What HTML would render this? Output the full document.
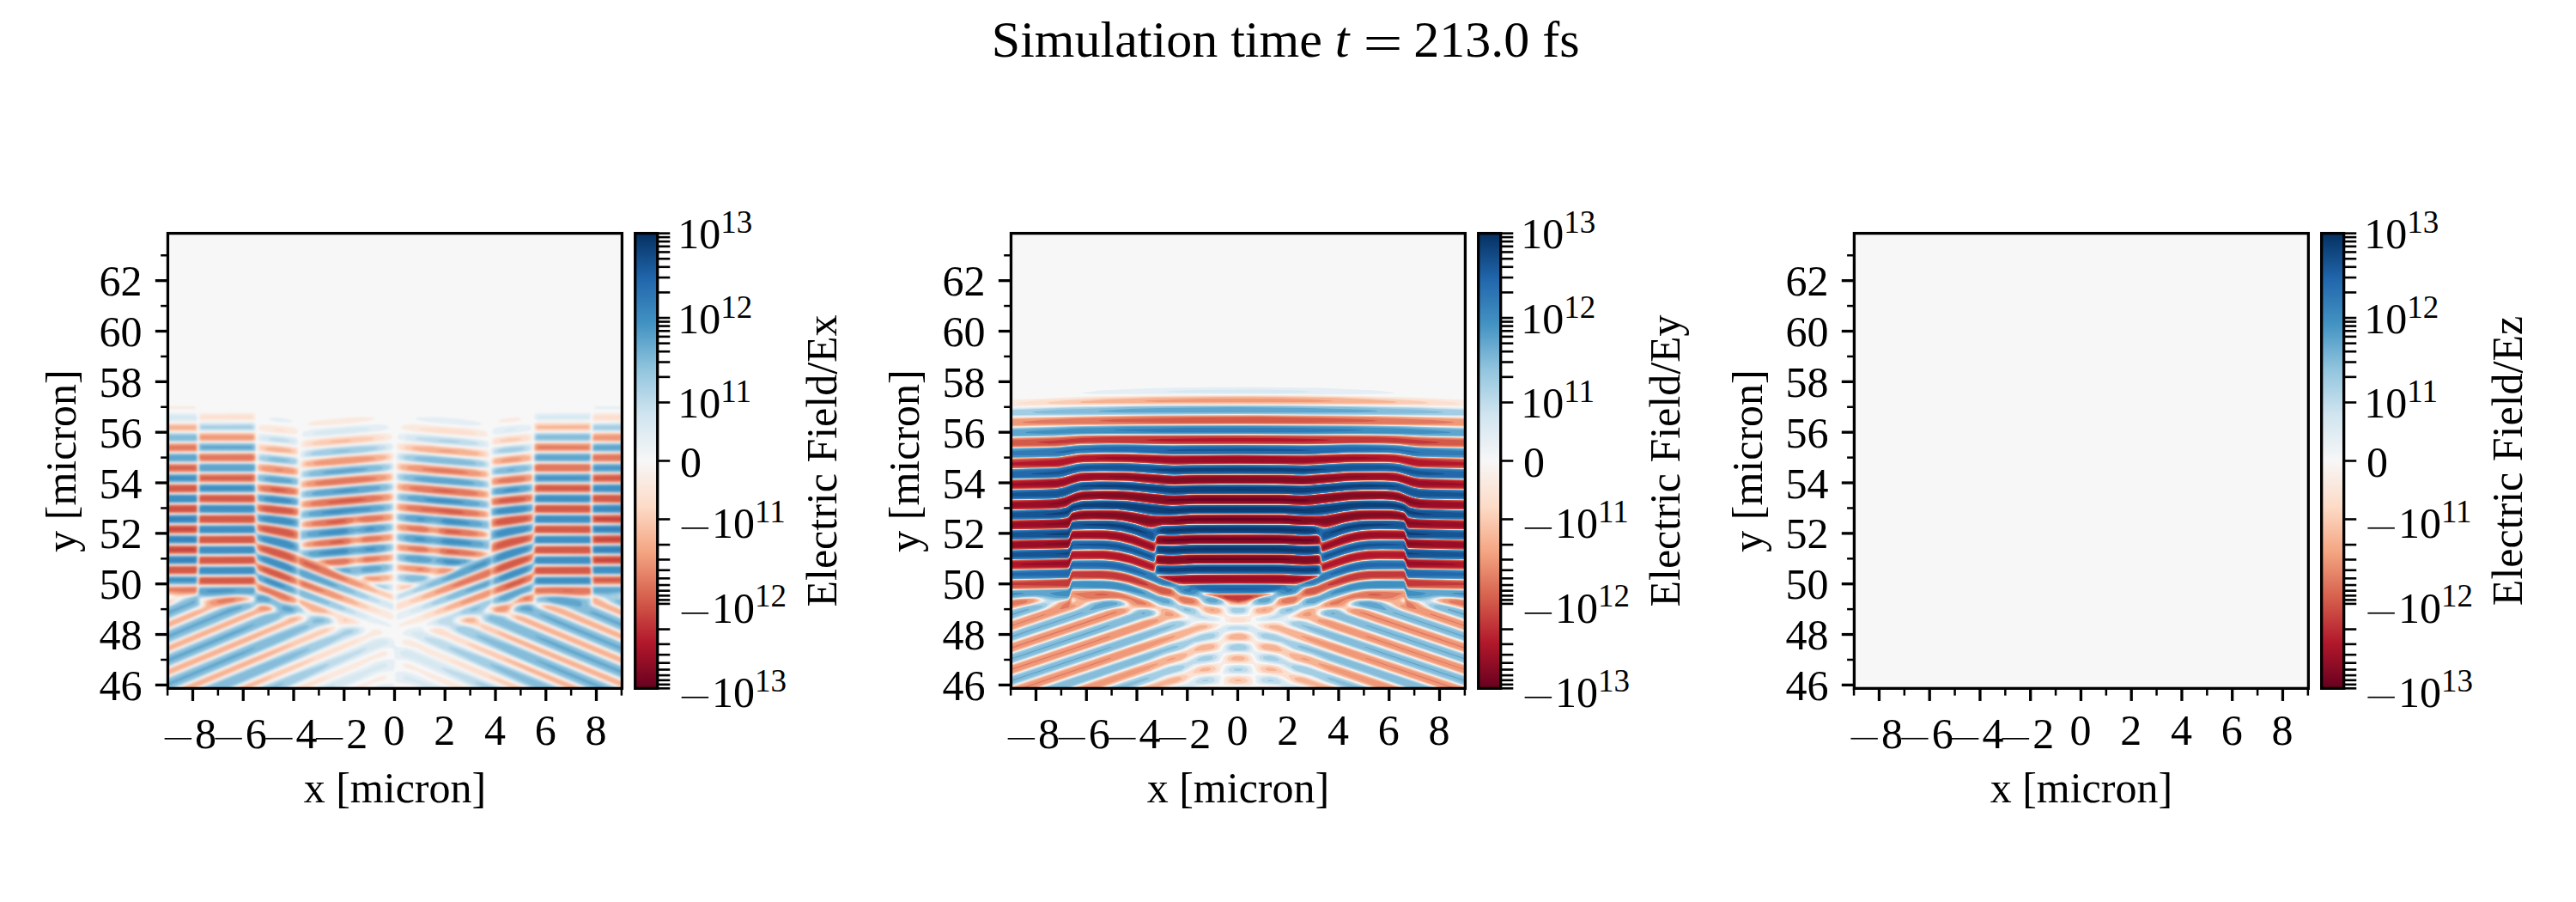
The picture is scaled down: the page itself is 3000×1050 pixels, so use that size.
<!DOCTYPE html>
<html><head><meta charset="utf-8"><title>Simulation time t = 213.0 fs</title>
<style>html,body{margin:0;padding:0;background:#fff}svg{display:block}</style></head><body>
<svg width="3000" height="1050" viewBox="0 0 3000 1050">
<defs><linearGradient id="cb" x1="0" y1="0" x2="0" y2="1"><stop offset="0.0" stop-color="#053061"/><stop offset="0.1" stop-color="#2166ac"/><stop offset="0.2" stop-color="#4393c3"/><stop offset="0.3" stop-color="#92c5de"/><stop offset="0.4" stop-color="#d1e5f0"/><stop offset="0.5" stop-color="#f7f7f7"/><stop offset="0.6" stop-color="#fddbc7"/><stop offset="0.7" stop-color="#f4a582"/><stop offset="0.8" stop-color="#d6604d"/><stop offset="0.9" stop-color="#b2182b"/><stop offset="1.0" stop-color="#67001f"/></linearGradient><filter id="bl0" x="-2%" y="-2%" width="104%" height="104%"><feGaussianBlur stdDeviation="2.6"/></filter><filter id="bl1" x="-2%" y="-2%" width="104%" height="104%"><feGaussianBlur stdDeviation="1.0"/></filter></defs>
<rect width="3000" height="1050" fill="#fff"/>
<g font-family="Liberation Serif, serif" font-size="60" fill="#000"><text x="1154.8" y="66">Simulation time <tspan font-style="italic">t</tspan></text><text transform="translate(1587.6 70.3) scale(1.36 1)">=</text><text x="1646.3" y="66">213.0 fs</text></g>
<g id="p0">
<rect x="195.45" y="271.6" width="528.95" height="529.75" fill="#f7f7f7"/>
<clipPath id="cl0"><rect x="195.45" y="271.60" width="528.95" height="529.75"/></clipPath><g clip-path="url(#cl0)"><g transform="translate(195.45 271.60) scale(0.5)" filter="url(#bl0)" fill-rule="evenodd"><path fill="#e4eef4" d="M994 405l5-2 58 0 0 4 0 2-62 0-2-2zM1 419l64 0 2 2 2 3 0 11-1 2-5 1-62 0-1-7zM858 419l121-1 4 1 2 2 0 10-1 4-5 1-118 0-5-1-2-4 0-8zM583 429l40-1 62 5 38 6 5 2 3 4-6 2-20 1-85-7-37-6-5-2-1-2zM236 431l13-2 20 2 17 4 3 2 0 2-10 1-23-1-19-4-3-2zM72 441l7-2 120 1 6 3 1 12-1 4-6 2-122 0-4-1-1-3zM992 441l65-1 2 5-1 16-1 1-68 0-2-3 1-12 1-4zM446 447l43-2 20 2 6 4-2 4-10 3-13 3-78 8-73 5-20 0-4-1-2-4 1-4 3-3 18-5 44-5zM810 447l21-1 12 1 2 2 2 4-1 4-3 2-19 4-45 5-18 0-5-3 1-8 6-4 18-3zM857 463l128 0 2 2-1 16-1 4-4 0-126 0-2-1-2-3 0-12 2-5zM0 465l1-2 66 1 3 3 1 18 2 1 130 1 2 0 2 4-1 16-1 2-6 0-124 0-3-2-2-20-69-1-2-1zM219 467l42 3 36 5 6 4 1 10-3 4-8 0-78-8-4-2-1-2-1-8 2-5zM541 467l16-1 34 1 130 12 22 4 5 4 1 6-2 4-2 2-16 0-169-14-15-3-8-3-2-4 1-4zM484 489l29-1 10 2 3 5-1 6-3 4-7 2-57 6-129 10-16 1-3-1-2-4 1-8 1-4 9-3 52-6zM988 489l7-2 62 0 2 2 0 20-2 1-68 0-2 3 0 16-2 4-132 0-2-2 0-16 2-4 2-1 130 0 2-2zM814 491l33-2 2 3 1 9-1 5-2 2-80 9-10 0-4-2-1-12 5-5zM1 511l66 0 3 2 1 20 2 1 130 0 2 1 1 4 0 18-133 0-2-2-1-20-69-1-2-3 0-18zM535 511l12-1 32 2 162 15 8 3 2 16 6-3 92-8 2 4 0 12-2 4-4 2-90 8-3-2-1-16-10 1-160-13-44-5-4-2-2-5 1-8zM209 513l4-2 88 9 5 5 0 14-3 2-8 0-84-9-3-3zM488 535l29-2 8 1 2 5 0 8-1 4-3 2-28 4-178 15-8-1-3 16-1 2-92-9-5-1-1-4 0-17 72 6 26 4 2-1 2-15 6-2zM990 535l68 0 1 22-2 1-68 0-2 1 0 20-1 2-3 0-128 0-3 2-1 17-2 3-90 9-6 0-1-1-3-16-28-1-175-15-12-2-3-2-1-4 1-12 2-2 6-1 176 14 33 5 3 14 2 2 96-10 2-2 1-18 3-3 132 0 1-19 1-4zM-1 559l70 0 1 4 1 18-4 1-66 0-2-1zM499 581l22-2 5 2 2 4 0 10-1 4-4 2-204 18-10-1-2 15-2 3-96-9-2-3-2-17-2-2-128 0-3 0-1-22 2-1 128 0 3 1 1 2 2 16 2 3 96 10 2-2 2-14 4-1zM988 583l69-1 2 1 0 22-70 0-2-2zM531 605l4-2 208 17 6 2 2 13 2 2 96-10 2-2 2-17 4-2 128 0 2 2 0 21-6 0-126 0-3 4-1 14-2 3-96 11-2-2-2-16-214-19-4-1-1-2 0-10zM-1 607l70-1 1 3 0 20-5 0-64 0-2 0zM511 627l12-1 4 2 1 15-2 4-3 1-214 21-1 16 1 2 18 1 196-15 4 2 1 4 0 12-3 3-32 5-171 16-12 4-1 13 4 2 14 1 74-6 38-4 84-5 4 3 1 14-2 4-5 2-82 9-42 2-56 6-14-3-23-10-33-11-60-16-4-5-3-12-3-2-128 0-2 2-2 21-68 1-2-2 0-20 2-2 68 0 2-2 1-20 3-1 128 0 2 5 2 11 2 3 48 9 44 11 4 0 2-4-1-22-2-2-37-7-56-8-4-4-2-13-2-4-132 0-1 22-1 1-69 1-1-22 2-1 68-1 2 0 0-20 2-3 130 0 2 5 2 14 2 2 96 11 2-3 2-14 2-2zM987 631l4-1 66 0 2 1 0 22-70 0-1-2zM531 651l6-1 212 16 2 19 2 3 96-14 2-3 2-12 2-5 130 0 2 3 1 20 69 0 2 2 0 20-2 2-68-1-1-1-1-20-2-2-130 0-2 4-2 12-3 4-57 11-36 10-3 3-2 18-5 1-44-6-137-11-31-5-3-3 0-12 1-5 4-1 84 5 56 5 60 4 10 0 4-2 1-8-1-7-13-3-201-19-4-3-1-2 0-12zM854 703l3-1 128 0 2 3 1 18 1 1 68 1 2 2 0 20-2 1-68 0-2-19-2-4-130 0-4 14-4 4-60 19-104 41-148 53-4-2-1-9 3-6 36-14 8-4 4-4-26-2-20-3-4-3-1-4 1-10 2-3 22-1 48 4 8 1 4 5 4 0 32-9 18-7 9-6-59-4-84-9-4-3-1-4 0-12 3-3 22 0 64 4 102 11 66-23 60-16 4-3zM72 727l5-1 126 0 4 13 4 4 70 23 88 35 154 59 4 3 0 12-2 3-2 0-8-2-94-33-208-76-5-4-5-14-128 0-3 2-2 18-1 2-2 1-66 0-2-1 0-20 1-2 69-1 1-1zM854 751l3-1 128 0 1 3 2 16 1 3 69 1 1 22-2 1-66 0-3-3-2-18-3-2-128 0-6 14-6 4-238 87-66 21-4 0-3-2 0-6 1-4 6-4 102-40 206-77 4-3zM486 769l39-1 2 3 0 14-2 3-20 4-49 5-6 2-5 3-36-9-20-8-9-6 3-2zM72 775l7-1 124 0 5 13 3 3 237 89 71 32 2 4-4 1-44-9-29-10-41-13-72-27-28-11-90-33-4-2-6-14-128 0-4 2-1 16-3 4-66 1-2-1 1-22 67-1 2-1 1-2zM854 799l3-2 126 1 3 1 1 2 1 16 3 3 67 1 1 48-2 4-27-12-19-12-20-5-2-3-2-16-2-3-128-1-3 2-3 10-3 4-25 7-30 16-28 5-10 0-10 8-3 6 3 3 10 0 8 4 24 3 19 12 251 104 2 4-1 28-1 1-297-123-22-8-6-4-5-8-4-3-16-2-22 2-10 5-3 4 1 4 8 4 32 7 340 143-8 1-70 0-306-128-21-13-13-3-32-3-1-2 2-4 19-10 32-11 37-15 155-58 3-2zM478 815l45 0 3 4 0 10-2 4-3 1-14-3-26-10-5-4zM72 823l7-2 122 0 2 2 4 10 4 3 24 7 32 16 26 5 10-1 15 12 9 10 36 4 14 4 10 6 3 4-1 4-6 4-32 8-24 11-310 130-16 0-2-1 0-24 2-2 286-120 28-10 4-2 2-4 1-4-3-3-14-3-26 5-20 11-258 108-2-2 0-28 2-4 214-89 29-7 5-4-3-6-7-5-14-2-14 1-14 10-40 16-156 65-2-3 0-28 2-3 116-49 32-9 46-8 4-3-1-4-4-2-29-4-34 2-52 7-2 3 2 10-4 5-74 30-2-1 0-30 2-2 13-6 19-12 34-7 3-5zM883 843l26 0 56 4 18 0 2 2 2 14 4 4 66 28 2 4-1 28-1 1-136-57-24-6-18-3-12 1-5 2 0 2 4 4 8 4 39 15 144 60 2 5-1 28-1 0-222-92-32-9-1-3 1-4 4-6 4-3 16-4 28-1 0-12 2-3zM0 845l1-2 4 2 1 2-5 3zM417 915l26-1 14 4 3 3 1 4-3 4-5 4-32 12-270 114-8 1-68 0-4-1 314-130 18-12zM573 919l12-2 6 1 9 9 10 6 31 10 279 116-9 1-68 0-242-103-28-14-24-8-2-2 0-2 4-4 8-5zM496 941l15-1 10 4 6 5 3 12 3 2 22 2 16 4 216 90-2 0-54 1-20-1-140-61-18-5-24-2-2-22-4-3-8-1-14 1-14 5-206 88-64 1-13-1 251-103 22-11zM509 993l18-1 2 1-1 20-3 5-24 3-14 4-78 34-44 1-26-1 118-48 28-13zM536 1021l17 0 16 4 80 34-22 1-38-1-26-9-30-5-3-4 0-14 1-4zM508 1049l17 0 3 4 0 6-27 1-26-1 16-7z"/><path fill="#d7e8f1" d="M1 425l0-1 60 0 4 1 2 6-2 3-4 1-60 0zM862 425l115-1 4 2 1 3-1 2-6 1-110 0-4-1-2-2zM75 443l6-1 118 0 3 3 2 8-1 4-6 3-118 0-4-1-2-3 0-9zM993 443l64-1 1 17-1 2-65 0-3-3 0-7 1-6zM425 453l28-1 16 1 4 2-2 2-17 4-81 8-26 0-9-2 1-2 4-2 18-4zM797 455l15 0 2 2-17 4-14 0-3-2zM1 465l66 0 2 4 1 14-1 2-4 1-64 0-1-5zM856 465l9-1 116 0 4 1 1 2 0 12-1 4-6 2-120 0-5-2-2-4 1-10zM561 471l46 0 88 7 34 6 8 3 3 4-1 3-4 1-18 1-57-3-63-6-29-4-14-4-3-4 2-2zM218 473l21-2 38 4 17 4 3 2 2 4-2 4-8 1-48-4-23-5-3-4zM72 489l1-2 126 0 4 1 2 3 1 12-1 4-6 2-122 0-4-1-1-3zM990 489l5-1 62 0 1 3 0 18-1 1-68-1-1-2 0-10zM484 491l23 0 8 2 3 2 1 4-4 4-15 4-52 6-105 8-24 0-4-1-3-3 0-4 3-4 8-3 12-3 70-7zM811 493l22-1 12 1 2 2 1 6-2 4-3 2-23 4-49 4-12 0-4-4 2-8 6-4zM858 511l126 0 2 2 0 16-1 3-4 1-124 0-4-2-1-12 1-6zM0 513l1-2 66 1 3 3 0 16 0 2-3 1-66 0-1-3zM543 513l18-1 36 3 130 11 18 5 3 4 0 6-1 2-4 3-20 0-90-7-78-8-12-2-7-4-1-4 0-4 4-3zM211 515l6-2 18 1 60 7 8 4 1 4 0 6-3 4-8 1-38-3-40-5-4-2-2-3 0-8zM73 535l130 0 3 4 0 14-1 2-6 2-126-1-1-3-1-14zM507 535l14 1 3 3 1 4 0 4-3 4-13 3-178 16-18-1-4-4 0-6 2-5 4-2 10-2 102-10zM827 537l18-1 4 2 1 11-1 4-2 2-26 4-56 5-8 0-4-3 0-12 6-5zM989 537l6-2 62 0 1 4 0 18-69 0-1-4zM0 559l67 0 2 1 1 3 0 16-1 2-68 0-1 0-1-4zM536 559l11-1 34 2 152 13 14 4 2 3 0 9-2 4-2 1-16 0-182-16-10-2-4-3-1-8 1-4zM855 559l130 0 2 4-1 16-2 2-5 0-124 0-3-2 0-12 1-6zM208 561l3-2 14 0 74 8 4 2 3 4-1 12-2 3-8 0-84-9-3-4zM72 583l129-1 2 1 2 4 1 18-131 0-3-2-1-14zM480 583l33-2 10 1 3 5 0 8-3 4-7 2-59 6-128 10-18 0-3-4 2-12 9-4zM832 583l15-1 3 1 1 14-1 4-3 2-84 9-8 0-3-3 0-14 5-4zM990 583l67-1 1 3 0 20-69 0-1-2 0-16zM535 605l12-1 34 2 159 15 7 2 2 2 2 15 14-4 84-8 2-1 2-18 4-3 129 1 0 2 1 14-2 6-130 0-3 2-1 16-4 3-94 10-2-3-1-16-1-1-6 2-20-1-180-16-8-2-3-4 0-10zM0 607l69 0 1 2 0 18-1 2-68 0-2-2zM206 607l1-2 18 1 76 8 5 3 1 2-1 14-3 2-91-8-3-1-2-4zM490 629l27-2 7 2 3 4 0 8-2 4-4 2-48 6-154 13-10 0-2 19-2 3-94-15-4-4-1-12-3-4-131 0-1-6 0-14 1-2 3-1 126 0 3 3 2 16 3 2 66 7 30 5 2-1 2-15 6-3zM988 631l69-1 1 3 0 20-68 0-2-2zM539 651l36 1 170 15 4 1 2 20 2 2 38-8 58-8 3-3 2-14 1-3 128 0 3 1 0 2 1 17-1 3-131 0-3 4-1 11-4 4-56 12-38 9-2 4-2 17-4 1-177-16-33-6-4-4 0-10 3-4 7-2 28 1 168 14 12 0 1-5 0-12-1-4-180-16-32-4-5-4-1-10 2-5zM0 655l69-1 1 3 0 18-1 1-6 1-63 0zM497 675l22-1 6 2 2 7-1 8-3 3-6 1-30 4-150 13-28 4-1-1 0-20 1-5zM73 679l130-1 4 17 2 2 48 9 48 12 2 3 2 14 2 0 42-2 86-7 74-5 8 0 4 2 2 4 0 8-2 4-2 2-22 4-162 14-21-6-13-7-46-14-48-13-3-2-3-12-2-4-132 0 0-13zM988 679l1-1 68 0 1 1 0 20-1 2-68-1zM0 703l1-2 68 0 2 2-1 20-7 1-62 0-1-1zM855 703l128-1 2 1 1 2 1 20 70 0 1 2 0 20-1 1-66 0-2-1-1-2-1-19-132-1-2 4-3 10-4 4-91 30-62 26-84 30-70 23-4 1-2-2-1-6 4-4 35-15 8-4 5-5-2-2-23 0-20-4-4-3-2-3 0-6 2-5 6-2 14 0 53 5 5 6 4 0 34-10 18-8 11-6-3-2-20 0-88-7-28-4-7-3-3-4 1-10 3-4 22 0 145 12 17 3 12-3 56-21 61-15 3-4zM73 727l130-1 4 14 4 4 64 20 185 73 61 26 3 4 0 4-2 2-4 0-77-24-227-82-6-4-5-14-130 0-2 2-1 18-3 3-66 0-1-1-1-20 2-2 68 0 2-2zM855 751l128-1 3 3 2 18 1 1 68 1 1 2 0 20-1 1-66-1-2-2-2-16-2-4-130 0-6 14-2 2-32 12-190 68-42 12-16 2-7 0 4-4 14-8 50-22 105-40 22-7 42-18 50-17 4-4zM493 769l20-1 10 1 3 4 0 6-1 5-2 3-22 5-48 4-10 5-34-8-19-8-8-6zM73 775l130-1 5 13 3 3 202 77 40 18 10 6 3 4-5 1-9-1-45-12-84-29-20-10-12-2-36-13-44-17-3-3-5-12-130 0-2 2-2 16-2 4-66 0-2-4 1-18 69-1zM855 799l128-1 3 3 2 18 3 1 66 1 1 4 0 38-1 9-25-11-19-12-22-6-2-4-2-16-2-2-128 0-3 2-5 12-26 9-26 14-12 3-20 3-6 0-4-1-14 12-2 4 1 4 5 1 10-1 8 4 22 3 19 11 253 105 1 3 0 26-1 3-318-133-4-2-6-10-4-3-20-1-24 3-10 5-3 4 1 4 8 5 33 7 341 142-16 1-58-1-306-128-20-14-30-6-4-2-1-2 3-4 11-6 31-11 33-15 61-22 14-6 78-29 3-3zM479 817l6-1 32 1 6 4 0 6-4 4-10-1-20-6zM73 823l128-1 3 3 3 9 3 3 25 6 30 16 28 6 10-1 15 13 2 4 0 4-5 1-12-1-6 3-20 4-20 11-256 107-1-3 0-26 1-3 215-89 30-8 4-4-2-6-9-5-14-3-14 1-16 11-194 80-1-2 0-26 1-4 120-51 38-9 36-6 4-2 1-6-3-2-26-4-30 1-64 6-2 5 2 10-4 4-72 30-1-2 0-26 1-3 16-7 18-11 32-8 3-3 1-13zM866 845l33-2 84 5 2 3 1 12 3 4 68 28 1 10-1 22-134-56-38-9-14-1-12 1-3-5 0-8 3-3zM1 847l0-2 1 2zM826 863l17-1 10 1 10 8 48 19 146 61 1 6 0 24-1 1-220-92-30-8-4-3 3-8 7-5zM338 889l23 1 17 5 6 4 2 4-1 4-4 2-30 8-88 39-246 103-16 1-1-1 0-22 1-4 264-109 50-19 6-4 6-11zM419 917l20 0 12 4 1 2 1 4-7 6-27 10-106 46-168 71-62 0-10-1 210-87 104-41 18-12zM575 927l12 0 20 8 30 9 281 115-7 1-60 0-7-1-244-106-31-18-1-4zM489 947l12-1 10 2 3 3 0 4-5 3-26 9-205 92-37 1-34-1 138-56zM544 973l11-2 14 3 26 12 187 73-29 1-35-1-137-64-34-10-6-6 1-4zM492 1003l9-2 8 1 3 3 0 2-3 4-34 11-20 11-56 26-28 0-24 0 118-44zM550 1031l9-1 8 2 22 11 45 16-32 0-21-12-30-8-4-4zM494 1059l9-2 5 2z"/><path fill="#c0dceb" d="M77 445l118-1 6 3 1 6-2 4-5 1-116 0-4-1-1-4 1-6zM994 445l63-1 0 15 0 1-64-1-3-2 0-6 1-4zM0 467l1-2 64 1 2 1 2 4 0 10-2 3-66 1zM856 467l9-2 114 0 4 1 2 2 0 11-1 4-5 1-120 0-4-2-1-3 0-8zM583 475l38 0 54 4 39 6 10 4 0 2-9 2-22 0-76-6-35-6-5-2-1-2zM236 477l11-1 16 1 12 2 10 4-1 2-7 1-21-1-19-4-3-2zM73 489l8-1 118 0 5 3 1 10-2 6-6 1-120 0-4-1-1-2 0-12zM992 489l65-1 1 7 0 14-67 0-3-2 1-16zM443 495l40-2 20 2 4 2 1 2-1 2-10 4-10 2-50 6-84 6-26 0-6-1-3-3 3-4 3-2 17-4 40-5zM810 495l21-1 11 3 1 2-1 4-9 4-25 4-33 2-12 0-4-2 0-2 2-5 6-3 18-4zM0 513l1-1 66 0 3 5 0 14-2 2-67 0-1-4zM855 513l10-2 120 1 1 3-1 16-6 2-120-1-5-1-1-4-1-8zM550 515l19-1 36 2 108 10 25 5 6 4 1 4-2 3-4 2-18 1-57-4-86-8-26-4-10-4-2-2 0-4 3-2zM213 517l8-2 16 1 48 5 14 4 3 4 0 4-3 5-8 1-28-2-40-5-8-2-4-3-1-6zM72 537l3-2 124 0 4 1 2 3 0 12-2 5-6 1-120 0-5-2zM485 537l28 0 6 1 2 3 1 4-3 4-9 4-12 2-82 8-80 6-19-1-4-2-2-3 1-4 3-4 16-5 56-6zM989 537l6-2 62 0 1 6 0 16-68 0-2-4zM813 539l24-2 10 1 2 4 0 7-2 4-2 1-30 5-46 4-11 0-4-4 1-9 6-5zM859 559l123 0 4 2 0 16-1 3-6 1-120 0-6-2-1-8 2-10zM0 561l1-2 66 1 3 3 0 16-2 2-67 0-1-4zM210 561l24 0 63 7 4 1 3 4 1 10-4 4-8 0-79-8-4-2-2-2 0-10zM537 561l12-2 32 1 140 12 22 5 4 4 1 6-2 4-3 1-17 1-165-14-18-3-6-3-3-6 1-4zM74 583l127 0 2 1 2 4 0 13-2 3-6 1-122 0-3-2 0-18zM488 583l27-1 8 3 2 6-2 5-4 3-9 2-78 8-103 8-14-1-3-1-2-4 0-6 3-4 16-4zM841 583l8 0 1 4 0 12-1 2-5 2-79 8-8 0-4-3 0-11 4-5 20-3zM992 583l65 0 1 6 0 16-67 0-3-2 0-16 1-3zM0 607l68 0 2 4 0 16-3 2-66 0-1-4zM208 607l21 0 70 7 4 2 2 3 1 12-3 3-6 1-82-8-6-2-2-10zM536 607l9-2 30 1 156 14 10 2 6 3 2 4 0 6-2 4-2 1-12 1-180-16-14-2-4-3-2-7zM856 607l127-1 3 3 0 16-1 3-4 1-124 0-5-2 1-15zM498 629l21 0 4 1 2 3 0 6-2 5-5 3-10 2-182 16-13 0-4-4 1-12 3-3 6-2 58-6zM74 631l127-1 2 1 2 5 2 16 68 6 28 5 2 2 2 4-1 16-3 1-14-1-78-12-4-6-1-12-3-3-129 1-2-2 0-16zM821 631l30-2 0 15-2 5-2 0-82 10-10 0-3-2 0-14 3-4 12-3zM989 631l68-1 1 3 0 18-1 2-66-1-2 0-1-3 0-14zM536 653l9-1 27 1 171 15 6 3 0 16-2 2-10 0-185-16-13-3-5-3-2-8 2-4zM0 655l69-1 0 21-6 1-62 0-1-3zM856 655l129 0 1 4 0 14-1 3-130 0-3 3-1 11-2 5-4 2-94 19-2 19-2 2-188-16-22-4-2-2-2-4-1-6 3-5 6-2 12 0 190 15 6 2 2-2 0-18 3-4 39-9 56-7 3-2 1-13zM476 677l35-2 12 2 2 4 0 8-4 4-8 2-28 4-170 15-6-1-1-18 1-2 5-2zM73 679l128-1 3 3 2 14 3 3 56 10 40 12 4 18 194-16 18 1 4 3 1 7-2 4-3 3-23 5-159 13-20-5-8-4-6-5-10-1-36-11-48-13-3-2-2-12-3-5-130 0-1-1 0-18zM988 679l69-1 1 3 0 18-1 1-66 0-2-1-1-2zM0 703l69-1 1 3-1 18-4 1-64 0-1-3zM856 703l127-1 3 3 1 16-2 3-130 0-3 5-3 11-4 3-84 28-6 1-13 7-45 18-78 28-78 23-4 0-1-1 3-5 47-21 3-6-28-1-18-4-6-3-2-4 0-4 4-4 20-2 42 3 7 3 2 6 5 0 46-16 16-8 6-4-20 0-94-8-24-4-9-2-3-4 0-8 3-4 13-2 28 1 120 11 22 4 36-12 9-4 23-8 62-16 3-4 1-9zM74 727l128 0 5 14 2 3 66 21 20 8 8 4 12 3 107 43 52 22 15 8 8 6-6 1-18-3-46-14-108-38-16-8-12-2-76-28-6-4-3-10-3-5-130 1-2-2 1-18zM988 727l3-1 66 0 1 3 0 18-1 1-66-1-3-2zM0 751l1-2 68 0 1 2-1 18-1 2-3 0-64 0-1-2zM855 751l128-1 3 3 1 19-2 1-130-1-7 15-17 8-60 22-16 3-17 9-87 30-41 12-11 2-9 0 0-2 12-8 39-18 99-38 15-4 11-6 37-15 44-14 4-5zM474 771l29-2 16 1 4 2 1 3 0 6-2 4-15 5-56 6-10 3-22-4-14-4-17-8-4-4zM74 775l127-1 2 1 5 14 3 2 76 28 12 5 4 3 6 1 81 31 36 16 10 6 4 4-3 1-10-1-26-6-82-28-10-4-6-5-4 1-8-2-46-16-34-14-8-15-132 0 0-13zM988 775l1-2 68 0 1 4 0 18-67 0-3-4zM0 799l1-2 68 0 1 2-1 15-2 4-4 1-62 0-1-4zM855 799l128-1 2 1 2 4 0 17-132 0-7 15-23 7-28 15-14 4-18 3-6-1-4-3-16 15-4 6 0 4 6 1 14-1 6 2 22 4 18 10 255 106 2 2-1 27-316-131-7-6-3-11-32 0-28 3-6 4-2 4 0 6 2 4 6 2 24 4 14 3 339 141-35 1-36-1-160-68-140-60-10-6-10-11-24-5-5-2-1-2 1-2 6-4 27-9 32-17 54-20 8-1 4-4 11-5 77-29 3-1zM485 817l27 2 5 2 2 4-4 4-8 0-22-8-2-2zM74 823l127-1 2 2 3 11 3 2 26 7 30 16 26 5 12 1 11 9 3 6-1 2-3 1-10 0-6 3-21 4-21 12-254 106-1-14 1-16 214-89 32-8 4-3 1-4-3-4-8-5-18-3-14 1-8 7-8 4-192 79-1-15 1-15 122-52 30-8 24-4 18-1 5-2 1-6-1-4-23-4-36 0-50 5-14 1-3 2 1 14-3 4-71 29-1-15 1-14 18-8 20-11 28-7 2-2 2-13zM988 823l3-2 66 0 1 8-1 42-22-10-18-12-26-7-2-5zM871 845l44-1 68 6 2 3 1 12 3 3 68 28 1 9-1 21-132-56-38-8-26-2-2-1-2-4 0-6 3-2zM831 863l12-1 8 2 10 7 10 4 38 15 148 62 1 9-1 20-218-91-32-9-2-5 5-7 10-4zM335 891l20 0 19 4 6 4 2 4-2 4-3 2-28 7-102 45-233 98-13 1-1-1 1-25 238-98 80-31 5-4 6-8zM411 921l16-2 14 2 4 3 0 3-7 6-21 7-111 51-160 68-35 1-35-1 199-83 116-44zM597 941l14 0 23 6 125 48 156 64-32 1-36-1-120-52-117-54-10-6-3-4zM454 967l9-2 1 2-15 10-87 42-89 40-32 1-30-1 136-54zM636 1011l12 2 32 10 97 36-51 0-70-34-17-10zM381 1053l8-1 2 1-8 6-23 0z"/><path fill="#a2cde3" d="M79 449l114-1 4 2 1 3-5 2-112 0-4-2zM993 449l6-1 58 0 0 9-62 0-3-2zM1 467l62 0 4 2 2 10-2 4-4 1-62 0zM860 467l119 0 4 1 2 7-2 6-4 2-117 0-5-2-2-4 1-6zM632 481l35 2 12 2 4 2-20 0-24-2-10-2zM77 489l121 0 5 3 1 9-1 4-2 2-124 0-4-2 0-14zM991 491l6-2 60 0 0 18 0 2-64-1-4-3 0-10zM445 497l32 0 13 2 0 2-3 2-30 6-88 8-32 0-6-2 0-2 7-4 19-4 33-4zM796 499l25-1 7 1 3 2-1 2-12 4-23 3-18 0-8-1-1-2 2-2 12-4zM1 513l65 0 3 4 0 13-6 3-62 0zM857 513l124-1 3 1 1 2 0 12-1 4-5 1-120-1-4-1-2-5 1-8zM561 517l31 0 33 2 83 8 26 6 3 2 1 4-2 2-7 1-20 1-120-10-26-4-12-4-2-4 2-2zM218 519l21-1 46 5 12 4 1 2 1 4-4 3-10 1-46-4-11-2-12-4-2-4zM73 537l8-1 118 0 3 1 2 2 1 10-2 6-6 1-120 0-4-1 0-2zM991 537l66-1 1 19-1 2-64 0-4-2 0-14zM469 539l34-1 12 3 2 4-3 4-13 4-13 2-133 12-32 0-6-2-2-2 1-4 5-4 17-4 53-6zM802 541l29-2 12 1 4 2 1 5-1 3-4 3-19 4-36 4-25 0-4 0-2-2 0-8 6-4zM0 561l1-1 66 0 2 3 0 16-5 2-63 0zM548 561l26 0 32 2 109 10 24 5 5 3 1 5-2 3-4 2-35 0-136-12-22-4-7-4-1-4 1-3zM855 561l10-2 116 1 4 1 0 18-6 1-120 0-4-1-2-4 0-8zM211 563l10-2 28 2 46 6 5 2 3 3 0 9-2 2-8 1-44-3-30-4-7-2-3-4 0-8zM73 585l8-2 116 0 6 2 2 6 0 8-2 4-8 1-118 0-4-1zM468 585l35-2 15 2 4 4-1 6-8 4-10 2-54 6-99 8-33 0-4-2-1-4 1-5 4-3 19-4zM820 585l28 0 1 2 0 12-2 2-21 4-63 5-8-1-2-4 1-8 4-4 22-4zM989 585l8-2 60 0 1 20-1 2-64 0-4-2zM1 607l66 0 2 1 0 19-6 1-62 1-1-10zM211 607l36 2 50 6 7 4 1 4 0 7-2 3-8 1-61-5-23-4-2-2-2-10 2-5zM543 607l26 0 30 2 129 12 15 4 3 4 1 4-2 4-4 2-31 0-155-14-10-2-8-4-2-4 1-4 1-2zM861 607l120 0 4 2 1 16-1 2-6 1-120 0-5-1-1-12 2-7zM76 631l123 0 4 2 2 6 0 11-2 1-8 2-118-1-4-1-1-4 1-14zM477 631l32-1 12 2 2 5-2 6-8 4-11 2-156 14-29 0-4-1-3-3 0-6 3-4 11-4 55-6zM826 631l24 0 1 2 0 8-2 6-2 2-25 4-59 6-6-1-4-3 0-12 5-4zM991 631l66-1 1 21-1 1-66 0-2-1 0-18zM545 653l46 2 136 12 18 4 3 4 1 6-3 6-11 1-71-5-107-10-17-4-5-4 0-8 2-2zM0 655l68 0 2 4-1 16-8 1-60 0-1-5zM207 655l6-2 25 2 61 8 6 4 0 16-4 2-10 0-78-12-4-2-2-6zM858 655l125 0 2 1 1 17-1 2-6 1-120 0-6-1 0-12 2-7zM482 677l31-1 9 3 2 6-3 6-11 4-11 2-157 14-27 1-4-1-2-3 0-10 2-3 2-2 10-2zM838 677l13 0 0 11-2 5-2 2-80 18-10 1-4-1-1-16 2-4 3-2 25-6zM75 679l126 0 2 2 4 18 57 10 30 8 9 4 2 4 1 16-3 2-6-1-85-23-3-2-3-14-3-4-128 1-3-1 0-6 1-12zM989 679l68-1 1 21-1 1-66-1-2-1-1-3zM538 701l15-2 32 2 156 14 6 2 1 2 1 13-2 2-4 1-21 0-161-14-19-4-5-3-2-2-1-5 2-4zM0 703l69 0 0 18-1 2-67 0-1-4zM857 703l126 0 2 2 1 14-1 4-130 0-3 4-3 12-5 4-85 28-4-1-14 9-84 32-49 16-32 8-7 0-1 0 2-2 33-20 54-21 29-15-1-2-22 1-92-7-30-6-4-3-2-3 0-6 6-4 30 0 135 12 5 4 4 0 31-10 9-2 10-6 30-10 38-10 16-3 3-3 3-14zM492 723l25 1 6 3 1 4-1 4-4 4-13 4-13 2-152 12-8 0-12-4-8-4-4-4 0-3 4-3 15-2zM75 727l126 0 2 2 3 12 3 4 30 8 45 16 14 6 5 4 4 0 12 4 110 44 30 14 11 8-3 1-14-1-42-12-101-36-7-6-10 0-72-26-12-6-4-12-2-4-130 1-1-3 1-16zM989 727l68-1 1 5 0 16-67 0-2-2zM0 751l69-1 0 19-4 2-64 0zM857 751l126 0 2 2 1 16-1 3-130-1-8 16-22 10-56 20-8 2-6-1-6 5-8 4-75 26-36 10-13 2-4-2 4-4 11-6 41-18 80-30 6 0 5-4 17-8 49-18 23-7 3-5 3-11zM482 771l23-1 12 2 4 2 1 3-1 4-4 4-23 6-47 4-8 2-26-4-16-6-10-6 2-2 46-3zM75 775l126 0 2 2 4 12 4 3 22 7 52 20 13 6 5 6 4-2 8 2 52 20 36 16 10 6 4 4-12 0-36-10-53-18-8-4-5-7-2 3-8 0-58-20-24-11-5-11-3-4-130 1-2-3 0-7 2-9zM988 775l5-1 64 0 1 7-1 14-65 0-3-4zM551 795l22 0 23 2 8 2 2 2-5 9-37 3-17-4-6-4-2-4 1-2 2-2zM0 799l1-1 66 0 2 1 0 13-2 5-6 1-60 0zM857 799l126 0 2 2 2 5 0 11-2 2-130 0-3 4-3 9-3 3-21 6-35 18-27 3-5-1-2-4 1-4 3-4 12-6 31-12 44-15 4-3 4-12zM489 819l17 2 5 4-4 2-9-2-9-4zM77 823l122 0 4 2 2 10 4 3 26 7 28 15 40 8 8 7 2 4-2 2-8 1-8 4-22 4-10 7-12 6-250 104 0-26 216-90 12-4 20-4 5-4 0-4-3-4-8-6-22-3-14 1-9 8-8 4-39 15-150 62-1-23 1-3 130-55 35-8 15-2 16 0 3-2 3-6-1-6-1-2-12-2-30-1-56 5-28 0-3 4 1 14-4 3-68 29 0-27 20-8 20-11 28-7 2-3 2-16zM990 823l67-1 0 19-6 4 0 2 6 2 0 20-19-8-17-13-30-7-2-7zM878 845l39 0 64 6 2 2 0 12 4 3 70 30 0 27-126-54-40-10-30-3-2-3 1-6zM746 855l5 0 1 2-1 4-24 22-14 2-22 1-9-1-1-2 2-2 10-6zM822 865l17-2 11 2 13 9 39 15 155 64 0 27-216-91-31-8-3-4 2-5 3-3zM754 887l29 6 16 9 258 106 0 27-315-132-4-4 0-6 5-4zM338 893l15-1 15 3 4 2 5 4 0 4-3 2-29 8-23 12-73 32-238 100-11 0 1-23 220-91 80-32 20-7 6-3 6-8zM674 917l15-1 14 3 140 56 202 84-64 0-162-68-139-62-8-6-1-4zM414 925l9-2 8 1 2 3-4 4-20 6-31 18-77 36-159 68-63 0 210-86 75-28 35-11zM652 963l5 0 16 4 58 20 180 72-60 0-142-64-43-22-10-6zM368 1003l9 0-14 10-39 20-57 26-51 0 97-38zM713 1043l19 4 35 12-30 0-18-10-5-4z"/><path fill="#84bcd9" d="M1 471l60-1 4 1 2 6-2 4-4 1-60 0zM861 471l116-1 4 1 1 4-1 4-4 1-116-1-2-2 0-4zM78 491l117 0 6 2 2 6-2 5-6 2-116 0-4-2-2-5 2-6zM997 491l60 0 0 16-64 0-3-4 0-8 3-3zM405 505l27 0-19 4-26 1-8-1zM1 515l0-1 62 0 3 1 2 2 1 10-2 3-4 1-62 0zM857 515l8-2 114 0 4 1 2 3 0 9-2 3-5 2-115 0-6-2-2-2 0-8zM582 521l33 0 70 6 24 4 10 4 1 2-9 2-24 0-76-6-33-6-5-2 0-2zM235 523l18-1 20 3 11 4 0 2-11 2-24-2-15-4-2-2zM78 537l119 0 4 1 2 2 1 9-2 4-5 2-120 0-4-4 0-8 1-4zM991 539l6-2 60 0 0 18-64 0-2 0-2-4 0-8zM437 543l40-2 20 1 5 3 0 2-9 4-9 2-47 6-78 6-22 0-9-2-2-2 4-4 5-2 20-4zM805 543l20-1 12 1 3 2 1 2-1 2-8 4-22 4-31 2-12 0-5-2-1-2 3-4 7-3zM1 561l65 0 3 4 0 11-2 3-4 1-62 0zM858 561l123-1 4 3 0 12-2 4-124 0-4-2-1-6 1-8zM215 565l22-1 48 5 13 4 3 6-2 3-2 1-10 1-27-1-31-4-9-2-7-4-2-4zM551 565l14-2 20 0 98 8 41 6 11 4 2 4-2 2-6 2-22 0-108-8-30-4-16-4-5-4 0-2zM75 585l122-1 4 1 2 2 1 10-1 4-6 2-120 0-4-2 0-12zM991 585l66-1 0 19 0 1-66-1-2-2 0-6 0-7zM458 587l37-2 16 2 4 4-3 4-10 4-11 2-53 6-76 6-33 0-8-2-3-2 2-4 3-3 26-5zM810 587l25-2 11 2 2 4 0 4-2 4-4 2-24 4-42 4-15 0-4-2-1-2 1-8 6-4zM1 609l0-1 64 0 4 3 0 14-2 2-66 1zM212 609l25 0 54 6 10 4 2 4 0 6-5 4-15 0-43-4-25-4-4-2-2-3 0-9zM551 609l30 0 120 10 34 6 6 4 1 4-2 2-5 2-24 0-66-4-63-6-26-4-12-4-2-2-1-4 2-2zM856 609l9-1 116 0 4 2 0 15-1 2-5 1-120-1-4-1-1-3 0-8zM74 633l7-2 116 1 6 2 1 13-2 4-7 1-118-1-3 0-1-2zM463 633l36-2 16 2 3 4-1 4-2 2-12 4-12 2-132 12-34 0-6-1-5-3 1-4 4-4 16-4 54-6zM811 633l26-2 10 1 3 3-1 10-4 3-14 3-53 6-19 0-4-2-1-2 1-10 6-4zM990 633l7-2 60 0 0 20-66 0-2-4zM1 655l64 0 4 2 0 16-2 2-66 0zM210 655l20 0 21 2 43 6 6 2 3 3 1 11-3 4-8 1-76-11-6-2-2-2-1-10zM549 655l27 0 139 12 13 2 13 3 4 5 0 3-2 3-4 2-22 0-66-4-32-5-22-1-29-2-20-4-8-4-1-3 0-3 3-2zM856 657l9-2 116 0 4 2 0 16-1 2-5 1-120-1-4-1-2-3zM470 679l33-1 10 1 4 2 2 2 0 4-5 4-25 6-18 2-32 1-35 5-69 4-19 0-3-2-1-4 1-5 4-3 19-4 59-6 44-2zM826 679l17-1 6 0 1 5-1 8-4 4-74 16-12 1-4-1-2-8 1-6 3-4 4-2 25-6zM992 679l65 0 0 20-66 0-2-3 0-15zM73 681l8-2 116 0 6 2 2 14-3 4-7 0-118 0-4 0 0-2zM211 701l20 2 47 10 18 6 7 6 2 8-2 6-2 2-6 0-80-22-6-4-1-4 0-8zM557 701l39 2 23 3 52 3 56 6 16 4 3 4 0 4-1 4-4 2-18 0-65-4-39-6-48-2-21-4-6-2-5-4 0-5 4-3zM1 703l66 0 2 2 0 15-4 3-64 0zM855 705l10-2 116 0 4 2 0 16-1 2-5 0-120 0-6-2 0-8zM479 725l30 0 7 2 3 4-1 4-6 4-30 6-45 2-45 6-49 3-18-3-8-4-2-4 4-4 23-4 62-6 35-1zM837 725l12-1 2 2-2 11-8 6-72 24-10 2-4-3-6 7-7 4-55 22-55 18-15 4-15 2-1-2 12-8 60-27 30-16 41-15 7-1 4 2 3-5 6-4 20-8zM991 727l66-1 0 21-65 0-3-4 0-14zM73 729l8-2 118 0 4 2 3 16-1 1-10 1-120 0-2-1-1-3zM207 747l23 4 47 16 18 8 5 4 3 5 6-3 12 4 88 36 21 10 8 6-1 2-6-1-38-9-75-26-11-6-4-6-4 3-9-1-76-28-5-4-2-8zM548 749l36 0 37 5 37 1 40 4 7 2 1 2-3 3-6 3-26 6-18 0-34-6-34 0-29-4-12-4-4-4 0-4zM1 751l67 0 1 4 0 12-4 4-64 0zM855 753l10-2 116 0 4 2 1 16-1 2-120 0-10-1-3 3-3 10-7 6-58 22-19 5-6 1-3-2 0-6 2-4 4-4 48-20 24-8 17-4zM474 773l31-1 8 3 2 2-1 4-6 4-15 4-34 3-18-1-10 2-6 0-20-4-12-6 0-2 22-3 24 0 17-3zM990 775l67-1 0 19 0 1-64 0-2-1-2-4 0-12zM73 777l8-2 120 1 2 1 5 16 28 8 51 20 10 6 3 4 0 4-1 2-3 2-12-2-61-22-12-7-4-11-4-3-10 1-120 0-1-6zM1 799l66 0 2 4 0 6-2 6-4 2-62 0zM554 799l13-2 20 1 10 1 3 2 0 2-4 4-6 2-19 2-10-2-9-4-1-4zM856 801l9-2 114 0 6 2 1 12-1 5-4 1-122 0-6-2-1-2zM748 807l5 2 0 6-4 6-7 4-74 24-19 3-3-1 8-6 25-12 56-22zM841 819l8-1 1 3-2 10-7 4-18 6-33 16-21 3-6-1-3-2 2-6 10-6 45-18zM995 823l62 0 0 15-28 5-34-3-4-3-1-8 1-5zM75 825l54-2 68 1 4 1 2 2 1 10-2 4-5 1-38-1-56 4-22 0-6-1-3-3 0-10zM308 833l7 0 35 14 22 10 6 4 0 2-6 0-18-4-37-12-9-6-1-4zM205 843l8-2 12 2 10 3 24 15 38 9 5 5-3 6-9 4-25 2-7 8-11 6-246 104 0-21 224-93 34-7 1-3-2-6-5-8-4-2-14-4-26-1-4-1zM876 847l23-2 29 2 31 4 16 4 2 2 2 10 4 3 74 31 0 21-118-51-73-16-2-2 0-2zM57 849l8-2 4 2 1 12-3 5-66 28 0-21zM1042 853l15 0 0 13-14-7-2-4zM164 865l17-2 10 1 3 3-1 2-6 4-186 76 0-21 126-53 18-6zM833 865l8 0 8 2 6 6 6 3 39 15 157 65 0 21-212-89-32-9-2-4 3-4 9-5zM723 869l5 0 0 2-9 7-10 2-7-1 3-4zM748 893l7-2 22 4 16 8 90 36 174 72 0 4 0 17-186-77-122-54-4-4zM344 897l14 0 6 2 2 2 0 2-8 4-19 1-2-1 0-4 3-4zM319 913l9 0 1 2-4 4-57 28-115 50-149 62-3 0 0-20 218-90 73-28zM716 935l7 0 14 4 62 22 85 34 154 64-50 0-115-48-82-36-54-26-14-8zM324 967l7 0-4 4-38 20-70 32-84 36-48 0 156-64 49-18zM750 1005l1-2 9 2 25 8 118 46-42 0-75-34-23-12zM266 1047l5-1-2 3-17 10-23 0z"/><path fill="#5fa5cd" d="M995 495l62-1 0 10-60 0-4-1-1-2 1-4zM77 497l6-2 108 0 6 1 1 3-1 2-6 1-108 0-5-1zM1 517l62-1 3 3 1 6-2 3-4 1-60 0zM861 517l120 0 2 2 0 4-1 4-5 1-112 0-6-1-1-2-1-4zM75 541l8-2 110 0 7 2 2 6-2 4-5 2-116 0-4-2-1-6zM992 541l5-2 60 0 0 15-62 0-4-3-1-6zM432 547l31 0 4 2-13 4-52 6-29 1-15-1 0-2 14-4zM800 549l9 0 1 2-10 2-11 0 1-2zM1 563l62-1 4 2 1 9-1 3-4 2-62 0zM859 563l120-1 4 2 1 7-1 5-4 1-116 1-4-1-3-4 0-6zM225 569l14-2 26 2 20 4 6 4 0 2-5 2-9 0-31-2-18-4-5-4zM572 569l25-2 61 4 45 6 12 4 1 2-5 2-20 1-69-5-41-6-10-4zM75 587l6-2 114 1 6 1 2 9-2 4-6 2-116 0-4-1-2-4 0-6zM991 587l6-2 60 0 0 18-64-1-2-1-2-4zM469 589l20 0 6 2 2 2-6 4-34 6-94 7-20 0-6-1-3-2 5-4 6-2 24-4 61-6zM810 589l23-1 9 3 1 2-2 4-11 4-27 4-26 2-12-1-5-3 1-4 7-4zM1 609l62 0 4 2 2 10-2 4-4 2-62 0zM218 611l25 0 47 6 8 4 2 6-1 2-4 2-12 0-31-2-28-4-7-2-5-4 0-4 1-2zM857 611l8-2 114 0 4 1 2 3 0 9-2 3-6 2-114-1-6-1-2-2 0-8zM559 613l16-2 24 1 83 7 37 6 6 2 3 4-2 2-5 1-18 1-84-6-35-4-20-4-8-4 0-2zM77 633l120 0 4 1 2 3 0 8-2 4-6 2-116 0-4-1-2-3 0-10zM992 633l65-1 0 19-64-1-3-1-1-4 0-8zM461 635l30-1 14 3 1 2-4 4-28 6-82 8-35 2-22-1-7-1-2-2 3-4 4-2 19-4 54-6zM803 635l30-2 12 1 2 3 1 4-2 4-4 2-20 4-45 4-16 0-4-4 1-6 5-4zM1 657l64-1 2 1 2 4 0 8-2 4-4 2-62 0zM213 657l26 0 46 6 14 5 2 3 0 6-3 4-9 0-64-8-8-2-6-4-1-6zM859 657l122 0 4 3 0 11-2 3-4 1-118 0-5-2-1-4 0-9zM554 659l11-2 16 0 20 2 18 3 26 0 36 3 41 6 10 4 2 4-2 2-7 1-22 1-55-4-29-8-16 2-18 0-14-2-16-4-5-4 1-2zM76 681l121-1 4 2 2 2 0 9-1 4-7 2-116 0-4-1-2-3 0-11zM470 681l25-1 12 3 2 2-3 4-19 6-28 2-20-3-19 7-12 2-57 4-22-1-6-3-1-2 4-4 6-2 22-4 59-6 10 1 16 3 17-6zM820 681l19-2 7 2 2 6-1 3-3 3-21 6-50 10-12 0-4-3-1-5 2-4 3-4 6-2 26-6zM991 681l66-1 0 18-64 0-2-1-2-5 0-7zM1 705l0-2 64 1 3 3 1 9-2 5-4 1-62 0zM210 705l7-2 18 2 30 6 20 6 14 7 2 5 0 6-4 3-12-1-64-18-10-6-2-4zM554 705l17-2 24 2 26 6 13-2 11-1 49 5 35 6 5 2 3 4-1 2-5 2-22 1-56-3-14-2-20-6-16 2-30-2-17-4-4-2-3-4 1-2zM859 705l122-1 4 4 0 11-2 3-6 1-116-1-5-1-2-4 1-9zM480 727l21 0 6 2 2 4-4 4-5 2-19 4-24 1-18-2-24 7-58 4-20-1-6-2-5-3 0-2 3-2 6-2 25-4 53-5 26 2 20-5zM835 727l10-1 3 3-1 7-6 5-71 24-9 1-3-3-1-4 2-5 9-7 33-12zM76 729l121-1 4 2 2 2 1 9-2 4-7 2-116 0-4-1-2-3 0-11zM990 729l7-2 60 0 0 19-64-1-2 0-2-5 0-8zM210 751l7-1 16 3 46 16 18 10 2 4 0 6-4 2-12-2-60-22-12-8-2-4zM563 751l19 0 18 2 12 4 5 4-5 4-9 2-31-2-15-4-6-4 0-2 2-2zM1 753l0-2 64 0 4 4 0 8-2 5-4 1-62 1zM859 753l122-1 4 4 0 11-2 3-6 1-116-1-5-1-2-4 1-9zM632 757l11-1 18 1 32 3 5 3 0 2-7 4-12 3-12 1-15 0-13-3-14-5-2-2-1-2zM739 759l8-2 4 2 1 2-2 8-8 6-69 26-20 6-15 2 0-2 18-10 49-24zM833 775l12-2 3 2-2 8-8 6-29 12-30 10-14 3-4-1-1-2 2-6 12-8 29-12zM76 777l121-1 4 1 2 3 1 9-2 4-7 1-118 0-3-1-1-4 0-9zM463 777l24-2 10 2 3 2-1 2-7 4-17 3-14 0-9-1-2-2 0-2 5-4zM990 777l7-2 60 0 0 18-64 0-2-2-1-4zM410 781l13 1 4 3 0 2-2 2-4 0-14-2-4-2-1-2zM309 785l11 2 48 20 22 10 9 6-6 0-13-2-61-20-8-4-3-4-1-5zM211 799l4-2 9 2 45 16 20 10 4 4 1 4-5 1-11-1-41-14-21-10-5-6zM1 801l0-1 62 0 4 2 1 7-1 4-4 2-62 0zM859 801l122-1 4 4 0 9-2 4-4 0-118 0-5-2-2-4 1-6zM745 811l2 0 1 4-5 6-37 12-15 2 5-4 12-6zM837 823l6 0 2 2 0 2-4 4-56 24-12 0-3 0-1-2 6-6 12-6 36-14zM76 827l51-2 66 1 6 1 2 2 0 4-1 4-3 2-30-1-74 4-14-1-4-2-2-6zM993 827l6-2 58 1 0 8-36 4-24-1-4-2-1-4zM212 845l9-1 9 3 9 6 1 4-11 1-18-2-2-2-1-3 1-4zM887 849l28-1 36 5 7 2 6 4 0 8-1 2-6 1-59-11-16-6 0-2zM62 855l2 2-2 4-61 26 0-7 42-16zM165 869l8 0 2 2-6 4-46 16-122 51 0-7 110-46 30-14zM267 869l10-1 9 3 5 2 2 4-1 2-5 2-14-1-7-5-1-4zM827 869l8-1 8 1 5 4 3 8-18-2-12-2-1-2 0-2zM980 881l12 0 65 27 0 7-67-28zM863 887l7 0 23 8 163 68 1 7-152-63zM197 911l6-1 0 1-32 16-170 71 0-8 158-65zM853 937l9 2 33 12 162 67 0 7-160-66-31-14zM201 965l4 0-6 4-30 14-168 70 0-7 156-65zM858 995l1-1 5 1 27 10 130 54-16 0-110-46z"/><path fill="#408fc1" d="M995 545l62-1 0 5-60 0-2-1zM1 567l0-2 60 1 4 1 1 4-1 2-4 2-60 0zM863 567l114 0 4 2 0 2-2 2-114 0-3 0-2-2 0-2zM81 589l112 0 6 2 1 4-3 3-116 1-4-1-2-3 2-5zM994 589l63-1 0 12-62 0-2-1-2-4zM793 595l18-2 10 2-1 2-5 2-26 3-9-1 0-2zM417 597l24-1 3 1-3 2-32 4-25 0 3-2zM1 613l0-2 60 0 5 2 1 6-2 5-4 1-60 0zM860 613l7-1 110 0 4 1 2 2 0 4-1 4-5 1-112 0-6-1-1-2-1-4zM227 615l18-1 27 3 14 4 3 2 1 2-3 2-12 1-33-3-15-4-3-2 0-2zM594 619l15-2 36 2 33 4 14 4-4 2-11 0-41-2-31-4zM994 635l63-1 0 15-62 0-3-2-2-4 1-6zM76 637l7-2 110 0 7 2 1 6-2 4-6 1-112 0-6-2-1-5zM806 637l21-1 10 2 3 3-2 2-9 4-25 4-23 1-12 0-5-3 2-4 5-3zM430 641l39-1 5 1-1 2-7 2-31 2-40 6-30 0-6 0-2-2 4-2 21-4zM1 659l0-1 62 0 4 2 1 7-2 4-5 2-60 0zM862 659l117 0 4 2 1 6-1 4-6 1-114 0-5-1-2-4 2-6zM218 661l17-2 36 4 21 6 3 4 0 2-6 2-10 1-41-5-19-6-3-4zM582 663l11 0 6 2 1 2-7 1-11-1-4-2zM638 667l11-2 19 2 26 4 11 4-2 2-10 1-34-1-19-4-4-4zM78 683l117 0 5 2 2 6-3 4-6 1-116 0-3-3 1-8zM825 683l12 0 4 2 1 2-4 4-9 4-49 10-11 0-5-2-1-2 2-4 13-6 16-4zM992 683l7-1 58 0 0 15-62-1-4-3-1-6zM463 687l10-2 10 2 0 2-6 2-10 1-8-1 0-2zM402 689l11 0 7 2 1 2-1 2-8 4-15 2-28 1-16-1-3-2 2-2 17-4zM1 707l0-2 62 1 4 2 1 7-2 4-5 1-60 0zM221 707l24 2 32 8 13 6 4 4 1 4-4 2-9 0-47-12-11-4-6-4-1-4zM861 707l118 0 4 2 1 6-1 4-6 1-114 0-5-1-2-4 1-5zM577 709l14 0 7 2 2 2 0 2-5 1-14-1-7-2-2-2zM640 713l15-1 26 3 22 4 7 4-4 2-15 0-42-2-12-4-1-2 1-2zM78 731l117-1 5 3 2 6-3 4-6 1-114 0-4-2-1-3 1-6zM828 731l11 0 2 2-2 4-10 6-48 16-12 2-5-2 2-6 13-8 23-8zM992 731l5-2 60 0 0 15-62 0-4-3-1-6zM464 733l15-1 5 1 2 2-11 4-12 0-6-2 2-2zM389 737l20-2 10 2 2 2 0 2-2 2-8 3-44 2-14-1-2-2 12-4zM1 755l0-2 62 0 4 2 0 8-2 4-4 1-60 0zM217 755l8-1 13 3 30 10 20 10 4 4 0 4-3 1-10-1-40-14-20-10-3-4zM861 755l118-1 4 3 1 6-1 4-6 1-114 0-5-1-2-4 1-5zM583 759l4-1 6 1-4 1zM644 761l19 0 20 4-1 2-6 2-22 0-13-4 0-2zM738 765l5 0 0 2-5 4-27 10-10 2 13-8zM78 779l117-1 5 3 2 6-3 4-6 1-114 0-4-2-1-3 1-6zM829 779l8-1 3 1 0 2-3 4-11 6-37 14-12 2-6 0 1-4 13-8 24-10zM992 779l7-2 58 0 0 14-62-1-4-4zM1 805l0-2 62 0 2 4-2 4-2 0-60 0zM224 805l8 0 19 6 17 8 8 6-10 0-20-6-17-8-5-4zM859 805l8-2 110 0 5 2 1 4 0 4-6 2-112 0-6-2-2-4zM98 831l45-1 15 1 0 2-47 3-18-1-5-2z"/><path fill="#307ab6" d="M997 641l60-1 0 3-58 0zM1 663l58 0 4 2 0 2-4 0-58 1zM997 687l60-1 0 5-58 0-4-1 0-2zM1 711l58-1 3 1 1 2-1 2-61 0zM996 735l61-1 0 5-58 0-4-1zM1 759l58-1 3 1 1 2-4 2-58 0z"/><path fill="#fae9df" d="M1 405l0-2 58 0 4 1 2 3-2 2-62 0zM75 419l122-1 4 1 2 3 1 9-2 4-7 1-118 0-3-1-1-4 0-8zM994 419l63 0 1 8 0 10-67 0-2-2 0-10 2-5zM423 429l32-1 20 1 6 2-1 2-14 4-47 6-50 4-32 1-7-1-4-2 1-2 4-3 18-4zM789 431l24-2 9 2 2 2-10 4-12 2-25 1-8-1 0-2 9-4zM0 441l66 0 4 4 0 16-5 1-64 0-2-3zM855 441l10-2 118 1 2 0 1 3 0 12-1 5-4 1-124 0-4-2-1-4 0-10zM217 447l28 0 42 4 12 4 3 4 0 4-3 4-10 1-39-3-27-4-8-2-4-4 2-6zM549 447l16-2 30 1 108 8 34 6 6 3 2 6 0 2-4 2-18 1-139-11-35-6-4-2-2-4zM72 463l129 0 4 1 1 3 1 14-3 4-129 0-2 0-2-4 0-16zM989 465l6-2 62 0 2 4 0 18-2 1-69 1-1 18-2 4-124 1-8-1-2-2 0-16 2-4 2 0 130-1 2-1 1-16zM475 467l30-1 14 2 4 5-2 6-12 4-50 6-122 10-22 0-4-2-1-2 0-6 2-4 5-3 8-2 56-6zM837 467l8 0 3 4 0 10-1 2-4 2-78 8-8 0-4-4 2-10 6-4 34-5zM-1 489l2-2 66 0 2 1 1 3 1 17 2 2 130 0 2 1 2 4 0 16-2 2-130 0-2 0-2-2 0-18-2-3-68 0-2-1zM536 489l13-1 34 1 151 14 9 1 5 3 1 4 1 8-3 4-2 1-14-1-184-16-10-2-3-2-2-8 2-4zM209 491l4-2 16 1 70 7 4 2 2 4 0 12-4 2-8 0-80-8-4-2 0-2zM499 511l20-1 6 2 2 5-1 8-1 3-4 2-44 5-160 13-10-1-1 16-3 2-89-8-5-2-1-2-1-14 2-4 92 8 6 3 2-16 7-3zM993 511l64 0 2 2 0 18-2 3-68 0-2 3 0 18-1 2-3 0-132 0 1-18 1-4 2-1 130 0 2-1 1-20zM826 513l19-2 4 1 1 15-1 4-2 1-84 9-8 0-3-2 0-14 4-4zM0 535l69 0 1 4 1 19 132 0 3 3 1 18 2 2 96 10 2-2 2-14 18-3 192-16 6 1 2 2 1 10-1 5-2 2-10 2-176 16-30 1-3 16-1 1-6 0-90-9-2-3-1-17-3-2-130 0-2-2 0-20-2-1-68 0-2-1zM532 535l7-2 22 1 180 16 8 2 2 15 2 1 26-4 72-6 0 17-1 4-5 1-92 9-4-18-8 1-204-18-4-2-2-3-1-8zM989 559l68-1 1 1 1 22-2 1-68 0-2-1 1-20zM532 581l5-2 206 18 6 1 2 14 2 2 96-10 2-3 2-16 1-2 3-1 128 0 2 1-1 22-3 0-128 0-2 2-2 17-3 3-95 9-2-3-2-15-10 1-204-18-4-2-1-4 0-10zM-1 583l70-1 1 3 0 20-69 1-2-1zM492 605l33-2 3 4 0 12-2 4-3 1-206 18-8-1-3 16-1 3-2 0-94-10-2-3-2-14-2-4-126 0-6 0 0-21 2-2 128 0 4 2 2 17 2 2 96 11 2-1 2-15 4-1zM988 607l69-1 2 1 0 22-70 0-2-2zM533 627l58 3 150 14 8 3 1 14-1 2-4 1-18 0-190-16-5-1-2-4 0-12zM-1 631l2-1 68 0 1 1 0 20-1 2-68 0-2 0 0-2zM854 631l3-1 128 0 2 3 0 20 2 0 68 1 2 1-1 22-69-1-1-1-1-22-130 0-4 2-2 15-4 4-92 13-3-2-1-18 2-4 28-5 68-7 2-2zM508 651l15-1 4 1 1 8-1 10-2 2-190 16-20 0-4-1-2-3 0-10 2-2 10-3zM72 655l3-1 128 0 2 5 2 12 2 3 58 8 36 7 3 6 0 18-3 3-4 0-42-10-46-9-4-4-3-14-3-2-128 0-2 2-1 20-1 1-69 1-1-22 2-2 69 0zM531 675l10-1 188 16 17 5 3 4 0 4-1 4-3 2-18 1-194-16-3-3 0-10zM854 679l3-1 128 0 2 3 0 18 2 2 68 0 2 2 0 20-2 2-68-1-2-21-2-2-128 0-3 2-3 12-4 5-40 10-54 16-13 7-17 5-78-7-26-3-82-6-5-1-2-4 0-14 5-3 84 9 32 1 78 8 20 4 2-3 1-16 3-4 28-9 66-13 2-4zM503 699l20-2 4 1 1 7 0 10-3 3-86 6-40 5-66 5-18-1-4-2-2-4 1-4 3-4 16-5zM72 703l5-1 126 0 4 15 4 3 60 16 26 9 30 12 16 4 11-2 23-3 62-4 86-8 3 3 0 12-1 4-4 2-84 6-38 5-24 1 8 6 18 8 42 13 4 0 4-5 8-2 64-5 2 3 0 10-1 4-3 2-51 4 3 4 12 6 38 14 3 6-1 8-2 3-8-2-142-51-104-41-60-19-4-4-4-14-130 0-2 4-2 19-68 0-2-1 0-20 2-2 68-1 1-1zM854 727l3-1 128 0 1 3 2 18 1 1 69 1 1 2 0 20-2 1-66 0-2-1-1-2-2-18-3-2-128 0-5 14-5 4-208 76-94 33-8 2-2 0-2-3 0-12 4-3 154-59 88-35 70-23 4-4zM72 751l7-1 124 0 4 13 4 3 206 77 101 40 7 4 1 4 0 6-3 2-4 0-66-21-238-87-6-4-6-14-128 0-3 2-2 18-3 3-66 0-2-1 1-22 69-1zM532 769l7-1 80 8 56 3-1 2-6 4-19 8-14 4-16 2-9-4-75-7-3-1-2-4 0-10zM854 775l3-2 128 1 2 5 1 14 1 2 2 1 67 1 1 22-2 1-66-1-3-4-1-16-4-2-128 0-5 12-3 3-50 19-42 14-24 11-76 27-66 22-44 10-8 0 2-4 71-32 237-89 3-3zM72 799l7-2 124 1 5 13 3 2 154 58 36 15 32 11 12 6 4 4-2 2-9 2-33 1-8 0-4-11-8-8-14-4-40-5-28-23-4 2-6 0-24-4-10-4-24-12-24-8-3-2-4-10-3-2-128 0-2 2-2 14-2 4-41 8-11 10-14 7-2-3 1-10 11-4 2-2-13-6 0-20 67-1 3-3zM533 817l6-1 36 1 2 2-16 8-22 6-5 0-3-4 0-8zM855 823l4-1 126 0 2 5 2 17 20 6 20 12 29 13 1 16-2 2-66-28-3-4-1-12-2-3-22 1-76-5-30 3-2 2-2 13-30 2-12 3-7 6-4 10 3 3 22 4 12 4 220 93 2 4-1 14-1 1-247-103-12-6-7-7-28-3-8-4-6-1-4-1 3-6 7-6 8-1 32-6 28-15 26-8 2-2zM143 845l26-1 18 2 9 3 1 4-2 2-50 9-30 8-115 49-1-16 2-4 76-30 4-6-1-8 1-3 26-5zM216 865l15 0 11 4 5 6-2 4-32 8-212 89-1-1-1-14 2-4 159-66 37-15 6-3 6-6zM866 865l9-2 17 2 19 4 18 6 128 54 2 4-1 14-1 2-142-60-39-14-10-6-1-2zM302 889l7 0 8 4 1 2-1 4-5 4-25 9-284 119-3 0-1-16 2-3 260-108 20-11zM691 893l16-2 13 2 5 3 6 9 4 2 26 10 296 123 2 3-1 16-1 0-322-134-20-10-34-8-4-4 1-4 5-4zM382 915l7 0 3 2-3 6-9 6-313 131-36 0-9-1 334-140zM616 919l15-1 14 3 20 12 305 126-9 1-36 0-282-120-26-9-5-2-4-4 2-4zM478 923l9-1 10 3 4 4-4 4-26 8-25 14-247 104-34 1-11-1 271-112 34-11zM549 947l10-1 12 3 22 10 244 100-14 1-30-1-184-78-32-16-27-8-3-2-2-4zM495 975l8-2 7 2 3 4-6 5-30 9-26 14-121 52-21 1-20-1 178-72zM551 1003l8-1 9 3 21 10 112 44-18 1-18-1-59-26-25-14-30-8-3-4 0-2zM498 1031l7-1 4 3 0 4-4 2-30 8-20 12-27 0 43-16 15-8z"/><path fill="#fcdfcf" d="M79 425l114-1 4 1 2 4-2 2-4 1-112 0-4-1 0-4zM994 425l5-1 58 0 0 9 0 2-62-1-4-3zM1 443l64 0 3 2 1 3 0 10-2 3-66 0-1-6zM858 443l7-1 114 0 4 1 2 2 0 8-2 6-4 1-118 0-4-1-3-4 0-8zM590 453l39 0 52 4 27 4 11 4 1 2-5 2-18 0-61-4-43-6-6-2-2-2zM246 455l15 0 17 4-3 2-14 0-17-4zM73 465l8-1 120 0 3 3 2 10-2 6-7 2-120 0-4-2-1-2 0-12zM992 465l65-1 1 5 0 16-1 1-66-1-3-2 1-15zM455 471l34-1 16 3 2 2-3 4-27 6-56 6-76 5-22-1-4-1-1-3 3-4 4-2 20-4 50-6zM796 473l35-2 8 2 4 4-4 4-14 4-31 4-27 1-6-1-2-2 0-4 4-4 12-3zM0 489l1-1 66 0 3 5 0 14-1 2-68 1-1-3zM854 489l9-2 122 0 1 4 0 14-1 3-6 1-122 0-4-2-1-4 0-10zM554 491l61 2 104 10 22 5 4 3 1 6-3 3-4 1-20 0-147-12-24-4-8-4-1-4 2-3zM213 493l10-1 18 0 50 6 10 4 2 5 0 4-3 4-9 0-68-6-8-2-4-3-1-7zM74 511l129 0 3 4 0 12-1 4-6 2-124 0-3-2-1-18zM489 513l22-1 10 3 2 6-2 5-6 3-10 2-80 8-90 7-20 0-4-3-1-2 0-6 3-4 15-4 65-7zM989 513l6-2 62 0 1 4 0 18-69 0-1-4zM816 515l23-2 8 1 2 4 0 7-1 4-2 2-25 4-50 5-12 0-5-3 0-10 5-5 18-3zM546 535l79 5 108 10 10 2 4 2 2 5 0 6-4 4-18 1-176-15-14-4-4-4 0-6 2-4 4-2zM856 535l129 0 2 4-1 16-2 2-5 0-124 0-3-2 0-12 1-6zM0 537l1-2 66 0 2 1 1 3 0 16 0 2-3 0-66 1-1-3zM210 537l7-1 22 1 60 7 6 5 0 12-4 3-8 0-80-9-4-2-1-12zM73 559l130 0 2 4 1 16-3 2-128 0-2 0-2-4 0-14zM489 559l24-1 10 1 3 6-1 7-2 3-8 2-52 6-132 11-18 0-2-1-2-4 0-9 2-3 10-3zM992 559l65-1 1 3 0 20-69 0-1-2 0-16 1-3zM817 561l32-2 1 4 0 14-3 2-80 9-10 0-4-2-1-13 5-5zM0 583l68 0 2 2 0 18-1 2-68 0-2-2zM208 583l17 0 75 8 6 4 0 14-3 3-8 0-84-9-3-2-1-4zM534 583l7-2 26 1 168 15 10 2 3 2 2 12-1 2-4 2-16 0-184-16-8-1-4-3-2-8zM855 583l130-1 2 5-1 16-1 2-6 0-127 0 0-16zM499 605l20-1 6 2 2 7-2 8-2 2-8 2-186 16-16-1-4-3 0-12 4-3 6-1zM72 607l131 0 2 4 2 16 94 10 5 4 0 14-1 4-6 1-88-10-4-3-1-16-3-2-130 0-2-2 0-6zM824 607l27-2 0 17-1 3-3 2-86 8-6 0-3-2-1-14 4-4zM989 607l68-1 1 3 0 20-69 0-1-4 0-16zM534 629l7-2 24 2 168 15 14 3 2 4 0 8-2 3-4 1-20 0-180-15-8-2-3-3-1-8zM0 631l69-1 1 3 0 18-1 1-4 1-64 0-2-2zM855 631l128-1 3 1 0 2 1 18-1 2-131 0-3 4-1 12-4 4-91 14-3-2-1-8 0-10 3-4 28-5 66-7 3-2 1-14zM489 653l28-2 8 2 2 6-1 8-3 3-6 1-184 16-18-1-4-3-1-2 0-6 3-4 12-3zM72 655l131-1 2 5 1 12 3 3 58 8 34 7 2 2 3 4 0 16-2 4-5 0-87-18-3-2-2-2-1-12-3-4-130 0-2-4zM988 655l69-1 1 3 0 18-1 2-66-1-3-1zM536 675l53 3 32 4 44 2 60 6 18 5 4 4 0 4-1 4-4 2-21 1-66-5-36-5-26-1-51-4-8-2-3-4 0-10 2-3zM0 679l1-1 68 0 1 1 0 20-7 1-62 1-2-2zM855 679l128-1 2 1 1 2 1 19-6 1-126 0-2 4-3 12-3 2-92 26-3-2 1-20 3-4 37-11 56-11 2-2zM509 699l12-1 5 3 1 8-2 6-2 2-6 1-52 5-26 0-40 6-60 4-22-1-4-2-2-3 0-4 4-4 18-5 77-7 29-1 24-4zM73 703l130-1 4 15 2 3 62 16 56 22 16 4 15-3 51-5 28-1 37-4 49-3 3 3 0 10-2 4-5 1-52 5-28 1-30 5-34 2 10 6 18 9 42 13 6 0 2-4 2-2 6-2 52-4 10 1 2 5 0 6-2 3-4 2-24 3-24 0-2 2 8 7 8 4 37 15 3 4 0 6-2 2-4-1-70-23-84-30-62-26-92-30-3-4-3-10-2-4-132 1-1 19-1 2-2 1-66 0-1-1 0-20 1-2 69 0zM987 703l2-2 68 0 1 2 0 20-1 1-68-1-1-2zM534 723l11-1 50 4 24 4 30 0 81 9 20 6-3 4-9 4-17 4-74-6-28-4-20 0-63-6-3-2-2-4 0-6zM855 727l128-1 2 1 1 2 1 18 2 2 68 0 1 2 0 20-1 1-66 0-3-3-1-18-2-2-130 0-5 14-6 4-227 82-77 24-4 0-2-2 0-4 3-4 61-26 185-73 64-20 4-4zM73 751l130-1 4 13 4 4 50 17 42 18 21 7 105 40 51 22 14 8 4 4-7 0-16-2-42-12-190-68-32-12-2-2-6-14-130 0-2 4-2 16-2 2-66 1-1-1-1-20 2-2 68-1 1-1zM533 771l4-2 52 4 32 4 48 2 4 2-10 6-16 6-10 2-16 2-8-3-24-1-52-6-4-2-1-4 0-6zM855 775l128-1 3 3 3 19 69 1 0 18-1 4-66 0-2-4-2-16-2-2-130 0-5 12-3 3-44 17-36 12-12 3-20 9-84 30-42 11-10 1-6 0 2-4 10-6 40-18 202-77 3-3zM73 799l130-1 5 13 3 3 87 33 5 3 10 2 55 21 31 15 30 11 6 4 1 2-2 2-7 2-20 0-5-2-9-12-6-4-54-8-30-24-4 3-4 1-24-4-10-3-26-14-24-7-3-2-5-12-130 0-3 2-1 13-2 4-2 1-40 5-24-5-2-10 1-8 1-2 68-1 2-17zM538 819l29-1 7 1-11 6-20 6-4-1-4-3 0-5zM855 823l60-1 70 1 2 4 0 10 0 6-2 2-24 1-66-4-40 2-3 15-29 2-14 4-8 8-4 8 0 4 20 3 12 3 228 94 1 8-1 10-249-104-9-6-3-6-31-2-6-2-4-4-6-2 0-2 6-6 42-8 27-16 25-7 2-1zM150 845l21 0 15 2 9 4-2 2-80 19-112 48-1-1 0-12 1-5 76-30 6-5 0-10 2-3 25-5zM989 847l6-1 10 3 23 14 29 12 1 8-1 9-65-27-4-6zM4 853l9-1 2 3-4 4-10 5-1-9 1-2zM871 865l22 0 29 8 135 57 1 5 0 12-3 0-136-57-40-15-10-6-1-2zM211 867l10-2 14 2 6 2 4 4 1 4-3 2-32 8-211 88 0-12 1-5 161-67 35-14 6-3zM299 891l6-1 9 3 2 4-5 4-310 129-1-1 0-12 1-4 264-110 16-9zM699 893l12-1 8 2 4 3 4 8 6 3 19 7 305 126 1 4 0 12-1 1-318-133-22-12-31-6-5-4 1-4 7-4zM363 919l12-2 8 1 2 3-1 2-5 4-313 132-21 1-21-1zM619 923l10-2 12 2 18 11 24 9 66 26 218 90-20 1-21-1-189-80-67-30-21-11-26-7-5-4-1-2zM434 949l9-2 1 2-59 28-188 82-20 1-20-1 162-66zM652 991l16 4 39 14 126 50-18 1-18-1-104-46-32-16zM367 1033l6 0-6 4-45 22-26 0z"/><path fill="#fbccb4" d="M1 445l62 0 4 2 1 8-1 3-4 2-62 0zM860 445l119-1 4 2 1 7-1 4-6 1-114 0-5-1-2-4 1-6zM74 467l7-2 116 0 6 3 1 9-1 5-6 2-120 0-3-1-2-4zM991 467l6-2 60 0 1 18-1 2-65 0-3-2-1-4 1-8zM435 475l32-1 15 3-1 2-5 2-20 4-85 8-26 0-11-2 0-2 4-2 17-5 30-3zM795 477l20-1 6 1 3 2-3 2-12 3-28 2-7-1-1-2 3-2zM0 489l65-1 2 1 2 4 0 14-4 2-64 0-1-6zM856 489l9-1 118 0 3 3 0 12-1 4-6 1-120 0-4-1-2-4 0-9zM222 495l25 0 35 4 14 4 2 2 1 4-1 2-3 2-8 0-51-4-13-3-7-3-2-2 1-3zM555 495l16-2 26 1 90 7 41 6 9 4 3 4-1 2-6 2-20 1-111-9-31-4-17-4-4-4 1-2zM72 513l7-2 120 0 4 1 2 3 1 10-2 6-7 2-120-1-4-1-1-2zM990 513l67-1 1 5 0 16-67 0-2-1-1-3 0-12zM475 515l30-1 8 2 4 2 1 5-3 2-20 6-77 8-79 5-20 0-4-2-2-3 1-4 5-4 19-4 61-7zM806 517l27-2 12 2 2 2 0 8-4 3-29 5-41 3-12 0-5-3 1-8 6-4zM0 537l1-2 66 1 2 3 1 16-2 2-67 0-1-4zM545 537l18-1 34 2 118 11 26 5 4 3 2 6-2 3-4 2-19 1-81-6-81-8-15-3-7-3-2-4 1-4 2-3zM854 537l11-2 120 1 1 3 0 14-1 2-6 2-120 0-4-1-2-3-1-10zM211 539l6-2 20 1 57 7 8 4 2 4 0 6-4 4-11 0-46-4-28-4-4-2-2-3 0-7zM76 559l123 0 4 1 2 3 0 14-2 3-6 1-121 0-4-2 0-18zM470 561l35-2 14 1 4 3 0 8-5 4-9 2-73 8-104 8-17-1-3-1-2-4 1-6 2-3 14-4zM824 561l19-1 6 2 0 13-1 2-4 2-79 8-9 0-3-4 1-10 5-5zM989 561l6-2 62 0 1 6 0 16-68 0-2-4zM1 583l66 0 2 1 1 3 0 16-5 2-64 0-1-6zM212 583l31 2 54 6 4 1 3 3 2 6-1 7-4 3-8 0-80-8-4-2-2-8 1-8zM538 583l17-1 38 2 134 12 18 5 3 4 0 6-2 4-3 1-14 1-103-8-75-8-12-2-4-3-1-3 0-6zM857 583l126 0 3 2 0 16-1 3-4 1-123 0-5-2-1-2 1-13 2-4zM74 607l127 0 2 0 2 5 1 15-1 1-8 1-122 0-3-2 0-18zM478 607l33-2 11 2 3 6-2 7-4 3-11 2-83 8-92 7-18-1-4-2-2-4 1-4 2-4 12-4zM828 607l19-1 3 1 1 12-2 6-2 1-81 9-9 0-4-2-1-12 2-4 3-2zM990 607l67-1 1 7-1 16-66 0-3-2 0-18zM539 629l47 2 135 12 22 4 4 4 1 6-2 4-3 1-20 1-169-14-13-2-7-4-2-4 1-6 2-3zM0 631l69 0 1 4 0 16-7 2-62 0-1-4zM206 631l1-2 4 0 24 2 66 7 5 5 0 12-3 4-8 0-84-10-2 0-2-5zM856 631l127-1 3 3 0 18-2 2-129-1-3 3-1 12-4 6-90 13-4-3-1-10 1-6 4-4 42-6 52-5 2-16zM496 653l21-1 4 1 3 2 2 6-2 6-5 3-46 5-34 1-53 7-47 3-22-1-4-2-2-4 1-4 5-4 19-4zM73 655l128-1 3 3 2 16 3 2 56 7 36 8 3 3 1 4 0 14-2 3-4 1-86-18-4-2-2-5-1-11-3-3-129 1-2-2 0-16zM989 655l68-1 1 3 0 18-1 1-68-1-1-2zM535 677l12-1 40 2 34 5 42 2 56 5 21 5 5 4 1 4-3 4-6 2-22 0-59-4-35-6-28 0-54-6-5-2-2-8zM0 679l69-1 1 5-1 16-6 1-62 0-1-3zM856 679l127-1 3 3 0 18-1 1-130 0-3 5-3 12-2 2-48 13-36 11-8 1-2-3-1-12 2-6 3-4 36-11 56-10 3-3 1-10zM491 701l24-2 8 2 2 4-1 8-3 3-6 1-56 6-20 0-26 4-74 5-20 0-4-2-2-3 0-4 5-4 17-4 82-8 20 0 27-4zM74 703l127-1 3 3 2 12 3 4 62 16 23 8 11 5 40 13 16-4 50-5 26 0 24-4 48-3 12 0 4 4 0 6-2 4-6 3-50 5-30 0-36 6-29 0 5 5 20 10 50 18 8 0 1-1-1-6 6-3 46-3 12 1 3 3 0 4-3 4-4 2-20 3-30-1-2 2 4 6 22 11 30 12 3 5-1 1-4 0-78-23-78-28-45-18-13-7-6-1-84-28-4-3-3-11-3-5-130 0-2-1 1-18zM988 703l69-1 1 3 0 18-1 1-66 0-2-1-1-2zM534 725l5-2 56 3 24 4 28 1 46 4 40 5 12 5 1 2-9 6-16 3-72-5-30-5-34-1-38-4-10-2-3-2-2-6zM0 727l1-1 68 0 1 3 0 16-1 2-4 1-64 0-1-3zM855 727l128-1 2 1 1 6 1 14-2 2-130-1-3 5-3 10-6 4-77 28-11 2-16 8-108 38-46 14-18 3-6-1 8-6 15-8 52-22 107-43 12-3 8-4 20-8 66-21 2-3zM74 751l127-1 3 3 3 12 4 3 44 14 37 15 11 6 15 4 99 38 39 18 12 8 0 2-9 0-11-2-41-12-87-30-17-9-16-3-60-22-17-8-7-15-130 1-2-1 1-19zM988 751l3-2 66 0 1 4 0 18-67 0-3-2zM539 771l44 2 19 2 17 3 30 0 22 3-9 6-16 6-21 3-10-4-34-1-40-5-6-3-1-4 1-6zM0 775l1-2 68 0 1 2-1 18-2 2-66 0-1-2zM855 775l128-1 3 3 1 5 0 14-132 0-8 15-34 14-46 16-8 2-4-1-6 5-10 4-82 28-26 6-8 1-5-1 4-4 10-6 36-16 81-31 6-1 4-3 12-5 76-28 3-2zM73 799l128-1 2 1 6 14 83 32 9 6 1 6-3 4-6 1-11-1-17-4-30-15-24-8-2-2-6-12-132 0 0-15zM988 799l1-2 68 0 1 4 0 16-1 2-64 0-4-5zM545 821l20-2 4 2-8 4-14 4-4-1-2-3 0-2zM0 823l1-2 66 0 2 2 0 11-2 5-4 2-28 3-14 0-20-4zM857 823l124-1 5 3 1 14-2 5-14 1-68-4-42 2-6-1-2 13-2 3-42 5-6 5-10 15-8 2-14-1-8-1-5-2-4-6 2-4 13-4 30-6 26-16 26-6 3-14zM130 847l29-2 18 1 11 3 3 2-1 2-13 4-68 15-108 47 0-15 60-25 18-6 7-6 0-8 3-4 13-4zM990 849l5-1 9 3 23 12 30 13 0 15-64-27-4-5zM307 853l8 1 49 19 12 6 7 6-2 1-36-2-10-3-27-18-4-6 0-2zM1 857l0-2 7 2-7 6zM213 867l14-1 12 3 3 2 2 4-3 4-30 7-210 88 0-15 164-68 34-13zM872 867l7-2 12 1 28 7 136 58 2 2 0 13-130-54-45-17-8-4-2-2zM804 889l12 0 15 4 226 94 0 14-2 0-244-102-9-6 0-2zM294 893l9-2 6 2 3 4-4 4-307 128 0-15 264-109 19-10zM696 895l13-1 8 2 4 4 5 11-27-3-12-3-2-2 1-4zM407 899l2-1 6 0 5 3 1 2-4 1-8-1zM726 913l1-2 11 2 24 8 295 121 0 15-262-110-59-26zM367 921l6 0 3 2-5 4-132 58-176 74-36 0 198-82zM696 955l5-1 62 23 201 82-35 0-163-70-48-22zM336 991l5-1-3 3-27 14-118 52-32 0 114-46zM747 1031l4 0 18 6 58 22-23 0-39-18z"/><path fill="#f6b394" d="M1 449l0-1 60 0 4 1 1 4-1 3-4 1-60 0zM862 449l115-1 4 2 0 3-2 2-114 0-5-2 0-2zM77 467l120 0 4 2 2 8-2 4-5 2-117 0-4-2-2-4 1-6zM997 467l60 0 0 16 0 1-64-1-3-2 0-8 1-4zM417 481l9 0 3 2-10 2-24 2-20 0 4-2 12-2zM860 489l121 0 4 2 0 12-2 4-124 0-4-2-1-8 2-6zM1 491l0-2 62 0 4 1 2 4 0 11-2 3-4 1-62 0zM577 497l36 0 73 6 34 6 7 4 0 2-7 2-17 0-86-6-30-4-16-4-3-2 0-2zM230 499l13-1 19 1 21 4 7 4-1 2-8 1-29-1-20-4-4-2-1-2zM74 513l125-1 4 3 2 10-2 5-6 2-120 0-4-3-1-12zM992 513l65-1 1 19-1 2-64 0-4-2 0-15zM466 517l31 0 10 2 2 2-2 4-23 6-54 6-81 6-20-1-7-1-2-2 1-4 3-2 26-6 58-6zM801 519l26-2 13 2 3 2 1 4-6 4-19 4-42 4-12-1-5-1-1-2 1-4 5-4zM1 537l66 0 2 4 0 14-6 2-62 0zM856 537l9-1 116 0 4 1 0 2 0 14-1 2-5 1-120 0-4-1-2-4 0-8zM550 539l39 0 117 10 31 6 4 2 2 4-2 4-5 2-27 0-123-10-29-4-13-4-2-2-1-4 2-2zM212 541l7-2 14 0 54 6 12 4 2 2 1 6-3 4-10 1-39-3-28-4-7-2-4-3-1-5zM73 561l8-2 116 0 6 2 2 6 0 6-2 6-6 1-120 0-4-1-1-2zM484 561l27 0 6 2 3 4-1 4-7 4-22 4-136 12-35 0-5-2-1-3 1-5 5-3 24-5 60-6zM990 561l7-1 60 0 1 19-1 2-64 0-4-2 0-14zM809 563l28-2 10 1 2 3 0 6-3 6-20 4-37 4-26 1-6-1-2-2 0-9 2-3 4-2zM0 585l1-2 66 1 2 3 0 16-6 2-62 0zM210 585l27 0 55 6 11 4 1 4 0 6-1 4-8 1-77-7-7-2-2-2-1-10zM540 585l15-2 34 2 116 10 35 6 5 3 1 5-2 4-4 2-31 0-140-12-14-2-15-4-3-3-1-3 1-4zM855 585l10-2 116 0 4 2 0 18-6 1-120 0-4-1-2-2 0-9zM77 607l122 0 4 2 2 6 0 10-2 2-8 1-118 0-4-1-1-10 1-8zM488 607l25 0 8 2 2 6-2 4-8 4-11 2-80 8-81 6-22-1-5-1-2-4 1-6 2-2 16-4 56-6zM836 607l11 0 3 2 0 8-1 6-2 2-23 4-61 5-8-1-2-4 1-10 7-4zM993 607l64 0 1 20-1 2-66-1-2-1-1-16 1-3zM1 631l66 0 2 1 0 19-8 1-60 0-1-7zM208 631l24 0 68 8 3 2 2 3 0 10-4 4-6 1-59-6-25-4-2-2-2-6 0-8zM539 631l12-1 28 1 136 12 23 4 7 4 1 4-2 4-3 2-18 1-55-3-108-10-13-2-10-4-2-3 0-5zM858 631l124 0 3 2 1 16-1 2-6 2-120-1-6-1 0-4 2-14zM75 655l125 0 3 1 2 7 0 12-12 1-118 0-3-1 0-8 1-10zM475 655l34-2 12 2 2 2 0 4-2 6-14 4-35 4-35 0-32 6-55 4-27 0-7-2-3-4 2-5 6-3 21-4zM820 655l25-2 6 2 0 10-2 6-4 2-78 12-10 0-4-4 0-12 3-4 3-2zM990 655l67-1 1 21-1 1-66-1-2 0-1-18zM207 677l30 2 58 10 8 4 2 7-1 9-1 3-2 1-10 0-75-16-7-4-2-5zM0 679l68 0 2 4-1 15-6 2-62 0-1-5zM537 679l12-2 36 2 34 5 41 1 41 4 35 6 6 4 1 4-4 4-22 1-56-3-19-2-23-5-22 1-54-6-6-3-3-5 1-4zM857 679l126 0 2 2 1 16-1 2-6 1-124-1-3 4-3 14-3 2-89 24-2-1-2-3 0-9 2-7 4-4 18-6 26-6 48-8 4-18zM503 701l14 0 6 3 0 5-1 4-11 4-33 4-41 0-25 6-50 4-37 0-6-1-3-3 0-4 6-4 18-4 55-6 24-2 20 1 31-5zM75 703l126 0 2 2 3 14 3 3 16 3 38 10 30 10 10 6 8 2 40 13 4-5 11-2 44-4 29 1 24-5 27-2 29 0 3 2 1 5-4 5-5 2-53 6-22-2-22 6-19 2-14 0-18-2 9 7 16 8 65 27 32 18 2 2-7 0-33-8-49-16-84-32-14-9-4 1-85-28-5-4-3-12-3-4-130 0-1-4 1-14zM989 703l68-1 1 21-67 0-2-2zM539 725l53 2 27 5 22-1 47 4 43 6 5 2 6 4-1 2-8 4-14 2-68-4-30-6-35 0-46-6-3-2-2-4 0-5zM0 727l69-1 0 19-1 2-67 0zM857 727l126 0 2 2 1 16-1 3-130-1-3 4-3 12-13 6-71 26-10 0-7 6-101 36-42 12-14 1-3-1 11-8 30-14 110-44 12-4 4 0 5-4 13-6 46-16 30-8 3-4 3-12zM75 751l126 0 2 1 3 11 3 5 23 7 49 18 17 8 5 4 6 0 80 30 41 18 15 10-2 2-8-1-36-9-82-28-8-4-6-5-6 1-48-16-38-16-8-16-130 1-1-3 1-16zM988 751l69-1 1 5-1 16-66 0-2-4zM541 773l29 0 26 2 23 5 22-2 26 3 0 2-17 8-7 2-14 1-10-4-18 1-18 0-40-6-4-2-2-4 0-4zM0 775l1-1 68 0 0 17-4 4-64 0zM857 775l126 0 2 2 2 9 0 7-2 3-130-1-3 4-3 9-3 3-29 12-52 17-8 1-2-3-6 7-7 4-53 18-36 9-11 1 3-4 6-4 40-18 51-20 9-2 4 2 5-6 13-6 52-20 22-7 4-3 4-12zM75 799l126 0 2 2 3 10 3 4 24 8 57 22 9 6 1 6-3 3-9 1-13-2-12-4-28-14-24-8-2-2-3-8-3-4-130 0-2-2 0-11 2-5zM465 799l40-2 8 1 4 3-2 4-10 3-13 3-13 0-14-2-6-4-2-2 1-2zM989 799l6-1 62 0 1 19-1 1-64 0-2-1-2-5zM1 823l64-1 3 1 1 2 0 6-2 7-4 2-26 2-14 0-22-3zM861 823l120 0 4 2 1 12-2 6-15 2-64-4-46 1-5-3-1-4 2-10zM844 841l5 0 3 2 0 8-2 6-9 2-33 2 0-2 3-4 8-6 8-4zM136 847l40 0 7 2 3 2-1 2-12 4-74 16-31 16-67 28 0-11 60-25 18-5 7-3 4-4 0-10 4-4 13-4zM991 851l2-2 6 2 24 13 34 14 0 11-63-26-3-4zM308 857l3-2 5 2 38 14 13 6 4 4-1 2-9 0-22-3-28-17zM787 865l13 0-5 12-6 5-10 1-13 0-5-2-3-4 0-4 3-2 13-4zM218 867l11 0 10 4 3 4-1 2-4 2-30 6-206 87 0-9 1-2 163-68 38-15 9-9zM877 869l8-2 15 2 20 6 33 15 104 44 0 10-132-55-39-14-8-4zM809 893l6-2 15 4 227 94 0 10-198-82-46-20zM287 897l10-2 6 2-3 4-21 7-90 41-188 78 0-11 182-75 90-35zM698 897l13 0 4 2 1 4-1 2-6 1-14-1-3-2-1-2zM766 929l5-1 60 23 226 93 0 11-210-88-58-26zM286 957l5 0-54 26-179 76-26 0 169-70zM782 991l6 0 38 14 133 54-24 0-94-40zM236 1033l5-1 0 1-56 26-17 0z"/><path fill="#ef9979" d="M78 471l119 0 3 4-2 4-5 1-112 0-4-1-1-2 0-4zM994 471l63-1 0 12-64-1-2-4zM1 491l62 0 4 2 1 10-1 2-4 2-62 0zM861 491l118 0 4 1 1 7-1 5-4 2-116 0-6-2-2-5 2-6zM626 505l27 0 26 4-8 1-26-1-14-2zM75 515l6-2 114 0 6 2 2 3 0 5-2 6-6 2-116 0-4-2-2-3 0-8zM991 515l6-1 60 0 0 17-64 0-3-2-1-4 0-6zM445 521l28 0 11 2 0 2-4 2-19 4-82 8-30 0-11-2 1-2 3-2 17-4 32-4zM799 523l20-1 7 3-8 4-10 2-27 2-7-2 0-2 11-4zM861 537l119 0 3 1 2 2 0 11-2 3-4 1-120 0-4-3-1-9 2-4zM1 539l0-2 62 0 4 1 1 3 1 10-2 4-4 1-62 0zM223 543l18-1 30 3 19 4 4 2 3 4-4 3-10 1-48-4-9-2-8-4-1-2 1-2zM559 543l12-2 20 0 78 6 46 6 13 4 4 4-2 2-7 1-18 1-84-6-35-4-21-4-9-4 0-2zM75 561l122-1 4 1 2 2 1 10-1 4-6 2-122 0-2-4 0-12zM992 561l65-1 0 19 0 1-66-1-2-3 0-11zM444 565l43-2 20 2 3 2 0 2-1 2-10 4-10 2-50 6-76 6-32 0-8-2-2-2 2-4 4-2 16-4zM804 565l25-2 14 2 3 2 0 4-3 4-5 2-22 4-41 3-12 0-4-1-1-2 0-6 6-4zM1 585l66 0 2 3 0 13-2 2-66 1zM857 585l124-1 4 2 0 15-2 2-124 0-4-2-1-4 1-10zM212 587l21-1 50 5 16 4 3 4 0 4-1 4-2 1-8 1-33-2-32-4-10-2-5-3-1-7zM549 587l16-2 35 2 93 8 37 6 8 4 2 4-3 2-8 2-33 0-115-10-31-6-4-2-3-4zM74 609l7-1 118 0 4 2 1 13-2 4-7 1-118-1-3 0-1-2 0-12zM477 609l30 0 8 2 2 2-1 4-5 3-21 5-55 6-80 6-28 0-8-2-2-4 3-4 4-2 18-4 55-6zM821 609l26 0 2 4 0 7-2 3-4 2-26 4-42 4-15 0-5-4 0-8 5-4 21-4zM990 609l7-1 60 0 0 19 0 1-66-1-2-2 0-14zM0 633l1-2 64 0 4 3 0 15-2 2-66 0zM209 633l10-2 28 2 48 6 7 4 2 4-1 6-3 4-7 0-33-2-45-6-6-4-1-6zM545 633l16-2 31 2 95 8 42 6 9 4 2 4-1 2-4 2-22 1-59-3-65-6-31-4-14-4-3-2-1-4zM856 633l9-2 116 1 4 1 0 16-1 2-5 1-120-1-4-1-1-3 0-8zM828 655l17-1 4 2 1 9-1 4-2 2-17 4-55 8-16 0-4-3 0-11 2-3 4-2 29-5zM995 655l62 0 0 20-66 0-2-2 0-16zM73 657l8-2 116 0 6 2 1 14-2 4-7 1-118-1-3 0-1-2zM463 657l36-2 16 2 4 4-2 4-11 4-45 5-24-1-23 6-48 4-35 0-8-2-3-2 1-4 3-2 15-4 49-6 51-3zM1 679l64 0 4 2 0 15-2 3-66 0zM209 679l6-1 17 1 59 10 6 2 5 4 2 6-1 7-4 4-13-1-73-16-4-4-1-8zM542 681l15-2 37 2 27 6 18-2 33 2 47 6 14 4 4 4-1 2-5 2-22 2-60-4-12-2-18-6-16 2-18 0-38-6-7-4 0-4zM855 681l10-2 116 0 4 2 0 16-1 2-5 0-120 0-5-2-1-8zM843 701l6 0 2 4-2 9-6 5-80 22-5 0-3-4 0-10 2-5 5-3 34-10zM496 703l19 1 3 3-1 4-8 4-25 4-27 2-18-3-21 7-65 5-24-1-6-2-1-2 3-4 5-2 35-6 48-5 10 1 16 3 13-5 10-2zM991 703l66-1 0 21-66 0-2-3 0-9 0-7zM73 705l8-2 118 0 4 2 2 15-3 3-7 0-120 0-2-1-1-3zM208 725l5-1 17 3 31 8 24 8 13 6 5 7 4-2 6 1 32 12 44 21 43 19 19 10 5 4 0 2-15-2-15-4-55-18-55-22-8-4-5-7-4 3-10-2-72-24-8-6-2-8zM1 727l66 0 2 2 0 15-4 3-64 0zM548 727l24 0 26 2 21 6 22-3 38 3 43 6 6 2 5 4-2 3-6 2-22 1-60-4-24-8-18 3-23-1-33-6-4-2-1-4 1-2zM855 729l10-2 116 0 4 2 0 16 0 2-6 0-120 0-6-1-1-1zM846 747l5 0 0 2-2 11-2 3-8 4-71 26-9 1-4-3-4 6-6 4-74 26-35 10-15 2-1-2 8-6 21-10 88-36 12-4 6 3 3-5 5-4 17-8 41-14zM478 751l25-1 10 1 3 2 0 4-7 4-22 4-26 2-16-2-5-2-1-2 12-6 7-2zM990 751l67-1 0 21-64 0-4-4 0-12zM74 753l7-2 120 1 2 1 4 16 29 8 52 20 12 8 2 8-3 4-13-2-65-24-11-6-4-12-3-3-10 1-120 0-1-6zM397 757l29 0 11 4 0 2-11 6-15 3-20 2-14-1-13-4-6-4 0-2 4-2zM1 775l66-1 2 3 0 12-2 4-4 1-62 0zM558 775l40 2 11 4 3 4-5 3-8 1-30-2-11-2-11-4-1-2 1-2zM855 777l10-2 116 0 4 2 1 14-1 4-120 0-10-1-4 3-4 11-8 5-46 18-30 8-5-2 0-4 1-4 4-4 17-8 54-20 16-4zM635 781l21 0 6 2-11 6-7 2-11 0-5-2 0-4zM991 799l66-1 0 19-64 0-2-2-2-8 0-6zM73 801l8-2 116 0 6 2 3 14-1 2-8 2-122 0-3-2-1-4zM470 801l21 0 6 2-1 2-5 2-14 1-12-3-1-2zM308 807l15 4 55 22 26 12 8 6-3 1-20-3-73-24-7-4-4-6 0-6zM209 819l6-1 9 3 53 20 16 8 3 6-3 3-6 0-13-1-12-4-27-13-22-8-4-5zM1 825l0-2 62 0 4 1 1 7-1 4-4 4-36 0-26-3zM858 825l41-2 84 2 2 2 0 11-2 3-14 2-25 0-51-4-32 1-4-1-2-4 0-6zM743 833l6-1 2 2 0 3-3 6-7 3-38 13-17 4-6 0 3-4 11-6zM832 845l9-2 6 0 2 2 1 4-2 6-6 2-21 1-5-1 0-2 4-4zM129 849l30-2 14 2 3 2-1 2-4 2-14 4-31 6-19 2-8-3-2-3 2-4 9-4zM222 869l12 2 2 2 0 2-3 2-6 1-12 0-3-1 1-4 2-2zM775 869l14-1 3 1 1 2-1 4-5 4-6 2-10 0-6-2-2-4 5-4z"/><path fill="#e17860" d="M1 495l60-1 4 2 1 5-1 2-4 1-60 0zM861 497l6-2 112 1 2 3-2 3-112 0-6-1zM77 517l116-1 6 2 2 5-2 4-6 1-112 0-4-1-2-2 0-6zM993 517l64-1 0 13-64-1-2-3 0-5zM1 541l0-2 62 0 4 3 1 7-2 4-3 1-62 0zM858 541l7-2 112 0 6 2 1 6-1 4-4 2-116 0-4-1-2-2-1-5zM596 547l25 0 32 2 33 4 14 4 0 2-15 1-52-3-38-6-4-2zM249 549l18 1 2 3-11 0-10-2zM76 563l119-1 6 2 1 7-1 4-6 3-116-1-4-1-1-3 0-6zM993 563l64-1 0 16-64 0-2-2-1-5 1-6zM424 569l39-2 23 2 1 2-3 2-17 4-79 8-33 1-10-1-4-2 2-2 4-2 19-4zM793 569l30-2 10 2 2 2-5 4-7 2-30 4-16 0-10-2 0-2 2-2 11-4zM1 587l0-2 62 0 4 2 1 10-1 4-4 2-62 0zM858 587l7-2 114 1 4 1 2 9-2 5-4 1-116 0-6-1-2-4 0-6zM221 589l27 0 33 4 13 4 3 2 1 4-5 3-12 1-27-2-26-4-7-2-6-4 1-4zM578 589l49 2 62 6 24 4 6 2 5 4-3 2-6 1-20 0-94-7-26-4-12-4-2-2 2-2zM994 609l63 0 0 18-64-1-3-3-1-6 1-6zM74 611l7-2 114 0 6 2 2 3 0 7-2 4-6 1-116 0-4-1-2-3 0-8zM815 611l22-1 8 3 2 4-2 3-12 5-27 4-31 2-12 0-4-2-1-2 1-6 9-4zM443 613l36-2 20 2 3 2 0 2-3 2-26 6-57 6-51 3-24 0-7-1-3-2 0-2 8-4 21-4zM1 633l64 0 4 4 0 8-2 4-4 2-62 0zM861 633l120 0 4 4 0 10-2 3-5 1-117 0-5-2-1-6 0-6 2-3zM212 635l7-2 12 0 55 6 12 4 3 4 0 4-4 4-10 0-35-2-28-4-8-2-5-4-1-4zM563 635l30 0 77 6 43 6 8 2 6 4 0 2-5 2-25 1-47-3-27-4-34-2-24-4-11-4-1-2 2-2zM76 657l121-1 4 2 2 2 0 9-1 4-7 2-116 0-4-1-2-3 0-11zM819 657l20-1 8 2 1 5-1 4-6 4-32 6-36 4-12 0-4-4 1-8 7-4 19-4zM991 657l66-1 0 19-64-1-3-1-1-4 0-8zM464 659l29-1 11 3 1 2-7 4-20 4-21 1-20-5-10 6-12 4-49 4-23-1-8-1-2-2 5-4 7-2 23-4 47-5 10 1 12 3 15-5zM1 681l0-1 64 0 2 1 2 4 0 8-2 4-4 1-62 0zM211 681l8-2 19 2 46 8 14 6 3 4 0 6-4 4-12 0-59-12-15-6-2-6zM859 681l122 0 4 3 0 11-2 3-5 1-117-1-5-1-2-4 1-9zM561 683l32 0 13 4 3 4-2 2-8 2-26-2-9-2-9-4 0-2zM641 687l34 2 29 4 15 4 3 2 1 2-6 2-16 1-54-3-13-4-4-4 3-4zM76 705l121-1 4 2 2 2 1 9-2 4-7 2-116 0-4-1-2-3 0-11zM822 705l17-2 8 1 1 3-1 6-5 4-69 20-12 1-4-3 0-6 2-4 8-6 26-8zM991 705l6-2 60 0 0 19-64 0-2-1-2-5 0-8zM465 707l26-1 11 3-1 2-11 4-29 3-8-1-3-2 1-2 5-4zM401 711l17 0 7 2 2 2-2 4-3 2-11 3-31 3-25 0-14-1-4-1 0-2 8-4 8-2zM212 727l9-1 13 3 47 14 16 8 3 6 0 6-3 3-9-1-66-22-11-7-2-5zM1 729l0-2 64 1 4 3 0 9-2 5-4 1-62 0zM859 729l122-1 4 4 0 11-2 3-6 1-116-1-5-1-2-4 1-9zM560 731l19-1 16 1 7 2 5 4 0 2-6 2-19 0-24-6-1-2zM638 735l24 0 33 4 19 4 4 2 2 2-5 2-16 1-50-3-12-2-5-4 1-4zM834 751l11-2 3 2 1 2-2 6-8 6-64 24-12 2-5-2 0-4 2-4 10-8 30-12zM76 753l121-1 4 1 2 3 1 9-2 4-7 1-116 0-4 0-2-3 0-11zM990 753l7-2 60 0 0 19-64-1-2-1-2-5 0-7zM463 755l22-1 9 1 3 2-3 2-14 4-17 1-8-1-2-2 4-4zM307 759l4-2 4 1 33 13 62 30 10 6 0 2-15-2-21-6-63-24-8-4-5-4-2-6zM396 759l19-1 8 3 1 2-3 4-10 3-16 1-14 0-10-2-6-4 4-3zM210 775l3-2 12 2 40 14 26 12 6 5 1 5-3 2-9 0-52-18-20-10-4-4zM1 777l0-2 62 0 5 2 1 8-2 6-4 2-62 0zM858 777l123-1 4 4 0 9-1 4-5 1-118 0-5-1-2-4 1-9zM576 781l13-1 5 1 3 2-3 2-8 0-8-2zM744 785l5 0 2 2 0 4-4 6-8 4-61 20-13 2-6 0 5-4 16-8zM834 799l11-2 2 1 0 3-3 6-9 6-48 18-16 3-7-1 0-2 2-4 10-6 23-10zM76 801l121-1 5 3 1 8-2 5-6 1-116 0-4 0-2-4 0-9zM992 801l5-1 60 0 0 15-62 0-4-3-1-7zM313 811l8 2 41 18 5 4-15-2-37-12-6-6 0-2zM217 823l17 4 36 14 14 8 2 4-5 1-10-2-49-19-8-6 0-2zM14 827l47-1 4 1 1 4-1 2-4 2-26 0-34-3 0-5zM859 827l48-2 70 1 6 2 1 5-1 4-3 2-19 1-70-3-28 0-4-1-2-3 1-4zM831 849l8-2 4 2 0 2-4 2-8 1-3-1 0-2zM138 851l13-1 8 3-3 2-6 2-25 4-7 0-5-2 1-2 3-2z"/><path fill="#d35a4a" d="M1 545l0-1 58 0 4 1 1 2-2 2-61 0zM80 567l113 0 4 1 1 3-2 2-5 0-113 0-1-2 0-2zM994 567l5-1 58-1 0 10-60 0-4-2zM1 589l60-1 4 1 2 6-2 4-4 1-60 0zM865 589l112 0 4 1 2 5-2 3-4 1-116-1-3-3 1-4zM237 595l8-2 14 1 15 3 4 2-1 2-4 0-19 0-11-2-5-2zM614 597l27 0 30 4 3 2-25 0-32-4zM77 613l6-1 110 0 6 1 2 6-2 4-6 1-116-1-2-2 0-6zM992 613l7-2 58 0 0 14-62-1-4-3 0-6zM802 615l28 0 4 2 0 2-9 4-38 4-14 0-5-2 1-2 8-4zM414 619l35-2 15 2-3 2-22 4-58 4-14-2 5-2zM1 635l62-1 4 3 0 8-2 3-4 1-60 0zM223 637l18-1 29 3 18 4 4 2 2 4-5 3-10 0-40-3-10-2-9-4-2-2 1-2zM858 637l7-2 112 0 5 2 2 6-2 4-5 1-112 0-6-1-2-2 0-6zM590 641l64 2 29 4 11 4-13 2-30-2-30-5-22-1-9-2zM79 659l116 0 5 2 2 6-3 4-6 1-116 0-3-3 1-8zM993 659l64-1 0 15-62-1-4-3-1-6zM800 661l29-2 10 1 2 3-2 4-10 4-35 6-21 1-7-1-3-2 1-4 2-2 11-4zM403 667l8 0 5 2 0 2-7 2-20 3-21-1 0-2 6-2zM1 683l0-1 62 0 4 2 1 7-2 4-5 1-60 1zM224 683l28 2 21 4 17 6 5 6-1 2-3 2-10 0-44-8-13-4-7-4 0-4zM862 683l117 0 4 2 1 6-1 4-6 1-114 0-5-1-2-4 1-5zM645 693l6-2 21 2 14 4-8 2-17-1-11-1-5-2zM78 707l117-1 5 3 2 6-3 4-6 1-116 0-3-3 1-8zM827 707l10 0 4 2-1 4-11 6-52 13-10 1-4-2 1-4 4-4 13-6 22-6zM992 707l7-2 58 0 0 15-62 0-4-3-1-6zM402 715l10 2-1 2-6 2-18 1-13-1 3-2 8-2zM1 731l0-2 62 0 4 3 1 7-2 4-5 1-60 0zM219 731l10 0 12 2 27 8 21 10 4 4 1 4-3 2-8-1-43-13-22-10-2-4zM861 731l118-1 4 3 1 6-1 4-6 1-114 0-5-1-2-4 1-5zM650 739l11 0 19 4-5 2-18-1-8-1-2-2zM78 755l117-1 5 3 2 6-3 4-6 1-114 0-4-2-1-3 1-6zM828 755l11-1 3 3-3 4-11 6-42 16-15 3-5-1-1-2 3-4 13-8 25-10zM992 755l5-2 60 0 0 15-62 0-4-3-1-6zM315 765l5 0 27 12 10 6-11-2-21-8-8-4zM1 779l0-2 60 0 5 2 1 6-2 4-4 2-60 0zM218 779l11 0 30 10 21 10 6 4 1 4-6 0-12-2-28-10-20-10-3-4zM861 779l118-1 4 2 1 7-1 4-6 1-114 0-4-1-3-4 1-5zM76 805l7-2 110 0 6 1 2 5-2 4-6 2-112 0-6-3zM826 805l7-1 1 1 0 2-13 8-29 10-10 0 4-4 12-6zM993 805l6-2 58 0 0 8-60 0-4-2zM923 831l14 0 15 2-23 0-11 0z"/><path fill="#c2383a" d="M1 641l60 0-1 2-59 0zM1000 663l57 0 0 5-58-1-4 0 0-2zM1 687l58 0 4 2-1 2-61 0zM996 711l61-1 0 5-58 0-4-1zM1 735l58-1 3 1 1 2-1 2-61 0zM996 759l61-1 0 5-60 0-2-2z"/></g></g>
<g stroke="#000" fill="none"><path d="M195.12 801.35v8.3" stroke-width="2.5"/><path d="M224.5 801.35v14.6" stroke-width="3.3"/><path d="M253.88 801.35v8.3" stroke-width="2.5"/><path d="M283.25 801.35v14.6" stroke-width="3.3"/><path d="M312.62 801.35v8.3" stroke-width="2.5"/><path d="M342 801.35v14.6" stroke-width="3.3"/><path d="M371.38 801.35v8.3" stroke-width="2.5"/><path d="M400.75 801.35v14.6" stroke-width="3.3"/><path d="M430.12 801.35v8.3" stroke-width="2.5"/><path d="M459.5 801.35v14.6" stroke-width="3.3"/><path d="M488.88 801.35v8.3" stroke-width="2.5"/><path d="M518.25 801.35v14.6" stroke-width="3.3"/><path d="M547.62 801.35v8.3" stroke-width="2.5"/><path d="M577 801.35v14.6" stroke-width="3.3"/><path d="M606.38 801.35v8.3" stroke-width="2.5"/><path d="M635.75 801.35v14.6" stroke-width="3.3"/><path d="M665.12 801.35v8.3" stroke-width="2.5"/><path d="M694.5 801.35v14.6" stroke-width="3.3"/><path d="M723.88 801.35v8.3" stroke-width="2.5"/><path d="M195.45 797.4h-14.6" stroke-width="3.3"/><path d="M195.45 767.98h-8.3" stroke-width="2.5"/><path d="M195.45 738.56h-14.6" stroke-width="3.3"/><path d="M195.45 709.14h-8.3" stroke-width="2.5"/><path d="M195.45 679.72h-14.6" stroke-width="3.3"/><path d="M195.45 650.3h-8.3" stroke-width="2.5"/><path d="M195.45 620.88h-14.6" stroke-width="3.3"/><path d="M195.45 591.46h-8.3" stroke-width="2.5"/><path d="M195.45 562.04h-14.6" stroke-width="3.3"/><path d="M195.45 532.62h-8.3" stroke-width="2.5"/><path d="M195.45 503.2h-14.6" stroke-width="3.3"/><path d="M195.45 473.78h-8.3" stroke-width="2.5"/><path d="M195.45 444.36h-14.6" stroke-width="3.3"/><path d="M195.45 414.94h-8.3" stroke-width="2.5"/><path d="M195.45 385.52h-14.6" stroke-width="3.3"/><path d="M195.45 356.1h-8.3" stroke-width="2.5"/><path d="M195.45 326.68h-14.6" stroke-width="3.3"/><path d="M195.45 297.26h-8.3" stroke-width="2.5"/></g>
<rect x="195.45" y="271.6" width="528.95" height="529.75" fill="none" stroke="#000" stroke-width="3.3"/>
<g font-family="Liberation Serif, serif" font-size="50" fill="#000"><text transform="translate(187.9 871) scale(1.354 0.69)">−</text><text x="227.1" y="871">8</text><text transform="translate(246.65 871) scale(1.354 0.69)">−</text><text x="285.85" y="871">6</text><text transform="translate(305.4 871) scale(1.354 0.69)">−</text><text x="344.6" y="871">4</text><text transform="translate(364.15 871) scale(1.354 0.69)">−</text><text x="403.35" y="871">2</text><text x="459" y="867" text-anchor="middle">0</text><text x="517.75" y="867" text-anchor="middle">2</text><text x="576.5" y="867" text-anchor="middle">4</text><text x="635.25" y="867" text-anchor="middle">6</text><text x="694" y="867" text-anchor="middle">8</text><text x="165.45" y="815" text-anchor="end">46</text><text x="165.45" y="756.16" text-anchor="end">48</text><text x="165.45" y="697.32" text-anchor="end">50</text><text x="165.45" y="638.48" text-anchor="end">52</text><text x="165.45" y="579.64" text-anchor="end">54</text><text x="165.45" y="520.8" text-anchor="end">56</text><text x="165.45" y="461.96" text-anchor="end">58</text><text x="165.45" y="403.12" text-anchor="end">60</text><text x="165.45" y="344.28" text-anchor="end">62</text></g>
<text font-family="Liberation Serif, serif" font-size="50" x="459.93" y="934" text-anchor="middle">x [micron]</text>
<text font-family="Liberation Serif, serif" font-size="50" transform="translate(87.95 536.48) rotate(-90)" text-anchor="middle">y [micron]</text>
<rect x="739.7" y="271.6" width="26" height="529.75" fill="url(#cb)"/>
<g stroke="#000" stroke-width="2.6" fill="none"><path d="M765.7 536.48h14.6"/><path d="M765.7 468.48h14.6"/><path d="M765.7 438.84h14.6"/><path d="M765.7 421.51h14.6"/><path d="M765.7 409.21h14.6"/><path d="M765.7 399.67h14.6"/><path d="M765.7 391.88h14.6"/><path d="M765.7 385.29h14.6"/><path d="M765.7 379.58h14.6"/><path d="M765.7 374.54h14.6"/><path d="M765.7 370.04h14.6"/><path d="M765.7 340.4h14.6"/><path d="M765.7 323.07h14.6"/><path d="M765.7 310.77h14.6"/><path d="M765.7 301.23h14.6"/><path d="M765.7 293.44h14.6"/><path d="M765.7 286.85h14.6"/><path d="M765.7 281.14h14.6"/><path d="M765.7 276.1h14.6"/><path d="M765.7 271.6h14.6"/><path d="M765.7 604.48h14.6"/><path d="M765.7 634.11h14.6"/><path d="M765.7 651.44h14.6"/><path d="M765.7 663.74h14.6"/><path d="M765.7 673.28h14.6"/><path d="M765.7 681.07h14.6"/><path d="M765.7 687.66h14.6"/><path d="M765.7 693.37h14.6"/><path d="M765.7 698.41h14.6"/><path d="M765.7 702.91h14.6"/><path d="M765.7 732.55h14.6"/><path d="M765.7 749.88h14.6"/><path d="M765.7 762.18h14.6"/><path d="M765.7 771.72h14.6"/><path d="M765.7 779.51h14.6"/><path d="M765.7 786.1h14.6"/><path d="M765.7 791.81h14.6"/><path d="M765.7 796.85h14.6"/><path d="M765.7 801.35h14.6"/></g>
<rect x="739.7" y="271.6" width="26" height="529.75" fill="none" stroke="#000" stroke-width="3.3"/>
<g font-family="Liberation Serif, serif" font-size="50" fill="#000"><text x="792" y="554.68">0</text><text x="789.3" y="486.28">10<tspan font-size="37" dy="-18.2">11</tspan></text><text transform="translate(789.9 626.18) scale(1.354 0.69)">−</text><text x="829" y="626.18">10<tspan font-size="37" dy="-18.2">11</tspan></text><text x="789.3" y="387.84">10<tspan font-size="37" dy="-18.2">12</tspan></text><text transform="translate(789.9 724.61) scale(1.354 0.69)">−</text><text x="829" y="724.61">10<tspan font-size="37" dy="-18.2">12</tspan></text><text x="789.3" y="289.4">10<tspan font-size="37" dy="-18.2">13</tspan></text><text transform="translate(789.9 823.05) scale(1.354 0.69)">−</text><text x="829" y="823.05">10<tspan font-size="37" dy="-18.2">13</tspan></text></g>
<text font-family="Liberation Serif, serif" font-size="50" transform="translate(973.5 536.48) rotate(-90)" text-anchor="middle">Electric Field/Ex</text>
</g>
<g id="p1">
<rect x="1177.45" y="271.6" width="528.95" height="529.75" fill="#f7f7f7"/>
<clipPath id="cl1"><rect x="1177.45" y="271.60" width="528.95" height="529.75"/></clipPath><g clip-path="url(#cl1)"><g transform="translate(1177.45 271.60) scale(0.5)" filter="url(#bl1)" fill-rule="evenodd"><path fill="#e4eef4" d="M407 359l158-1 154 2 132 6 40 5 1 2-85 2-612-1-29-1 0-2 41-5 88-4zM244 401l195-2 222 0 210 3 186 4 1 3 1 14-2 4-254-4-274-1-274 1-254 4-2-2 1-16 1-3zM214 447l283-2 280 1 280 5 2 2 0 20-2 2-102-2-52-3-96-2-124 1-202-1-106 1-114-1-106 2-52 3-102 2-2-2 0-20 2-2zM199 491l62-1 116 2 304 0 136-2 84 2 52 5 104 3 2 1 0 22-26 0-84-2-44-7-34-2-88 0-94 4-160-1-150 1-104-4-92 0-30 2-44 7-108 3-2-1 0-22 2-1 104-3 48-5zM166 535l111-1 94 6 52-2 214 0 42 2 102-6 106 0 18 2 42 10 110 2 2 1 0 22-2 1-82-1-30-2-40-11-20-2-106 0-98 7-32-1-124 0-116 0-28 1-100-7-60-1-56 1-12 2-30 9-12 3-28 1-82 1-2-1 0-22 2-1 110-2 42-10zM189 577l44-1 46 2 74 7 24 1 70-2 86 0 78 0 66 2 28-1 74-7 44-2 40 0 32 2 10 2 40 14 22 1 90 2 2 2 0 20-2 2-86-2-24-2-16-4-28-11-8-2-26-2-48 0-40 2-90 10-34-1-22-1-218 0-36 2-20-1-84-9-68-2-46 2-20 6-16 7-16 4-24 2-86 2-2-2 0-20 2-2 90-2 22-1 40-14 10-2zM198 621l71 1 72 9 36 3 34-2 234 0 18 2 30 0 96-12 56-2 46 2 24 6 14 9 18 5 110 2 2 1 0 22-18 0-88-2-22-2-6-1-7-11-5-3-28-4-72 0-38 4-34 7-20 2-46 0-42-3-210 0-38 3-52 0-66-11-24-2-74 0-24 4-5 3-7 11-8 1-18 2-106 3-2-1 0-22 2-1 110-2 18-5 14-9 12-4 10-2zM153 669l34-1 56 0 38 6 36 11 10 2 26-7 44 0 18-2 112 0 116 0 18 2 44 0 26 7 10-2 36-11 38-6 86 0 14 2 3 3 4 12 3 3 132 3 2 2 0 20-2 1-132-3-3-2-4-14-3-3-22-2-38 0-38 2-24 4-28 8-38 15-2 0-3-2-2-10-7-5-36 1-16-1-132-2-132 2-16 1-36-1-7 5-3 10-2 2-2 0-38-15-28-8-24-4-54-2-44 2-3 3-4 14-3 2-132 3-2-1 0-20 2-2 132-3 3-3 5-13 2-2zM142 715l71-1 30 2 20 4 22 6 46 17 4-2 3-14 3-1 34 0 44-2 110 0 110 0 44 2 34 0 3 1 3 14 4 2 46-17 22-6 20-4 24-2 74 0 4 3 6 15 6 3 128 3 2 1 0 20-2 1-132-3-3-2-4-14-3-3-46-1-42 1-26 4-30 8-44 16-2 0-3-3 0-8-2-4-3-3-36 2-32-2-120-1-120 1-32 2-36-2-3 3-2 4-1 8-2 3-2 0-44-16-30-8-26-4-48-1-40 1-3 3-4 14-3 2-132 3-2-1 0-20 2-1 128-3 4-1 3-3 5-14zM144 761l63-1 32 2 22 4 22 6 48 17 2 0 3-4 0-8 2-4 3-1 38 1 50-3 100 0 100 0 50 3 38-1 3 1 2 4 0 8 3 4 2 0 48-17 32-8 40-4 66 0 5 5 4 14 5 2 130 3 2 1 0 20-2 2-132-3-5-7-2-10-3-3-78 0-24 2-34 8-40 14-26 11-28 7-22 15-30 5-10 3-12 12-6 3-42 6-4 3-6 12-4 3-10 1-16 1-16-3-4-4-4-10-4-3-42-6-6-3-12-12-10-3-30-5-22-15-28-7-26-11-40-14-34-8-24-2-78 0-3 3-2 10-5 7-132 3-2-2 0-20 2-1 130-3 5-2 4-14zM405 794l-24 2-38-1-3 2 5 4 26 9 18 7 12 2 26-2 102 0 102 0 26 2 12-2 18-7 26-9 5-4-3-2-48 1-32-2zM449 838l-2 1 6 3 26 6 12 5 6 4 8 9 16 2 31-1 3-2 5-8 7-4 12-5 24-5 8-4-6-2-26 2-92 1zM162 807l71 1 26 4 16 4 42 14 28 13 28 6 6 4 14 11 38 8 5 3 13 11 36 9 4 4-4 4-6 1-40-1-12 1-13 9-9 4-404 137-2-1 0-22 2-2 330-112 38-14 44-6 1-2-4-4-31-16-32-8-26-13-58-18-20-4-22-2-78 1-2 2-3 12-5 7-30 7-14 10-12 6-76 26-2-2 1-22 67-18 7-2 1-2-6-4-18-3-20 0-30 4-2-1 0-20 134-4 3-2 4-14 3-3zM855 807l60 1 3 3 4 14 5 3 130 2 2 1 0 20-2 1-30-4-20 0-18 3-6 4 1 2 7 2 67 18 1 22-2 2-77-26-12-6-13-10-30-7-5-7-3-12-2-2-78-1-22 2-20 4-58 18-26 13-32 8-32 16-3 4 1 2 44 6 38 14 330 112 1 2 1 22-2 1-404-137-9-4-13-9-12-1-38 1-8-1-3-2 0-4 3-2 36-9 17-13 37-8 6-3 14-12 30-7 24-11 34-12 38-10 16-2zM208 855l25-2 21 2 7 2 7 4 1 4-2 2-50 11-216 74-2-1 0-22 2-2 148-50 15-6 19-11zM804 855l15-2 14 0 17 2 20 4 39 18 148 50 2 2-1 22-1 1-216-74-48-10-4-3 1-4 7-4zM293 875l22-1 19 3 4 2 3 4-1 4-5 4-30 8-305 104 0-24 267-91 10-4 10-7zM734 875l21-1 14 2 14 9 274 93 2 3-1 22-305-104-30-8-5-4 0-6 6-4zM502 911l39-1 18 1 20 11 42 10 36 13 40 13 296 101-8 1-64-1-190-64-34-13-40-12-32-15-48-8-6-4-8-10-6-4-12-2-16-1-16 1-12 2-6 4-8 10-6 4-48 8-32 15-40 12-34 13-190 64-70 1-2-1 296-101 40-13 36-13 42-10 16-9zM517 953l24 0 14 2 6 4 6 12 4 3 38 5 14 3 30 15 42 11 36 13 111 38-9 1-60 0-44-15-32-13-42-11-28-15-50-8-6-5-6-12-4-3-34-2-30 2-4 3-6 12-6 5-50 8-28 15-42 11-32 13-44 15-68-1-1 0 111-38 34-13 44-11 30-15 14-3 38-5 4-3 4-10 4-4 6-3zM510 1005l27-1 18 2 4 3 3 4 2 10-1 2-8 2-58-1-3-1-1-4 4-10 5-4zM470 1029l15 0 4 4-2 12-3 4-5 1-42 4-20 6-42 0-11-1 43-11 18-11 10-5 14-2zM581 1029l24 0 18 3 10 5 18 11 43 11-11 1-42 0-20-6-42-4-7-3-2-4-1-8 2-5zM504 1057l35-2 14 1 6 3-14 1-36 0-10-1z"/><path fill="#d7e8f1" d="M423 365l168-1 82 2 28 3-24 2-58 1-226-1-36-2 17-2zM300 401l341-1 316 4 100 4 1 13-1 5-308-4-220-1-220 1-308 4-1-7 1-11 128-4zM233 447l544-1 280 6 1 3 0 16-1 4-96-2-56-3-86-2-136 1-204-1-104 1-120-1-100 2-54 3-100 2-1-2 0-18 1-3zM208 491l53-1 116 3 304 0 136-3 84 2 50 6 106 2 1 3 0 18-1 2-106-2-18-2-28-5-34-2-88 0-94 4-160-1-150 1-104-4-94 0-28 2-44 7-108 2-1 0 0-22 1-1 104-2 50-6zM166 535l109-1 96 6 52-2 116 0 96 0 44 2 102-6 106 0 18 2 42 10 110 2 2 3 0 20-2 1-76-1-36-2-40-11-20-2-108 0-96 7-32-1-124-1-116 1-28 1-100-7-60-1-56 1-12 2-30 9-12 2-28 2-82 1-2-1 0-20 2-3 110-2 42-10zM192 577l41-1 46 2 74 8 24 0 70-2 88 0 76 0 66 2 28 0 74-8 46-2 38 1 32 1 10 2 40 14 22 2 90 1 2 2 0 20-2 1-86-1-24-2-16-4-28-11-8-2-26-2-48 0-40 2-90 9-34 0-20-1-222 0-34 2-20-1-84-9-68-2-46 2-20 6-16 7-16 4-24 2-86 1-2-1 0-20 2-2 90-1 22-2 40-14 10-2zM202 621l67 1 72 10 36 2 34-2 232 0 20 2 30 0 96-12 56-1 46 1 24 6 14 10 18 4 44 2 67 1 1 20-1 2-1 0-106-2-18-2-8-2-7-10-5-3-28-4-72 0-38 4-34 7-20 2-46 0-42-3-210 0-38 3-52 0-50-9-38-4-76 0-24 4-5 3-7 10-8 2-18 2-106 2-2 0 1-22 67-1 44-2 18-4 14-10 22-6zM153 669l90-1 38 6 36 12 10 1 26-7 44 0 18-2 112 0 116 0 18 2 44 0 26 7 10-1 36-12 38-6 86 0 14 2 5 7 2 8 3 3 132 3 2 2 0 20-38 0-96-2-3-2-4-14-3-4-22-1-38 0-38 2-24 4-28 8-38 15-2 0-2-2-3-10-7-5-36 1-16-1-52-2-80 0-80 0-52 2-16 1-36-1-7 5-3 10-2 2-2 0-38-15-28-8-24-4-54-2-44 1-3 4-4 14-3 2-132 3-2-1 0-20 2-2 132-3 3-3 5-13 2-2zM143 715l72-1 28 2 20 4 22 6 46 17 5-2 2-14 3-1 34 0 44-2 108 0 112 0 44 2 34 0 2 1 3 14 5 2 46-17 22-6 20-4 26-2 72 0 4 3 3 10 3 5 6 3 128 3 2 1 0 20-2 1-132-3-5-6-2-10-3-4-44 0-44 1-26 4-30 8-44 15-2 0-2-2-1-8-2-4-3-3-36 2-32-2-120-1-120 1-32 2-36-2-3 3-2 4-1 8-2 2-2 0-44-15-30-8-26-4-46-1-42 0-3 4-3 10-4 6-132 3-2-1 0-20 2-1 128-3 4-1 3-3 5-14zM144 761l67-1 40 4 32 8 48 18 3-1 2-4 0-8 2-4 3-1 38 2 50-4 100 0 100 0 50 4 38-2 2 1 2 4 1 8 2 4 3 1 48-18 32-8 40-4 66 0 5 5 4 14 5 3 130 2 1 1 0 20-1 1-132-3-3-2-4-14-3-3-84 0-28 4-24 6-46 16-20 9-28 6-6 3-10 9-6 4-38 7-6 3-10 11-14 4-34 2-2-1-1-2 2-6 4-4 9-5 34-8 4-3-2-2-26 2-104 0-30-2-2 2 4 3 28 6 11 5 7 4 2 4 0 6-18 0-18-1-10-2-6-4-12-11-40-8-20-15-30-7-20-9-46-16-36-8-22-2-78 0-3 3-2 10-5 6-132 3-2-1 0-20 2-1 130-2 5-3 4-14zM405 794l-24 2-38-1-3 2 5 5 26 8 18 7 12 2 24-1 100-1 106 1 28 1 10-2 18-7 26-8 5-5-3-2-48 0-30-1zM142 809l5-2 34 0 48 1 38 6 50 17 28 12 28 7 5 3 13 11 10 3 28 6 7 4 6 8 5 3 27 7 4 2 1 2-4 2-10 1-36-3-14-8-36-18-30-6-28-13-50-16-30-6-44-3-54 1-3 5-4 14-3 3-33 7-13 10-11 6-75 25-1-7 1-16 70-18 6-2 1-2-7-5-18-2-22 0-30 3-1-2 0-18 133-3 3-3 4-14zM823 809l42-2 48 0 4 4 5 14 3 3 132 2 1 3 0 16-1 2-30-3-22 0-18 2-7 5 1 2 6 2 70 18 1 16-1 7-75-25-12-6-12-10-33-7-3-3-4-14-3-5-54-1-44 3-30 6-50 16-28 13-30 6-37 18-13 8-36 3-10-1-4-2 1-2 4-2 27-7 5-3 6-8 6-4 29-6 10-3 13-11 5-3 28-7 28-12 36-13 22-6zM211 855l22-2 19 2 7 2 7 4 1 4-2 2-50 11-215 73 0-18 1-5 150-51 14-6 20-11zM806 855l15-2 16 1 31 5 39 18 150 51 1 5 0 18-215-73-48-10-5-3 2-4 7-4zM503 871l6-2 40 0 6 1 0 3-2 8-6 5-10 2-12 0-10-1-6-3-5-5zM299 875l24 0 12 3 3 3 1 4-2 3-4 3-28 8-304 103-1-1 0-18 1-4 276-94 12-8zM741 875l16-1 10 2 22 12 268 91 1 4 0 18-1 1-304-103-28-8-6-4 0-2 1-4 7-4zM388 901l21 0 9 2 0 2-2 4-11 6-401 138-4 0 0-18 1-5 338-115 30-11zM649 901l24 0 16 3 30 11 338 115 1 5 0 18-3 0-398-136-10-4-6-6-1-4zM510 913l23-1 18 1 8 2 16 8 42 9 36 13 43 14 295 100-18 1-50-1-189-64-37-14-38-11-32-15-46-10-6-3-8-10-6-4-12-2-20-1-20 1-12 2-6 4-8 10-6 3-46 10-32 15-38 11-37 14-189 64-66 0-2 0 295-100 43-14 32-12 18-4 28-6 18-8zM512 955l21-2 18 3 8 5 2 6 0 4-4 3-8 1-34 0-14-1-4-3 1-8 5-6zM462 979l17 0 6 2 1 4-2 6-9 6-46 7-30 17-40 11-32 13-44 14-46 1-19-1 113-38 33-12 43-11 31-15zM579 979l22 0 19 4 31 15 43 11 33 12 113 38-19 1-46-1-44-14-32-13-40-11-30-17-48-8-6-4-3-7 1-4zM513 1007l18-2 16 2 8 4 3 4 0 4-3 4-8 2-22 0-18-1-7-3 0-6 5-6zM443 1033l22-2 14 2 3 4 1 4-2 4-6 3-48 5-14 6-26 1-18-1 44-9 18-13zM580 1033l17-2 20 2 12 5 16 12 43 9-17 1-26-1-14-6-46-4-6-3-4-5 1-4zM509 1059l20-2 20 2z"/><path fill="#c0dceb" d="M365 401l294 0 269 4 129 5 1 11-1 4-296-3-232-1-232 1-296 3 0-15 156-6zM257 447l520 0 280 6 1 16-1 5-88-1-62-4-68-1-156 1-154-1-154 1-156-1-68 1-62 4-88 1-1-9 1-12zM220 491l157 2 304 0 128-2 90 1 52 6 106 2 1 3 0 16-1 4-106-2-18-2-28-5-36-2-88 0-92 3-160-1-150 1-102-3-76-1-48 3-44 7-108 2-1-2 0-18 1-3 106-2 48-6zM167 535l108-1 96 6 54-2 210 0 44 2 102-6 106 0 18 2 42 10 110 2 1 3 0 18-1 3-80-1-30-2-12-2-30-9-22-3-106 1-96 7-32-1-242 0-26 1-100-7-62-1-56 1-52 13-30 2-80 1-1-1 0-20 1-3 110-2 42-10zM195 577l38 0 46 1 74 8 28 0 66-1 162 0 72 1 24 0 74-8 46-1 38 0 32 1 10 2 40 14 22 2 90 2 1 1 0 20-1 1-80-1-30-2-16-4-28-11-8-2-26-2-50 0-40 2-88 9-34 0-20-1-222 0-34 1-20 0-82-9-70-2-46 2-20 6-16 7-16 4-24 2-86 1-1-1 0-20 1-1 90-2 22-2 40-14 10-2zM164 623l49-2 56 1 96 12 30 0 20-2 232 0 34 2 36-2 72-10 56-1 46 1 24 6 14 10 18 4 44 2 66 0 1 3 0 18-1 2-106-2-18-2-8-2-7-10-5-3-28-4-72 0-38 4-34 7-20 2-46 0-42-3-212 0-36 3-52 0-50-9-38-4-76 0-24 4-5 3-7 10-8 2-20 2-105 2 0-20 1-3 66 0 44-2 18-4 14-10zM153 669l90-1 38 6 36 12 10 1 26-7 46 0 16-2 112 0 116 0 16 2 46 0 26 7 10-1 36-12 38-6 86 0 14 2 4 7 3 8 3 3 132 3 1 2 0 18-1 2-130-2-5-2-2-10-5-8-20-1-44 0-34 2-24 4-28 8-38 15-2 0-2-2-3-10-7-5-36 1-14-1-52-2-82 0-82 0-52 2-14 1-36-1-7 5-3 10-2 2-2 0-44-17-32-8-42-4-32 0-38 1-3 4-5 14-2 2-132 2-1 0 0-20 1-2 132-3 3-3 2-8 5-7zM143 715l72-1 28 2 28 6 62 21 3-2 3-14 2-1 34 1 44-3 114 0 106 0 44 3 34-1 2 1 3 14 3 2 8-1 12-6 42-14 28-6 26-2 72 0 4 3 3 10 3 5 6 3 128 3 1 1 0 18-1 3-132-3-4-6-3-10-3-4-46-1-42 2-28 4-28 8-44 15-2 0-2-2-1-8-2-4-3-3-36 1-32-2-120 0-120 0-32 2-36-1-3 3-2 4-1 8-2 2-2 0-44-15-28-8-28-4-48-2-40 1-3 4-3 10-4 6-132 3-1-1 0-20 1-1 128-3 4-1 3-3 2-8zM145 761l66-1 40 4 32 8 48 18 3-1 2-4 1-8 2-4 2-1 38 2 50-4 98 0 102 0 50 4 38-2 2 1 2 4 1 8 2 4 3 1 48-18 32-8 40-4 64 0 6 4 5 15 5 3 130 2 1 3 0 16-1 3-132-3-3-2-4-14-3-4-86 1-26 3-18 5-52 18-20 9-30 7-14 11-7 4-39 7-4 3-10 10-14 4-18 2-12-1-4-3 0-4 4-4 8-4 36-9 3-3-3-3-24 3-106 0-31-2-2 2 3 3 29 7 11 4 6 4 2 4-2 4-16 2-24-4-6-2-10-10-4-3-39-7-7-4-14-11-30-7-20-9-46-17-34-7-24-3-78 0-3 4-3 10-4 6-132 3-1-1 0-20 131-3 5-3 4-14zM403 795l-60 0-3 2 5 5 26 8 18 8 12 2 22-2 102-1 108 1 26 1 10-1 18-8 26-8 5-5-3-2-46 0-34-2-210 0zM142 809l41-2 46 1 38 7 49 16 27 12 30 7 6 5 8 7 6 4 33 7 7 4 10 13 19 7-7 1-13-1-37-12-26-13-29-5-27-13-66-20-34-5-80 1-2 3-4 12-4 6-39 8-7 8-9 6-77 26-1-10 1-12 31-8 45-10 5-2 0-2-7-4-16-4-30 1-28 3-1-6 0-14 133-3 3-3 5-14zM824 809l45-2 46 1 2 3 5 14 3 3 132 2 1 11-1 10-28-3-30-1-16 4-7 4 0 2 5 2 45 10 31 8 1 6-1 16-73-24-11-6-9-10-39-8-4-6-3-10-3-5-52-1-34 1-36 6-58 18-27 13-29 5-26 13-37 12-11 1-9-1 19-7 4-3 4-8 4-4 8-3 32-7 18-15 30-7 22-10 40-14 22-6zM214 855l25-1 16 2 10 5 0 4-2 2-50 11-212 72-1-1 1-21 150-51 16-6 19-10zM809 855l32-1 24 5 42 18 150 51 1 21-1 1-212-72-48-11-5-2 1-4 7-4zM513 871l32 0 5 2 1 4-2 4-7 4-9 1-12 0-8-2-5-5 0-6zM293 877l18-2 20 3 5 3 1 4-2 3-5 3-25 7-304 103-1-16 1-6 276-93zM731 877l20-2 14 2 16 9 273 93 4 2-1 20-304-103-25-7-7-4 0-4 4-4zM380 903l19-1 11 3 1 4-9 6-148 52-253 86-1-12 1-11 370-125zM653 903l18-1 16 3 370 125 1 11-1 12-253-86-152-54-5-4 0-4zM523 915l22 1 9 3 1 2-8 2-40-1-4-1 1-2 7-3zM465 929l16-1 4 3-3 8-9 5-44 9-31 16-39 11-38 15-187 64-33 1-32-1 296-100 44-13 36-13zM575 929l18 0 26 5 30 12 44 13 296 100-24 1-40-1-189-64-37-15-39-11-31-16-44-9-6-3-4-4-2-6zM512 957l17-2 16 1 9 5 2 6-3 4-8 2-20 0-16-1-6-3-1-4 3-5zM459 981l14 0 6 3 1 3-1 2-7 6-49 8-26 16-38 11-36 15-42 14-32 1-28-1 114-38 34-12 42-9 27-15zM588 981l17 0 14 3 28 16 42 9 34 12 114 38-28 1-32-1-42-14-36-15-38-11-26-16-49-8-6-4-2-4 2-4zM517 1009l12-1 12 1 8 3 3 5-4 4-7 1-26 0-8-3-1-4 5-4zM446 1035l13-2 10 1 5 3 1 4-3 4-9 2-16 2-14-1-4-3 3-4 7-4zM588 1035l15-2 14 3 9 5 3 4 0 2-6 2-8 0-24-3-5-1-4-4 2-4zM391 1057l12 0 3 2-28 0zM655 1057l12-1 13 3-28 0z"/><path fill="#a2cde3" d="M276 403l253-2 253 2 162 4 113 5 0 7 0 4-528-2-528 2 0-11 113-5zM302 447l453 0 148 2 154 5 1 15-1 4-65 0-159-6-592 0-58 1-117 5-65 0-1-8 1-11 154-5zM154 493l93-2 130 2 152-1 152 1 128-2 88 1 52 6 108 2 1 19-1 4-106-2-18-2-28-6-34-2-90 0-92 4-160-1-150 1-102-4-80 0-44 2-44 8-108 2-1-10 1-13 108-2zM169 535l106-1 94 6 56-2 210 1 44 1 104-6 104 1 18 2 40 9 112 3 1 4 0 16-1 3-80-1-30-2-12-2-30-10-22-2-106 0-96 8-30-2-126 0-118 0-26 2-98-7-62-1-58 1-52 13-30 2-80 1-1-1 0-10 1-12 112-3 40-9zM201 577l78 1 74 8 28 1 69-2 79-1 150 3 26-1 76-8 58-1 54 1 12 3 24 9 16 4 22 2 90 2 1 3 0 16-1 3-84-1-26-2-16-4-28-12-8-2-26-1-50 0-40 2-88 9-34 0-20-2-222 0-34 2-18 0-84-9-76-3-40 2-20 6-16 8-16 4-26 2-84 1-1-1 0-20 1-1 90-2 22-2 16-4 18-8 16-3zM164 623l49-2 54 1 96 12 32 0 20-2 232 0 34 2 36-2 74-10 54-1 46 1 24 6 14 10 18 4 44 2 66 0 1 3 0 18-1 2-104-2-20-2-8-2-7-10-5-3-28-5-72 1-38 4-36 7-18 2-46 0-42-4-212 1-36 3-52 0-50-9-38-4-76 0-24 4-5 3-7 10-8 2-20 2-104 2-1-10 0-10 1-3 66 0 44-2 18-4 14-10zM154 669l89 0 38 6 36 11 10 2 8-2 8-4 12-2 44 0 16-2 114 0 114 0 16 2 44 0 12 2 8 4 8 2 10-2 36-11 38-6 86-1 14 2 4 7 3 8 3 3 132 3 1 2 0 18-1 2-130-2-4-2-3-10-5-8-20-1-44-1-34 2-24 4-28 9-38 15-4-2-3-10-3-4-4-2-36 2-14-2-50-1-84 0-84 0-50 1-14 2-36-2-4 2-4 4-2 10-4 2-44-18-32-8-42-3-32-1-38 2-3 4-5 14-2 2-133 2 0-20 1-2 132-3 3-3 3-8 4-7zM143 715l72-1 28 3 28 5 62 22 3-3 3-14 36 0 46-3 218 0 44 3 36 0 3 14 3 3 8-2 12-5 42-15 28-5 26-3 72 0 4 3 5 14 5 4 130 3 1 3 0 16-1 2-132-2-4-6-3-10-3-4-46-1-44 1-26 5-28 7-44 16-2 0-2-3-1-7-1-4-4-4-36 2-30-2-122 0-122 0-30 2-36-2-4 4-1 4-1 7-2 3-2 0-44-16-28-7-26-5-50-1-40 1-3 4-3 10-4 6-132 2-1 0 0-20 131-4 5-4 3-8zM146 761l65 0 40 3 32 9 48 17 3-1 2-4 1-8 2-4 40 1 50-3 100-1 100 1 50 3 40-1 2 4 1 8 2 4 3 1 48-17 32-9 40-3 64 0 6 3 5 15 5 3 130 2 1 3 0 16-1 3-132-3-4-6-3-10-3-4-86 0-16 2-28 6-52 18-20 10-30 6-15 12-7 4-38 6-4 2-12 12-13 4-26 0-5-4 1-4 6-4 11-4 26-5 7-5-3-3-28 3-104 0-32-3-3 3 7 5 26 5 11 4 6 4 1 4-4 3-18 1-10-1-12-3-12-12-4-2-38-6-7-4-15-12-30-6-20-10-46-16-34-8-22-2-80 0-3 4-3 10-4 6-132 3-1-11 1-11 130-2 5-3 5-15zM343 794l-4 3 6 5 26 9 18 7 12 2 22-2 104-1 108 1 24 2 10-2 18-7 26-9 6-5-4-3-44 1-38-2-214 0-42 2zM143 809l42-1 44 0 37 7 49 16 28 13 29 7 6 4 11 11 32 7 8 4 3 6-1 2-4 2-16-2-12-4-16-10-36-6-22-11-44-14-24-7-28-4-86 0-3 4-3 12-4 6-27 4-15 0-16-6-16-2-32 0-26 3-1-9 1-10 132-3 3-3 5-14zM827 809l88-1 2 3 5 14 3 3 132 3 1 18-1 1-26-3-34 0-14 2-16 6-15 0-27-4-4-6-3-12-3-4-88 0-16 2-26 6-52 17-22 11-36 6-21 12-13 3-10 1-4-2-1-2 1-4 4-4 38-9 11-11 6-4 29-7 28-13 42-14 26-6zM219 855l24-1 12 3 8 5 0 3-3 2-49 11-210 71 0-20 152-51 16-7 20-10zM813 855l26 0 23 4 11 4 16 8 16 7 152 51 0 20-210-71-49-11-3-2 1-4 7-4zM67 863l12-2 5 2 0 4-5 4-19 8-59 19 0-20 26-7zM974 863l7-1 22 3 28 6 26 7 0 20-70-23-11-6-3-4zM517 873l24 0 4 2 1 2-3 4-4 2-14 1-6-1-6-4 0-4zM298 877l21-1 11 3 3 2 2 4-4 4-30 9-300 103 0-21 278-94 12-7zM736 877l21-1 10 3 16 9 274 92 0 21-300-103-26-7-7-4-1-4 5-4zM378 905l15-1 10 2 2 3-2 2-7 4-139 50-256 86 0-18 3-2zM658 905l15-1 14 3 367 124 3 2 0 18-4 0-176-60-166-58-54-20-4-4 1-2zM456 933l13-1 6 2 1 3-1 2-7 4-43 8-24 14-9 4-35 10-40 16-186 64-59 0 298-100 43-11 28-11zM584 933l11-1 16 3 34 13 43 11 298 100-59 0-187-64-39-16-35-10-9-4-24-14-43-8-4-2-4-4 0-2zM516 959l11-2 12 1 8 3 3 4-3 4-6 1-22 1-8-2-2-2 0-4zM449 985l16-1 4 1 2 4-5 4-7 2-22 1-5-1 3-4zM590 985l11-1 12 2 10 5 2 4-8 1-20-2-6-2-4-3 0-2zM387 1007l12-1 5 1 0 4-8 6-41 12-32 14-47 16-51 0 72-24 42-13 30-11zM654 1007l5-1 12 1 18 4 30 11 42 13 72 24-51 0-47-16-32-14-36-10-11-6-3-4zM522 1013l14 0 3 2 0 2-5 2-10 0-5-2-1-2zM452 1039l5 0 4 2-4 2-11 0 0-2zM601 1039l11 2 0 2-12 0-3-2z"/><path fill="#84bcd9" d="M413 403l212 0 158 2 170 6 48 4 8 2-20 2-82 1-820 0-27-1-11-2 8-2 48-4 170-6zM410 447l238 0 239 2 170 6 0 12 0 6-120-2-60-3-670-1-40 1-46 3-120 2 0-18 190-6zM158 493l89-2 130 3 152-2 152 2 126-3 90 2 50 5 110 3 1 16-1 6-104-2-19-2-27-6-30-2-96 0-92 4-162-1-148 1-102-4-88 0-38 2-27 6-20 2-103 2-1-10 1-12 110-3zM171 535l104 0 92 5 60-1 208 0 42 1 106-5 102 0 20 2 40 9 112 3 1 18-1 4-73 0-37-2-52-14-50-1-70 1-94 8-30-2-246 0-24 2-98-8-64-1-56 1-52 14-37 2-73 0-1-10 1-12 112-3 40-9zM163 579l56-2 58 2 76 7 28 1 148-2 148 2 28-1 76-7 58-2 52 1 14 3 24 9 16 4 20 2 92 2 1 19-1 3-83-1-27-2-16-4-28-12-8-2-24-2-52 0-40 2-88 10-34 0-18-2-226 0-10 2-40 0-84-10-38-2-40 0-38 2-16 5-21 9-15 4-27 2-83 1-1-11 1-11 92-2 20-2 16-4 18-7zM165 623l48-2 54 2 96 11 32 0 20-2 232 0 34 2 36-2 74-9 54-2 46 1 24 7 14 9 16 4 44 2 68 1 1 18-1 4-104-2-20-2-8-2-7-10-5-4-26-4-74 0-38 4-36 8-20 2-44 0-40-4-214 0-36 4-51 0-51-10-38-4-76 0-24 4-5 4-7 10-8 2-20 2-104 2-1-10 1-12 68-1 44-2 16-4 14-9zM155 669l78-1 26 3 29 6 29 9 10 2 8-2 8-3 12-3 44 0 16-2 112 0 116 0 16 2 44 0 12 3 8 3 8 2 10-2 29-9 29-6 24-3 78 1 14 1 4 7 3 8 3 3 132 4 1 17-1 4-130-2-4-2-3-10-5-8-20-2-46 0-34 2-22 4-28 8-38 15-4-2-2-9-4-4-4-2-36 2-14-2-48-1-86-1-86 1-48 1-14 2-36-2-4 2-4 4-2 9-4 2-44-17-32-8-40-4-40 0-32 2-3 4-5 14-2 2-132 2-1-10 1-11 132-4 3-3 3-8 4-7zM144 715l71 0 27 2 29 6 62 21 3-3 1-8 2-6 36 0 46-3 218 0 44 3 36 0 2 6 1 8 3 3 62-21 29-6 25-2 72-1 4 3 4 14 6 4 130 3 1 19-1 2-132-2-4-6-3-10-3-4-48-1-42 1-26 4-28 8-44 16-2 0-2-3-1-9-5-6-36 2-30-2-122 0-122 0-30 2-36-2-5 6-1 9-2 3-2 0-44-16-28-8-26-4-50-1-40 1-3 4-3 10-4 6-132 2-1-10 1-11 130-3 5-4 5-14zM165 761l38 0 47 4 32 8 49 17 4-1 2-12 2-4 2-1 38 2 54-3 94-1 98 1 54 3 38-2 2 1 2 4 2 12 4 1 49-17 31-8 49-4 55 0 4 1 2 2 5 15 3 3 132 2 1 17-1 4-132-2-4-6-3-10-3-4-88 0-26 4-16 4-48 16-26 12-30 6-14 12-9 4-39 5-4 2-9 11-11 4-12 1-10-1-4-2-2-4 5-4 12-4 27-5 5-5 0-2-11-1-23 3-103 0-34-3-3 1 0 2 5 5 27 5 15 6 2 4-2 2-6 2-10 1-10-1-8-3-5-3-7-9-4-2-39-5-9-4-14-12-30-6-16-8-50-17-36-9-22-2-80 0-3 4-3 10-4 6-132 2-1-10 1-11 130-2 5-3 3-10 4-7zM341 794l-2 3 1 2 9 5 21 7 19 7 12 2 20-2 214 0 26 2 52-18 6-5-1-2-3-1-40 1-40-2-216 0-42 2zM143 809l82 0 30 4 23 6 35 12 28 13 27 7 7 4 5 8-1 2-6 1-19-1-31-13-54-17-32-6-24-1-70 0-3 5-5 15-6 3-30 1-26-5-20-2-52 4 0-17 130-3 6-4 4-14zM833 809l82 0 2 2 4 14 6 4 130 3 0 17-54-4-20 2-24 5-30-1-6-3-5-15-3-5-72 0-20 1-26 4-62 19-30 12-22 2-4-1 0-4 4-6 7-4 27-7 28-13 42-14 27-6zM213 857l20-2 15 2 9 4 1 2-1 2-4 2-48 11-204 69 0-15 158-54 16-7 20-10zM810 857l25-1 27 5 31 15 164 56 0 15-204-69-48-11-4-2-1-2 0-2zM56 867l17 0 1 2-6 4-67 23 0-16 25-7zM985 867l10-1 19 3 43 11 0 16-63-21-8-4-2-2zM400 875l5-2 10 2 4 2 1 2-3 1-11-1zM643 875l10-2 4 2-5 4-9 2-5-2 1-2zM300 879l15-1 12 3 2 4-4 4-26 7-75 27-223 75 0-15 276-93zM737 879l12-1 10 1 22 11 276 93 0 15-223-75-75-27-26-7-3-2-1-4zM380 911l2 0 0 2-21 10-60 24-300 102 0-15 269-91 71-22zM676 911l41 10 64 20 276 93 0 15-300-102-56-22-25-12zM380 961l11 0-4 4-34 11-33 15-196 68-45 0 214-72zM667 961l8-1 11 3 73 22 220 74-45 0-190-66-39-17-29-9-8-4zM313 1035l10-1-5 5-53 20-30 0zM735 1035l6-1 12 3 70 22-30 0-49-18z"/><path fill="#5fa5cd" d="M346 407l177-2 172 2 132 4 24 2 3 2-48 2-79 0-475 0-48-2 3-2 68-4zM270 449l307-1 210 1 105 2 165 7 0 9 0 4-98-1-64-3-660 0-72 0-62 3-100 1 0-13 164-7zM169 493l90-1 118 2 56-1 192 0 56 1 118-2 90 1 54 6 114 3 0 15 0 5-98-2-22-1-30-6-28-2-100 0-88 4-164-2-146 2-102-4-92 0-36 2-30 6-22 1-98 2 0-20 114-3zM177 535l94 0 88 5 22 1 56-2 80 0 103 0 71 1 96-5 94 0 22 2 42 9 112 4 1 17-1 4-109-2-53-14-46-1-74 1-96 7-28-1-246 0-24 1-98-7-64-1-56 1-53 14-109 2 0-21 112-4 42-9zM165 579l54-2 58 2 76 7 26 1 150-2 148 2 28-1 76-7 58-2 52 2 20 4 18 7 16 4 20 2 92 2 1 17-1 4-71 0-38-2-16-4-27-12-10-2-24-2-54 0-38 2-88 10-34 0-18-2-226 0-32 2-18 0-84-10-38-2-46 0-34 3-14 3-21 10-16 4-38 2-71 0 0-21 92-2 20-2 16-4 18-7zM166 623l47-1 54 1 94 11 34 0 22-2 230 0 34 2 38-2 72-9 98 0 13 2 13 4 14 9 16 4 40 2 72 1 1 18-1 4-102-2-22-2-8-2-7-10-5-4-26-4-76 0-36 4-36 8-20 2-44 0-40-4-214 0-38 4-20 0-27 0-17-2-36-8-36-4-78 0-24 4-6 4-6 10-8 2-22 2-102 2-1-10 1-12 72-1 40-2 16-4 14-9zM157 669l78 0 23 2 29 6 30 9 10 2 16-5 12-2 44-1 16-1 226-1 18 2 44 1 12 2 16 5 10-2 29-9 30-6 23-2 76 0 16 2 4 6 2 8 4 3 132 4 1 17-1 4-130-2-4-2-5-14-5-5-66-1-32 2-22 4-28 8-38 15-2 0-2-3 0-4-4-6-6-4-34 2-60-3-90-1-90 1-60 3-34-2-6 4-4 6 0 4-2 3-2 0-44-17-30-8-40-4-44 0-30 2-5 8-3 10-3 2-131 2-1-10 1-11 132-4 3-3 3-8 4-6zM146 715l68 0 39 4 30 8 50 17 3-3 1-7 2-7 2-1 34 2 44-3 218 0 46 3 34-2 2 1 2 7 0 7 4 3 50-17 30-8 39-4 68 0 5 3 4 13 6 5 130 2 1 17-1 4-132-2-4-7-3-9-5-5-48-1-40 2-26 4-28 8-44 16-2-1-2-3-1-8-2-4-3-2-36 2-28-2-124 0-124 0-28 2-36-2-3 2-2 4-1 8-2 3-2 1-50-18-32-8-16-2-54-2-36 2-4 4-2 9-4 7-132 2-1-10 1-11 130-2 6-5 4-13zM143 763l54-2 36 2 15 2 33 8 48 17 4 1 2-2 2-4 0-7 4-5 40 1 56-3 92 0 92 0 56 3 40-1 4 5 0 7 2 4 2 2 4-1 48-17 33-8 15-2 32-2 58 1 2 2 4 15 4 3 132 3 1 16-1 4-132-2-4-7-3-9-5-5-48 0-38 1-26 4-18 4-52 18-22 10-28 5-6 3-11 10-11 4-17 2-11-1-4-1-2-5-4-1-40 4-91 0-41-4-5 2-1 4-2 1-13 1-24-4-7-4-12-10-30-6-22-10-46-16-24-6-26-4-38-1-48 0-6 5-2 9-4 7-132 2 0-20 132-3 3-3 3-10zM339 794l1 5 9 5 26 9 16 7 10 1 20-3 214 0 28 2 46-16 8-4 3-5-5-1-46 1-18-2-236 0-36 2zM174 809l63 2 31 6 46 16 25 13 27 7 3 2 2 4-1 2-3 1-12-1-28-11-60-17-22-4-28-2-74 0-3 4-5 15-5 3-25 0-30-5-16-1-22 1-36 3 0-14 130-3 5-3 3-10 4-7zM856 809l59 1 4 7 3 10 5 3 130 3 0 14-36-3-22-1-16 1-30 5-25 0-5-3-5-15-3-4-78 0-24 2-22 4-60 17-24 11-16 1-4-1-1-2 3-4 3-2 27-7 25-13 33-12 31-8zM453 851l8-2 14 2 8 4 0 2-6 3-12 0-8-3-4-4zM583 851l16-2 6 2 0 2-4 4-4 2-14 1-6-1-2-2 0-2 3-2zM216 859l15-1 12 1 5 2 0 2-2 2-57 12-7 0 15-12zM815 859l18-1 18 3 10 4 15 12-7 0-51-10-9-4 1-2zM30 877l11-2 0 2-40 13 0-4zM1017 877l0-2 4 0 21 6 15 5 0 4zM165 883l6 0-170 58 0-3 3-1zM887 883l6 0 161 54 3 1 0 3zM304 885l5-2 5 2-7 2-3 0zM744 885l7-1 3 1 0 2-6 0zM226 913l7 0-22 8-210 71 1-3zM825 913l6 0 225 76 1 3zM231 963l4 0-26 10-208 70 0-3 4-1zM823 963l4 0 226 76 4 1 0 3-208-70z"/><path fill="#408fc1" d="M273 451l256-2 256 2 132 4 67 4 40 4-2 2-63 2-120-2-160 1-496-1-107 2-41-2-1-2 14-2 117-7zM216 493l161 2 152-2 156 2 114-2 76 1 28 1 46 5 108 4 0 13 0 4-112-2-48-8-50-1-76 1-87 4-157-2-146 2-94-4-66-1-60 1-49 8-111 2 0-17 106-4 48-5zM202 535l53 0 124 6 146-2 168 2 111-6 69 0 26 2 42 9 14 2 102 2 0 17 0 4-104-2-14-2-42-12-36-1-86 1-96 7-150-2-148 2-30-1-66-6-68-2-54 2-12 2-32 10-14 2-104 2 0-21 100-2 16-2 42-9zM168 579l104 0 81 7 28 2 148-2 150 2 107-9 104 0 19 4 26 9 22 4 100 3 0 16 0 4-107-2-17-4-28-12-10-2-22-2-56 0-38 2-90 10-28 0-18-2-230 0-32 2-14 0-88-10-36-2-50 0-32 2-14 4-22 10-18 4-106 2 0-20 100-3 22-4 26-9zM169 623l94 0 98 11 36 0 20-1 230 0 14 1 20 1 38-3 76-9 94 0 25 6 15 9 16 4 112 4 0 17 0 3-90-1-31-2-11-3-6-9-6-4-26-4-76 0-36 4-38 8-23 2-34 0-43-4-140 0-76 0-58 4-42-2-38-8-36-4-80 0-22 4-6 4-6 9-11 3-31 2-90 1 0-20 112-4 16-4 15-9zM162 669l72 0 21 2 31 6 41 11 6 0 12-5 14-2 42-1 16-1 112-1 112 1 16 1 42 1 14 2 12 5 6 0 41-11 31-6 21-2 72 0 19 2 4 6 2 8 4 4 132 3 0 17 0 4-130-3-4-2-4-13-6-5-66-1-32 2-24 4-26 8-38 14-2 0-5-12-7-4-34 2-58-4-92 0-92 0-58 4-34-2-7 4-5 12-2 0-44-16-30-8-38-4-48 0-28 1-6 9-2 9-4 2-130 3 0-21 132-3 4-4 2-8 4-6zM143 717l4-2 52 0 36 2 15 2 32 8 51 18 3-2 3-15 2-1 34 1 54-3 98 0 102 0 54 3 34-1 2 1 3 15 3 2 51-18 32-8 45-4 58 0 4 1 2 2 5 15 5 3 130 3 0 16 0 4-131-2-3-2-4-14-4-5-54-1-38 2-26 4-28 8-42 15-2-1-2-4-2-10-4-2-38 2-24-2-126-1-126 1-24 2-38-2-4 2-2 10-2 4-2 1-48-17-32-8-36-4-42 0-30 1-4 5-4 14-3 2-131 2 0-20 130-3 5-3 3-10zM143 763l81 0 19 2 21 4 27 8 43 16 9 9 30 11 14 9 18 0 17-3 213 0 18 3 18 0 14-9 30-11 9-9 32-12 38-12 20-4 20-2 81 0 2 2 4 14 4 3 132 4 0 13 0 5-130-2-4-2-4-13-4-6-78 1-22 2-28 5-38 12-45 18-29 3-13 13-15 4-16 0-6-4-6-2-29 4-33 1-74 0-44-5-6 2-4 4-12 1-11-1-9-4-14-13-29-3-45-18-38-12-20-4-26-3-82-1-4 6-4 13-4 2-130 2 0-18 132-4 4-3 4-14zM342 773l33 1 22-1 76-2 146 1 60 2 37-1 3 1 2 5 1 12-3 2-26 2-27 0-17-2-238 0-19 2-34 0-21-3 0-13 2-5zM172 811l43 0 35 4 35 10 19 8 10 6-1 2-4-1-46-10-28-4-90-3-4 4-6 16-2 2-16 0-14-2-12-4 2-2 40-5 3-3 5-15 2-2zM849 811l64 0 4 3 5 15 3 3 39 5 3 2-12 4-10 1-20 1-2-2-6-17-2-2-94 2-24 3-52 12-1-2 9-6 38-14 29-6zM5 837l20 0 7 2-31 4 0-6zM1033 837l24 0 0 6-31-4z"/><path fill="#307ab6" d="M409 453l240 0 113 2 47 2 12 2-31 2-105 2-338 0-110-4 12-2zM201 495l72-1 104 2 104-1 200 1 104-2 72 1 46 2 46 5 108 6 0 7 0 2-114 0-46-7-28-1-78 0-110 5-300 0-112-5-66 0-42 1-56 7-104 0 0-9 108-6 46-5zM168 537l87-1 122 5 152-1 150 1 120-5 80 0 27 3 43 9 108 4 0 13 0 5-98-2-25-3-33-10-30-2-74 1-116 7-156-2-144 2-118-7-58-1-46 2-35 10-21 3-102 2 0-18 108-4 43-9zM176 579l85 0 120 9 26-1 120-1 124 1 30 1 116-9 85 0 25 4 26 9 18 4 106 3 0 16 0 3-98-1-24-4-36-14-24-2-76 1-117 11-35-2-118-1-118 1-30 2-100-10-36-2-54 0-32 2-36 14-22 4-100 1 0-19 106-3 18-4 26-9zM175 623l78 0 27 2 77 9 20 1 39-2 107 0 119 0 41 2 18-1 77-9 27-2 78 0 15 2 14 4 15 9 16 4 22 2 92 2 0 15 0 4-115-2-17-4-6-8-6-4-22-4-20-1-62 1-36 4-41 8-47 1-48-3-220 0-52 3-39-1-41-8-36-4-50-1-32 1-22 4-6 4-6 8-17 4-115 2 0-19 92-2 22-2 16-4 14-9 15-4zM177 669l42 0 31 2 33 6 36 11 10 1 18-6 83-4 89 0 109 0 83 4 14 6 6 0 44-12 33-6 31-2 44 0 32 3 4 5 2 8 6 4 130 4 0 16 0 3-130-2-4-3-2-8-6-10-52-1-34 1-32 4-28 8-42 15-3-1-3-10-6-4-34 1-58-3-94 0-94 0-58 3-34-1-6 4-4 10-2 1-42-15-30-8-32-4-42-1-42 1-6 10-2 8-4 3-130 2 0-19 130-4 6-4 2-8 4-5zM144 717l80 0 31 4 30 8 50 18 0 9-2 6-4 1-50-18-32-7-26-3-52-1-26 1-6 10-2 9-4 2-130 2 0-19 130-3 5-3 5-14zM834 717l80 0 3 2 5 14 5 3 130 3 0 19-130-2-4-2-3-9-5-10-52-1-34 1-28 5-28 7-46 16-2-1-2-6 0-9 63-22 28-6zM343 727l32 1 56-3 98 0 98 0 56 3 32-1 4 2 2 16-4 2-32 2-58-3-94-1-102 1-60 3-32-3-2-1 2-16zM143 765l68-1 21 1 26 4 28 8 42 16 15 11 26 9 3 2 1 2-6 1-10-1-54-20-42-12-24-4-26-1-68 0-3 5-5 13-4 3-130 1 0-15 132-4 4-4 2-8zM826 765l35-2 52 1 4 2 4 13 4 4 132 4 0 15-130-1-4-3-6-16-4-3-68 1-28 2-28 5-40 12-48 18-14 0-2 0 1-2 3-2 26-9 11-9 29-12 37-12zM405 773l208-1 68 3 32-2 6 3 2 11-2 4-4 2-30 2-56-3-198 0-62 2-26-1-4-2-2-6 3-10 5-2 40 2zM419 821l34-2 172 0 14 2 3 2 3 4 10 1 1 3-3 2-8 2-4 0-4-4-6-1-54 6-86 1-20-1-46-6-4 1-4 4-4 0-9-2-2-2 0-2 11-2 3-4z"/><path fill="#2267ac" d="M458 497l373 1 63 3 64 10-21 0-34-5-22-1-96 2-104 5-302 0-106-5-98-2-18 1-33 5-17 0-8 0 8-2 40-6 49-4 69-2 110 1zM164 539l79-2 132 6 156-2 148 2 120-6 72 1 36 3 28 7 16 2 106 5 0 10 0 2-102-1-22-3-34-9-28-2-88 1-104 7-48-1-104 0-100 0-46 1-104-7-72-1-46 2-34 9-22 3-102 1 0-12 108-5zM167 581l44-2 44 1 118 9 68-2 180 0 56 2 104-8 44-2 50 1 27 3 33 11 18 4 104 3 0 14 0 2-106-2-18-4-30-12-12-2-20-1-82 1-108 11-56-2-194 0-50 2-21-1-89-10-66-1-44 2-14 4-22 9-18 4-106 2 0-16 104-3 18-4 26-9zM166 625l51-2 52 2 104 11 60-3 194 0 54 3 32-2 76-9 42-2 44 1 17 1 23 6 12 8 20 5 110 4 0 13 0 3-92-1-29-2-11-3-8-10-4-2-14-3-22-2-46 0-34 2-59 10-25 2-30 0-58-3-198 0-60 3-34-1-72-11-64-2-28 1-22 3-6 3-8 10-11 3-30 2-91 1 0-16 112-4 20-6 10-7zM160 671l57-1 40 3 29 6 43 13 6-2 10-5 8-2 76-3 100-1 100 1 76 3 8 2 10 5 6 2 43-13 29-6 38-3 52 0 24 3 4 5 3 9 3 3 132 4 0 13 0 3-130-1-4-3-5-13-3-5-56-1-42 2-26 4-28 9-34 12-4-1-4-11-6-2-34 1-46-2-106 0-106 0-46 2-34-1-6 2-4 11-4 1-40-14-32-9-34-3-44-1-36 1-3 5-5 13-4 3-130 1 0-16 130-3 4-3 6-13 2-2zM144 719l73-1 39 5 30 8 43 16 4 2 0 8-2 3-2 0-50-17-34-7-26-3-48-1-28 1-3 4-5 15-3 3-131 1 0-15 132-4 4-4 4-12zM831 719l83 0 3 2 6 14 4 2 130 4 0 15-130-1-4-3-5-15-3-4-46-1-38 1-28 4-24 6-44 16-8 1-2-2-1-7 5-4 56-20 28-6zM409 727l182-1 58 1 30 2 34-1 4 1 1 2 2 10-2 4-3 1-30 2-78-3-170 0-58 2-29 0-9-2-2-2 0-11 2-3 2-1 38 1zM167 767l52 0 34 4 40 12 18 8 6 4-6 0-52-13-24-4-34-2-58 0-2 2-6 18-4 2-130-1 0-6 130-5 4-2 6-15 2-1zM838 767l75 1 4 1 5 14 5 3 130 5 0 6-130 1-4-2-6-18-2-2-58 0-34 2-24 4-52 13-6 0 2-2 12-6 33-12 28-6zM429 773l200 0 54 2 30-1 5 3 2 8-1 4-4 2-28 2-52-2-206 0-64 2-24-3-2-2-1-5 1-5 3-3 37 0zM429 823l16-2 84 0 84 0 16 2 0 2-4 2-28 6-38 1-90-1-29-4-11-4z"/><path fill="#185493" d="M394 503l165-2 105 2 35 2-26 2-301 0-13-2zM180 541l81-1 114 5 154-2 150 2 112-5 66 0 42 3 46 10 63 6 3 2-38 2-22-1-20-3-26-7-26-3-80 1-120 9-50-2-202 0-44 2-122-9-72-1-34 2-40 10-32 1-36-1 3-2 61-5 47-11zM168 583l41-2 44 0 124 9 52-2 202 0 48 2 118-8 74 0 31 3 31 11 18 4 106 5 0 8-103 0-20-4-31-12-30-3-82 2-112 10-56-1-190 0-52 1-112-10-70-2-38 2-14 4-23 9-20 4-103 0 0-8 106-5 18-4 24-9zM196 625l43 0 35 2 59 7 44 3 46-2 104-1 108 1 50 2 112-11 28-1 48 0 30 4 13 4 11 8 18 5 112 5 0 10-88 0-33-2-11-3-10-11-16-4-22-1-76 1-74 11-26 2-70-3-210 0-52 3-36-1-74-12-62-2-28 1-22 4-6 2-8 10-12 3-30 2-90 0 0-10 112-5 18-5 11-8 13-4 16-3zM161 673l66-1 42 5 30 8 30 11 3 3 0 6-1 5-4 1-38-14-32-8-36-3-52-1-26 1-3 5-5 13-4 3-130 0 0-10 132-5 3-3 3-8 4-6zM819 673l54-1 40 2 4 3 5 12 3 3 132 5 0 10-130 0-4-3-5-13-3-5-54-1-32 1-30 4-24 5-46 16-3-4-1-8 7-4 48-16zM440 681l179 0 80 3 14 3 5 4 1 4-2 2-10 2-22 1-50-2-204-1-66 3-16-2-8-1-2-2 0-2 3-4 9-4zM163 723l52-1 33 3 26 6 29 10 25 10 2 4-6 0-45-15-34-8-26-3-72-3-4 1-8 23-4 3-130 0 0-9 130-5 5-2 5-12zM826 723l41-1 50 3 6 12 4 2 130 5 0 9-130 0-4-3-8-23-4-1-72 3-26 3-28 6-51 17-5 0 0-3 5-3 37-14 29-8zM399 729l36-2 196 0 50 3 30-1 6 2 1 8-1 4-4 2-28 1-54-2-202 0-58 2-28-2-2-1-2-6 2-6 2-2 34 1zM414 775l189-1 41 1 37 2 30-1 4 1 2 2 1 4-1 4-4 3-26 1-56-2-100 0-104 0-56 2-28-2-2-2-1-4 1-4 2-2 36 0zM462 827l134 0-21 1-46 1-46-1z"/><path fill="#0e4179" d="M419 547l170-1 148 3-29 4-29 2-52-1-186 0-58 1-33-2-29-4zM209 585l51 0 117 8 50-2 202 0 56 2 132-9 67 3 20 4-29-1-76 2-120 12-54-2-194 0-50 2-124-12-76-2-26 1 19-4zM172 629l49-2 38 1 112 12 56-3 206 0 50 3 48-4 60-7 36-2 59 2 21 4 10 4 8 8 10 3 50 7-28 1-20-1-12-3-10-10-18-4-16-1-50 0-34 2-66 10-34 3-66-3-212 0-48 3-40-2-68-11-74-2-24 0-20 4-4 2-8 9-12 3-30 1-18-1 50-7 10-3 8-8 4-2zM177 677l48-1 34 3 18 4 19 6 19 8 5 4-61-15-34-4-63-3zM816 677l43-1 37 3-85 5-30 5-43 12 9-6 26-10 16-4zM439 683l198 0 64 3 8 3 3 4-2 2-7 2-18 1-52-2-204-1-60 3-15-1-6-2-2-2 1-2 7-4zM137 693l-2 7-4 3-32 0-26-2 58-5zM921 693l0-2 2 3 4 2 58 5-26 2-32 0-4-3zM399 731l60-2 168 0 52 3 32-1 4 1 1 5-1 4-3 2-27 1-54-2-100 0-104 0-54 2-28-2-3-3 1-7 4-1 28 1zM134 743l1 0 0 2-4 3-31-1zM923 743l35 4-31 1-4-3zM439 777l186 0 54 3 32-1 3 2 1 2-1 2-3 2-26 1-80-2-172 0-60 2-26-1-4-4 1-2 3-2 32 1z"/><path fill="#073467" d="M442 597l87-2 87 2zM420 641l195-1 23 1 37 3 43 1-35 2-56-2-204 0-52 2-28-3 40 0zM427 687l200 0 68 4-1 2-13 0-60-1-194 0-50 1-13 0-1-2zM459 733l148 0 103 4-6 2-23 1-60-2-192 0-52 2-23-1-6-2 33-1z"/><path fill="#fae9df" d="M403 377l302 0 228 5 124 6 1 11-1 4-292-4-236-1-236 1-292 4-1-6 1-9 184-8zM347 423l342 0 368 5 2 3 0 18-2 2-240-5-332-1-256 1-228 5-2-2 0-18 2-3zM223 469l154 0 178-1 128 1 112-1 108 2 50 3 104 2 2 2 0 22-102-2-54-5-74-2-148 2-302 0-140-2-84 2-54 5-102 2 0-22 2-2 102-2 50-3zM174 513l97-1 102 4 306 0 106-4 92 0 28 2 44 8 108 2 2 1 0 22-2 1-52-1-58-2-42-9-22-2-104 0-92 6-52-2-214 0-40 2-102-6-110 0-16 2-42 9-110 3-2-1 0-22 2-1 108-2 44-8zM162 557l51-2 66 1 98 8 34-2 238 0 28 2 102-8 112 0 14 2 40 12 28 1 85 2 0 24-91-2-22-2-40-13-10-2-36-2-82 2-72 7-24 1-70-2-88 0-76 0-66 2-28-1-72-7-66-2-52 2-10 2-40 13-22 2-91 2 0-24 85-2 28-1 32-10zM183 599l52-1 42 2 90 10 36 0 20-2 218 0 36 2 20-1 84-9 40-2 50 0 24 2 8 2 28 11 16 5 22 1 88 2 2 2 0 20-2 1-56-1-54-2-18-4-14-9-12-4-10-2-38-2-66 2-94 11-30 0-22-1-234 0-32 2-36-3-72-9-56-2-48 2-10 2-12 4-14 9-18 4-110 3-2-1 0-20 2-2 88-2 22-1 16-5 28-11 8-2zM167 645l78-1 36 4 36 7 20 3 46 0 42-4 210 0 38 3 52 0 52-9 36-4 74 0 26 4 4 3 8 11 6 1 20 3 106 2 2 1 0 20-2 1-132-3-3-2-4-12-3-3-16-2-84 0-38 6-36 11-10 2-26-7-44-1-16-1-230 0-18 1-44 1-26 7-10-2-36-11-22-4-18-2-84 0-14 2-3 3-4 12-3 2-132 3-2-1 0-20 2-1 106-2 20-3 8-3 6-10 14-4zM157 691l54-1 44 4 32 8 44 17 2 0 3-2 2-10 7-5 36 2 20-2 128-2 128 2 20 2 36-2 7 5 2 10 3 2 2 0 44-17 32-8 44-4 48 0 20 2 5 7 2 10 3 2 132 3 2 1 0 22-130-3-4 0-3-3-5-14-2-3-64 0-36 2-20 4-28 8-40 14-4-1-3-14-3-2-34 1-44-2-110 0-110 0-44 2-34-1-3 2-3 14-4 1-46-16-30-8-32-4-80 0-3 3-4 14-3 3-132 3-2 0 0-22 2-1 132-3 3-2 2-10 5-7zM142 739l3-1 46-1 40 1 16 2 34 8 50 18 2 0 3-3 0-8 2-4 3-3 36 2 34-2 118-1 118 1 34 2 36-2 3 3 2 4 0 8 3 3 2 0 50-18 34-8 22-2 82 0 3 3 2 10 5 7 134 3 0 22-16 0-116-2-4-2-5-14-5-5-58 0-36 2-22 4-28 8-42 15-2 0-2-4-1-8-2-4-3-1-36 1-50-3-202 0-52 3-36-1-3 1-2 4-1 8-2 4-2 0-48-17-32-8-38-4-68 0-5 5-5 14-4 2-130 3-2-1 0-22 134-3 3-3 4-14zM142 785l5-1 78 0 30 4 24 6 40 14 26 12 28 6 5 3 11 9 6 3 37 8 5 3 8 9 6 4 40 6 6 5 4 13 10 3 28 0 16-1 2-2 5-14 5-4 38-6 6-2 9-10 5-4 38-8 6-3 11-9 5-3 28-6 26-12 40-14 36-8 24-2 76 0 2 3 3 10 5 7 132 3 2 2 0 20-2 0-130-2-5-2-5-16-2-2-4 0-56-1-46 4-18 4-50 16-28 13-28 6-6 3-10 9-6 3-40 8-12 11-8 4-42 6-1 2-2 8-3 2-14 2-24 0-16-2-2-2-1-8-1-2-42-6-8-4-12-11-40-8-6-3-10-9-6-3-28-6-28-13-50-16-18-4-46-4-58 1-5 4-4 14-3 2-132 2-2 0 0-20 2-2 132-3 3-3 4-14zM405 795l228-1 32 2 50-1 3 2-5 4-10 4-16 5-18 7-12 2-28-2-100-1-100 1-28 2-12-2-18-7-16-5-10-4-5-4 3-2 38 1zM144 831l75-1 22 2 22 4 57 19 27 13 30 7 29 16 1 3-5 3-35 5-49 19-317 107-2-1 0-20 2-3 304-104 28-8 6-2 3-3 1-4-2-4-8-4-24-2-20 1-14 10-8 3-266 90-1 0-1-22 2-2 217-74 17-5 30-5 5-2 1-4-4-4-8-4-10-2-24-1-32 5-14 4-17 10-15 6-146 49-2-1 0-22 2-2 79-26 8-4 18-12 27-6 4-6 4-14zM834 831l81 0 3 4 5 16 2 2 27 6 18 12 8 4 79 26 1 2 1 22-2 1-146-49-15-6-17-10-12-4-26-4-26 0-20 4-6 4-2 4 0 2 6 2 30 5 17 5 217 74 2 2-1 22-1 0-266-90-8-3-14-10-20-1-24 2-6 3-3 3-1 4 2 4 8 3 28 8 304 104 2 3 0 20-2 1-317-107-49-19-35-5-5-2 0-2 4-4 24-13 34-8 26-14 56-18 20-4zM448 839l5-1 20 2 108 0 24-2 4 1-6 4-24 5-12 4-8 5-6 7-4 2-14 1-26-1-4-2-7-7-7-5-12-4-24-5zM35 849l18 0 12 1 6 3 1 2-1 2-11 4-59 14-1 0-1-22zM1005 849l30 0 23 4 0 22-57-14-12-4-3-2 1-2 6-3zM431 907l20-2 31 4 3 2-2 4-9 6-39 10-36 14-338 115-60 0-2-1 2-4 408-138zM589 907l26-2 14 2 20 10 408 138 2 4-2 1-60 0-338-115-36-14-39-10-7-4-4-4 0-2 3-2zM514 929l21-1 18 3 8 4 8 11 4 3 34 4 16 3 32 15 40 11 34 13 189 64-9 1-62 0-118-41-32-12-40-11-32-16-48-8-6-4-6-12-4-3-10-2-24 0-30 2-4 3-6 12-6 4-48 8-32 16-40 11-32 12-118 41-68 0-3-1 189-64 33-12 43-12 30-15 16-3 34-4 4-3 6-9 4-4zM513 979l26-1 16 2 6 5 6 13 2 3 36 3 16 3 10 3 22 13 39 10 35 13 40 13-12 1-54-1-46-12-20-13-8-3-50-7-6-5-4-12-4-4-36-1-32 1-4 4-4 12-6 5-50 7-8 3-20 13-46 12-18 1-46 0-2-1 40-13 32-13 44-11 20-11 8-4 16-3 37-3 3-3 4-11 4-4 6-3zM506 1031l27-2 22 2 4 2 3 4 2 6-1 6-4 3-9 1-51-1-4-3 0-10 4-6zM462 1055l21 0 5 4-39 1-17-1 13-3zM582 1055l27 0 17 4-15 1-36-1-5 0 1-2z"/><path fill="#fcdfcf" d="M356 379l243-1 224 3 154 7 52 5 17 4-13 2-58 1-428-2-506 1-29-2 5-2 30-4 42-4 118-5zM393 423l202-1 206 2 256 5 1 4 0 14-1 3-256-4-518 0-282 4-1-1 0-18 1-2 200-4zM240 469l137 1 184-2 122 2 112-1 108 1 48 3 106 3 1 3 0 16-1 4-100-2-52-5-66-2-158 2-302 0-146-2-80 2-52 5-100 2-2-2 1-20 1-1 106-3 50-3zM176 513l95-1 100 4 308 0 108-4 88 0 30 2 44 8 108 2 2 3 0 18-2 3-110-3-42-9-24-2-102 0-92 5-50-1-218 0-38 1-102-5-110 0-16 2-42 9-110 3-2-1 1-22 1-1 108-2 44-8zM163 557l52-1 64 0 96 8 36-2 238 0 28 2 102-8 112 0 14 2 40 12 28 2 84 1 2 2 0 20-2 2-88-2-24-2-40-13-10-2-36-2-82 2-82 8-200-2-114 2-26-1-74-7-66-2-52 2-10 2-40 13-24 2-88 2-2-2 0-20 2-2 84-1 28-2 10-2 22-8zM184 599l51-1 42 2 90 10 36 0 20-2 218 0 36 2 20 0 84-10 42-2 48 0 24 2 8 2 28 12 16 4 22 2 88 1 2 2 0 20-2 1-56-1-54-2-18-4-14-9-12-4-10-2-36-2-68 2-96 11-28 0-20-1-236 0-32 2-36-3-72-9-56-2-48 2-10 2-12 4-14 9-18 4-110 3-2-1 0-20 2-2 88-1 22-2 16-4 28-12 8-2zM168 645l77-1 36 4 36 7 20 3 48 0 6-2 36-2 206 0 40 4 52 0 52-10 36-4 74 0 26 4 4 3 8 11 6 2 20 2 106 2 2 1 0 20-2 1-132-3-3-2-4-12-3-3-16-2-84 0-38 6-36 11-10 1-26-6-44-1-16-1-116-1-116 1-16 1-44 1-26 6-10-1-36-11-22-4-18-2-84 0-14 2-3 3-4 12-3 2-132 3-2-1 0-20 2-1 106-2 20-2 8-4 6-10 14-4zM159 691l52-1 44 4 32 8 44 18 2 0 3-3 2-10 7-5 36 2 20-2 128-2 128 2 20 2 36-2 7 5 2 10 3 3 8-2 38-16 32-8 44-4 48 0 20 2 4 7 3 10 3 3 132 2 1 1 1 20-2 2-132-3-3-3-4-14-3-3-68 0-32 2-20 4-28 8-40 14-4-1-3-14-3-2-34 1-44-2-108 0-112 0-44 2-34-1-3 2-3 14-4 1-46-16-30-8-32-4-80 0-3 3-4 14-5 3-131 3-1-22 2-1 132-2 3-3 2-10 5-7zM142 739l51-2 36 1 18 2 34 8 50 18 2 0 3-3 0-8 2-4 3-3 36 2 34-2 118 0 118 0 34 2 36-2 3 3 1 4 1 8 3 3 2 0 50-18 34-8 22-2 82 0 3 3 2 10 5 7 132 2 2 3-1 20-1 0-130-2-4-2-5-14-5-5-60 0-34 2-22 4-28 8-42 15-2-1-2-3-1-8-3-5-40 1-48-3-102 0-102 0-48 3-40-1-3 5-1 8-2 3-2 1-48-17-32-8-38-4-68 0-5 5-5 14-4 2-130 2-1 0 0-22 133-3 3-3 4-14zM142 785l83-1 30 4 24 6 40 14 26 12 28 6 5 3 15 12 37 8 7 3 8 10 6 4 38 6 6 5 0 8-4 3-8 1-14-1-12-2-8-4-12-10-40-8-6-3-10-8-8-5-27-5-29-13-42-14-40-8-38-2-52 0-5 5-5 14-4 2-130 2-2-2 0-18 2-2 132-3 3-3 5-14zM830 785l85-1 2 3 5 14 3 3 132 3 1 2 0 18-1 2-130-2-5-2-4-14-5-5-52 0-38 2-40 8-42 14-29 13-27 5-8 5-10 8-6 3-40 8-12 10-8 4-12 2-14 1-8-1-4-3 0-8 4-4 8-3 32-4 6-4 8-9 4-3 40-9 15-12 5-3 28-6 26-12 40-14 24-6zM406 795l227-1 32 2 48 0 4 1-4 4-44 16-12 1-128-2-128 2-12-1-44-16-4-4 4-1 36 0zM176 831l37-1 24 2 32 6 50 17 28 15 30 6 19 11 6 6-5 3-32 5-21 10-343 117-1-1 0-20 1-3 305-103 29-8 8-4 2-4-1-4-4-4-5-2-28-2-20 1-4 2-8 7-8 4-266 90-1-2 0-20 1-2 219-74 15-4 36-7 2-3-5-6-17-6-26-1-32 4-16 5-17 10-15 6-144 49-1-3 0-18 1-3 80-27 9-4 19-12 24-6 3-2 5-16 2-4zM143 853l0 3 2-1zM839 831l76 0 2 4 5 16 3 2 24 6 19 12 9 4 80 27 1 3 0 18-1 3-144-49-15-6-17-10-12-4-34-5-22 0-19 5-7 4-2 4 0 2 4 2 32 5 17 5 219 74 1 2 0 20-1 2-266-90-8-4-8-7-4-2-20-1-28 2-5 2-4 4-1 4 2 4 8 4 29 8 305 103 1 3 0 20-1 1-343-117-21-10-36-7-2-1 3-4 21-12 10-3 22-4 30-16 56-18 20-4zM913 853l0 2 2 1 0-3zM449 839l8-1 16 2 136-1-8 4-22 5-12 4-18 12-14 2-16 0-9-1-19-13-12-4-22-5zM14 851l39-2 10 2 5 2 1 2-1 2-11 4-56 14-1-4 0-18zM995 851l24-2 38 3 1 3 0 18-1 2-63-16-5-4 1-2zM520 895l21 0 6 1 2 3-2 3-6 2-22 0-7-1-2-2-1-2 2-3zM432 909l19-2 22 3 4 3 0 2-10 6-32 9-40 15-336 114-56 1-3-1 1-4 285-96 125-41zM590 909l23-2 14 2 20 9 125 41 285 96 1 4-3 1-56-1-336-114-40-15-32-9-8-4-2-4 2-2zM511 931l22-2 18 3 6 3 4 4 1 4 0 4-3 2-10 1-50-1-3-2-1-2 2-6 6-5zM464 953l17-1 6 3 0 4-2 6-3 4-5 2-48 9-30 15-38 11-36 14-116 39-52 1-15-1 223-76 42-12 30-14zM576 953l21 0 22 4 32 14 42 12 223 76-15 1-52-1-116-39-36-14-38-11-30-15-49-9-6-4-3-6 0-6zM512 981l19-2 18 2 9 6 2 8-5 3-8 2-28 0-16-1-5-4 1-6 4-5zM465 1005l12 0 6 4 1 4-1 4-4 3-5 3-47 6-6 3-20 13-48 14-36 1-23-1 37-12 36-14 42-9 28-15 12-3zM587 1005l18 0 16 3 9 5 19 11 42 9 36 14 37 12-13 1-42-1-46-12-11-4-19-13-44-6-10-3-5-6 0-6 5-3zM511 1033l20-2 18 2 7 4 2 4-1 4-4 4-10 1-22 1-14-2-5-2-2-6 3-5zM441 1059l20-2 17 2zM580 1059l17-2 20 2z"/><path fill="#fbccb4" d="M333 381l212-2 210 2 144 6 54 4 22 4-16 2-64 1-776 0-26-1-10-2 7-2 38-4 89-5zM465 423l338 1 254 6 1 15-1 5-212-4-316-1-316 1-212 4-1-9 1-11 230-5zM459 469l224 1 126-1 92 1 48 4 108 2 1 3 0 16-1 4-100-2-52-5-60-2-164 2-302 0-146-2-80 2-52 5-100 2-1-10 1-13 108-2 56-4zM179 513l92-1 100 4 308 0 108-4 88 1 30 2 44 7 108 2 1 3 0 18-1 2-110-2-42-9-22-3-104 1-92 5-50-1-218 0-38 1-102-5-112 0-14 2-42 9-110 2-1 0 0-20 1-3 108-2 44-7zM163 557l116-1 96 8 36-2 238 0 28 2 102-8 112 0 14 2 40 12 28 2 84 1 1 2 0 18-1 3-92-1-28-4-26-9-16-4-34-2-84 2-82 7-202-1-112 2-26-1-74-7-72-2-46 2-10 2-40 13-24 2-88 1-1-1 0-20 1-2 84-1 28-2 10-2 22-8zM186 599l49-1 42 2 88 10 38 0 22-2 216 0 36 2 20 0 84-10 42-2 48 1 24 1 8 2 28 12 16 4 22 2 88 1 1 2 0 18-1 3-110-3-18-4-14-9-12-4-10-2-36-2-70 2-94 11-28 0-20-2-236 0-32 2-36-2-70-9-60-2-46 2-10 2-12 4-14 9-18 4-110 3-1-1 0-20 1-2 88-1 22-2 16-4 28-12 8-2zM168 645l77-1 36 4 36 8 18 2 50 0 6-2 36-2 206 0 40 4 52 0 52-10 36-4 74 0 26 5 4 2 8 11 6 2 20 2 106 2 1 3 0 18-1 1-78-1-54-2-3-2-4-12-3-4-16-2-84 1-38 6-36 11-10 1-8-1-8-4-10-1-44-1-16-2-114 0-118 0-16 2-44 1-10 1-8 4-8 1-10-1-36-11-22-4-18-2-86 0-12 1-3 4-5 12-2 2-132 3-1-1 0-20 1-1 106-2 20-2 8-4 6-10 14-4zM162 691l49-1 44 4 32 9 44 17 2 0 3-3 2-10 7-5 36 2 20-2 128-2 128 2 20 2 36-2 7 5 2 10 3 3 8-2 38-15 32-9 44-4 48 1 20 1 4 7 3 10 3 3 132 2 1 3 0 18-1 2-132-4-3-2-4-14-3-3-68-1-32 3-20 3-28 9-40 14-4-2-3-13-3-2-34 1-42-2-110-1-114 1-42 2-34-1-3 2-3 13-4 2-46-16-30-8-32-4-80 0-3 3-4 14-5 3-130 3-1-2 0-20 133-3 3-3 3-10 4-7zM142 739l53-1 34 0 18 2 34 9 50 17 2 0 3-3 1-8 1-4 5-3 34 2 34-2 118 0 118 0 34 2 34-2 5 3 1 4 1 8 3 3 2 0 50-17 34-9 22-2 82 0 2 3 3 10 5 7 132 2 1 3 0 18-1 2-130-2-4-2-5-14-5-5-62-1-32 3-22 3-28 8-42 16-2-1-2-3-1-8-3-6-38 2-50-3-100-1-104 1-50 3-38-2-3 6-1 8-2 3-2 1-48-18-32-8-38-3-68 0-2 1-5 8-3 10-4 2-130 2-1-2 0-18 1-3 132-2 3-3 5-14zM143 785l82-1 18 2 28 6 48 17 30 12 24 5 20 16 36 7 7 4 11 13 39 7 5 4 1 4-2 4-7 2-12 0-12-2-9-4-11-10-42-8-8-4-10-9-6-2-26-5-30-14-42-14-40-8-34-1-56 0-5 5-5 14-4 2-130 2-1-2 0-18 1-1 132-4 3-3 5-14zM831 785l84-1 2 3 5 14 3 3 132 4 1 1 0 18-1 2-130-2-4-2-5-14-5-5-56 0-34 1-40 8-42 14-30 14-26 5-6 2-10 9-8 4-42 8-11 10-9 4-22 2-6-1-5-3 0-6 5-4 40-7 14-15 13-4 27-5 20-16 24-5 30-12 40-15 24-6zM406 795l227-1 26 2 58 1-4 4-44 16-12 1-128-2-128 2-12-1-44-16-4-4 58-1zM198 831l41 2 36 8 47 16 23 13 30 7 18 10 4 4 0 2-6 2-26 5-24 11-340 116-1-18 2-4 307-104 28-8 8-4 2-4-1-4-3-5-4-2-30-2-24 1-4 1-8 9-8 4-264 89-1-11 1-11 221-75 15-4 32-4 6-2 1-2-2-4-5-5-10-4-10-2-26 0-32 4-16 4-17 11-15 6-142 48-1-10 1-12 82-28 29-16 21-5 3-3 5-16 2-3zM143 851l-1 4 1 4 4-2 2-2-2-3zM852 831l63 1 2 3 5 16 3 3 21 5 29 16 82 28 1 12-1 10-142-48-15-6-17-11-16-4-32-4-26 0-10 2-10 4-5 5-2 4 1 2 6 2 32 4 15 4 221 75 1 11-1 11-264-89-8-4-8-9-4-1-24-1-30 2-4 2-3 5-1 4 2 4 8 4 28 8 307 104 2 4-1 18-340-116-24-11-26-5-6-2-1-2 5-4 18-10 30-7 22-13 62-20 21-4zM911 852l-2 3 1 2 5 2 1-4-1-4zM451 839l44 1 84 0 28-1-7 4-15 3-18 6-20 12-12 1-16 0-8-1-20-12-18-6-15-3zM18 851l37-1 10 3 1 2-1 2-10 4-54 13-1-11 1-10zM998 851l25-1 34 3 1 4 0 16-1 1-60-15-6-4 2-2zM434 911l13-2 17 2 4 2 1 2-4 4-30 9-44 17-334 114-46 1-11-1 1-3 287-97 127-41zM594 911l17-2 14 2 18 7 126 41 288 97 1 3-25 1-34-1-258-88-118-43-30-9-5-4 1-2zM522 931l13-1 12 3 8 4 3 6-5 4-8 1-26 0-14-1-5-4 3-6 8-4zM458 955l15-1 7 3 2 2 0 4-3 4-4 2-10 3-38 6-31 17-39 11-32 13-117 40-33 1-30-1 190-64 28-10 48-13 27-13zM584 955l16 0 19 3 28 14 48 13 28 10 190 64-30 1-33-1-117-40-32-13-39-11-31-17-46-8-6-3-3-6 2-4zM514 983l15-2 15 2 8 4 2 6-5 3-8 2-18 0-13-1-5-3-1-5 4-4zM445 1009l14-2 12 1 5 3 1 4-4 4-10 3-36 2-3-1 4-6 7-5zM584 1009l15-2 18 3 11 5 6 8-3 1-30-1-12-2-5-2-3-4 0-4zM387 1031l20-2 5 2-2 4-6 6-14 6-43 12-49 0 37-12 34-12zM646 1031l3-2 6 0 26 4 42 14 37 12-50 0-48-14-10-6zM517 1035l12-1 12 1 8 3 2 5-4 3-8 2-14 1-10-2-7-2-1-4 4-4z"/><path fill="#f6b394" d="M488 381l123 0 130 2 94 4 54 4 11 2-8 2-89 1-637-1-8-2 11-2 54-4 112-4zM271 425l296-2 337 4 153 4 1 12-1 6-186-4-342-1-342 1-186 4 0-18zM155 471l372-2 372 2 46 3 112 3 1 16-1 5-97-1-29-2-26-4-54-1-168 1-304 0-154-2-72 2-26 4-29 2-97 1-1-9 1-12 112-3zM184 513l87 0 108 3 308 0 100-3 87 0 31 2 42 7 110 2 1 19-1 4-108-2-14-2-30-8-24-2-104 1-90 5-48-2-222 1-36 1-100-5-112-1-16 2-42 10-110 2-1-10 1-13 110-2 42-7zM164 557l113-1 98 8 38-2 234 0 30 2 102-8 112 0 14 3 40 11 28 2 84 1 1 4 0 16-1 3-88-1-22-2-16-4-26-10-10-2-34-1-84 2-82 7-84-1-120-1-110 3-26-1-74-7-72-3-46 2-10 2-26 10-16 4-22 2-88 1-1-1 0-20 1-2 84-1 28-2 18-4 14-5zM188 599l47 0 42 1 88 10 38 0 22-2 216 0 36 2 20 0 84-10 42-1 46 0 26 2 8 1 28 12 14 4 24 2 88 2 1 3 0 16-1 2-110-2-18-4-14-10-12-4-10-2-34-1-72 2-94 11-28 0-18-2-240 0-30 2-36-2-70-9-60-2-46 1-10 2-12 4-14 10-18 4-110 2-1 0 0-20 1-1 88-2 24-2 14-4 28-12 8-1zM169 645l74 0 38 3 36 8 18 2 50 0 6-1 36-3 206 0 40 4 52 0 52-10 38-3 72-1 26 5 4 2 8 11 6 2 18 2 108 2 1 3 0 16-1 3-132-3-2-2-5-12-3-4-12-2-86 0-18 2-30 6-28 10-10 1-8-1-8-4-10-2-42 0-18-2-116 0-116 0-18 2-42 0-10 2-8 4-8 1-10-1-28-10-30-6-18-2-86 0-12 2-3 4-5 12-2 2-132 3-1-1 0-20 109-3 18-2 8-4 6-9 14-5zM165 691l46 0 44 4 32 8 46 17 3-3 3-10 6-4 38 1 18-2 126-1 130 1 18 2 38-1 6 4 3 10 3 3 2 0 44-17 32-8 44-4 46 0 22 1 4 7 3 10 3 3 132 2 1 3 0 16-1 4-132-4-3-2-4-14-3-4-72 0-28 2-20 4-22 6-46 17-4-2-3-13-3-2-34 1-42-3-220 0-24 2-56 0-3 2-3 13-4 2-52-18-36-9-22-2-78 0-3 4-3 10-4 6-16 2-116 2-1-2 0-10 1-11 132-2 3-3 3-10 4-7zM143 739l78-1 26 3 40 10 44 15 2 0 3-3 1-8 1-4 5-3 34 2 34-2 118 0 118 0 34 2 34-2 4 3 2 4 1 8 3 3 2 0 44-15 40-10 22-3 80 0 4 3 3 10 5 7 132 3 1 2 0 16-1 4-130-2-4-3-5-13-5-6-64 0-30 2-22 4-28 8-42 15-2 0-2-4-1-7-3-6-38 2-50-4-102 0-102 0-50 4-38-2-3 6-1 7-2 4-2 0-48-17-30-7-38-5-58 0-14 1-5 9-3 9-4 3-130 2-1-12 1-10 132-3 3-3 5-14zM143 785l82 0 18 2 28 5 42 15 36 15 23 5 7 4 10 9 4 2 34 7 5 2 7 7 2 9-21 0-22-4-23-15-26-5-30-13-42-14-26-7-16-2-32-2-58 1-5 5-5 14-4 2-130 2-1-12 1-9 132-4 3-3 5-14zM833 785l82 0 2 2 4 14 4 3 132 4 1 9-1 12-130-2-4-2-5-14-5-5-58-1-32 2-16 2-26 7-42 14-30 13-26 5-23 15-22 4-21 0 2-9 7-7 5-2 28-5 8-3 12-10 7-4 23-5 36-15 42-15 28-5zM407 795l226-1 26 2 58 1-4 4-45 16-9 1-136-2-122 2-11-1-45-16-4-4 58-1zM143 833l66-2 27 2 13 2 24 6 47 16 11 6 6 6-2 2-50-1-4-1-6-8-8-5-18-5-30 0-30 4-18 5-13 9-13 6-144 49 0-20 78-26 14-6 17-11 23-7 5-7 3-12zM143 849l-3 6 1 4 4 1 7-3 0-4-5-4zM822 833l33-2 60 1 2 3 3 12 5 7 23 7 17 11 14 6 78 26 0 20-144-49-13-6-13-9-28-6-24-3-26 0-18 5-8 5-6 8-4 1-51 1-1-2 6-6 16-8 49-16zM909 851l-3 2 0 4 7 3 4-1 0-4-2-6zM453 839l42 1 88 0 22-1-1 2-33 8-26 14-10 1-22-1-26-14-33-8zM23 851l31 0 7 2 2 2-2 2-10 4-50 12-1-10 1-9zM1004 851l31 0 22 3 0 19-56-14-6-4 2-2zM448 871l20 0 12 2 7 4 0 4-2 2-6 2-11 0-9-2-9-6zM590 871l20 0 0 4-7 6-8 3-10 1-10-1-4-3 0-4 2-2zM258 873l14 0 4 2-3 6-6 4-266 90-1-14 2-6 223-76 16-4zM786 873l30 2 17 4 223 76 2 6-1 14-261-88-8-4-5-4-1-4zM352 875l11 0 12 4 14 8 3 4-2 2-29 6-19 10-38 14-303 103 0-20 305-103 35-9 8-5 1-4-1-8zM698 875l8 0 3 2-1 8 1 4 8 5 35 9 305 103 0 20-303-103-38-14-19-10-29-6-2-2 1-2 8-6 13-6zM440 913l15 0 3 2 0 2-4 2-21 6-42 18-72 26-263 90-55 0 2-2 283-96 80-26zM604 913l17 0 96 30 338 114 2 2-55 0-194-66-141-50-42-18-22-6-3-2 0-2zM522 933l14 0 9 2 4 2 2 4-4 4-8 1-16 0-13-1-3-2 0-4 6-4zM446 959l21-2 6 2 2 4-4 4-12 3-32 3-1-2 6-6zM585 959l10-2 17 2 11 4 9 8-1 2-12 0-28-4-7-4-1-4zM395 979l12-1 5 1-6 8-11 6-36 10-38 16-116 40-57 0 142-48 47-15 31-11zM646 979l5-1 11 1 28 6 31 11 47 15 142 48-57 0-116-40-38-16-36-10-11-6zM521 985l16 0 6 2 2 4-2 2-6 2-18-1-5-1-1-2 0-2zM445 1013l14-2 6 2 1 2-7 4-14 1-6-1 0-2zM593 1013l6-2 14 2 6 4-1 2-3 0-14 0-7-2-2-2zM380 1035l11-2 6 2 1 2-1 2-11 6-29 7-16 7-36 0 34-10 26-10zM660 1035l11-1 16 3 32 12 34 10-36 0-12-6-38-10-6-4-1-2zM525 1039l8 0 4 2-2 2-10 0-3 0-1-2z"/><path fill="#ef9979" d="M443 385l178 0 79 2 39 2 13 2-38 2-69 0-301 0-38-2 13-2zM360 425l338 0 225 4 134 5 0 9 0 4-528-4-528 4 0-13 134-5zM168 471l361-1 361 1 51 3 116 3 1 14-1 6-96-1-27-1-27-4-48-2-78 0-98 2-304 0-170-2-58 2-27 4-29 1-94 1 0-20 116-3zM198 513l69 0 112 4 308 0 104-4 72 0 40 2 44 7 110 3 1 18-1 4-108-2-14-2-28-7-24-3-106 0-90 6-48-2-222 0-36 2-100-6-112 0-16 2-42 10-110 2-1-10 1-12 110-3 44-7zM165 557l112 0 98 7 38-2 234 0 30 2 104-7 110 0 14 2 40 11 26 2 86 2 1 19-1 3-86-1-24-2-10-2-26-10-14-3-34-3-42 0-44 2-82 8-84-2-122 0-108 2-26 0-74-8-72-2-48 3-14 3-26 10-10 2-25 2-85 1-1-11 1-11 86-2 26-2 18-4 14-5zM195 599l39 0 43 2 84 9 20 0 38-2 214 0 20 2 40 0 88-9 43-2 41 0 28 1 10 3 28 11 14 4 22 2 90 2 1 19-1 2-110-2-22-6-10-8-12-4-10-2-32-1-74 1-94 12-28 0-16-2-242 0-30 2-36-2-70-10-60-2-46 2-10 2-12 4-10 8-22 6-110 2-1-10 1-11 90-2 22-2 14-4 28-11 10-3zM170 645l67-1 30 3 26 4 24 5 18 2 50 0 6-1 36-2 206 0 40 3 54 0 50-9 38-4 70 0 18 2 14 4 6 9 8 4 18 2 108 2 1 19-1 2-83 0-49-2-2-2-5-12-3-4-16-2-84 0-38 6-37 12-9 1-8-1-8-4-10-2-42 0-16-2-118 0-118 0-16 2-42 0-10 2-8 4-8 1-9-1-29-10-28-6-18-2-88 0-12 2-3 4-5 12-2 2-49 2-83 0-1-10 1-11 108-2 18-2 8-4 6-9 14-4zM175 691l30 0 50 4 31 8 47 17 3-3 3-10 7-4 37 1 20-2 126-1 126 1 20 2 37-1 7 4 3 10 3 3 2 0 45-17 31-8 14-2 37-2 35 0 26 1 4 7 3 10 3 3 132 2 1 19-1 4-130-4-5-2-4-14-3-4-72 0-28 2-22 5-66 21-4-2-1-6-3-8-58 0-22-2-108 0-112 0-22 2-58 0-3 8-1 6-4 2-52-18-36-8-22-2-78 0-3 4-3 10-4 6-22 2-82 0-28 2-1-12 1-11 132-2 3-3 3-10 4-7zM143 739l80-1 23 3 34 8 53 18 3-4 1-8 2-4 4-2 10 1 24 0 34-2 122 0 114 0 34 2 24 0 10-1 4 2 2 4 1 8 3 4 6-1 18-7 36-12 27-6 21-3 80 0 4 3 3 10 5 7 132 3 1 18-1 4-128-2-6-3-6-15-4-4-64 0-30 2-24 4-20 6-48 17-2-1-2-4-1-6-3-6-38 2-50-4-100 0-104 0-50 4-38-2-4 6 0 6-2 4-2 1-54-19-24-6-38-4-72 1-5 9-3 9-4 2-130 3-1-12 1-10 132-3 3-3 5-14zM144 785l75 0 22 2 29 6 47 16 26 11 27 7 8 4 9 9 6 4 35 7 6 4 2 6-3 3-6 1-24-2-9-4-15-12-34-6-26-12-42-14-26-6-34-4-74 1-4 5-4 13-4 2-130 2 0-20 130-3 6-4 4-14zM839 785l75 0 3 2 4 14 6 4 130 3 0 20-130-2-4-2-4-13-4-5-74-1-34 4-26 6-42 14-26 12-34 6-15 12-9 4-24 2-6-1-3-3 2-6 6-4 35-7 6-4 9-9 7-4 28-7 26-11 46-16 30-6zM409 795l224-1 26 2 57 1-4 4-9 4-36 12-8 0-136-2-122 2-10 0-36-12-10-4-3-4 59-1zM176 833l50 0 28 4 62 20 10 6 2 4-1 1-14 1-22-2-6-2-14-10-16-4-26-1-60 5-6-1-12-6-8-2-3 5 0 10 1 3 10 1 1 2-5 4-146 51 0-16 90-31 12-5 13-9 17-6 5-6 3-13 2-2zM832 833l83 1 2 2 3 13 5 6 17 6 13 9 12 5 90 31 0 16-146-51-5-4 1-2 10-1 1-3 0-10-3-5-8 2-12 6-6 1-60-5-26 1-16 4-14 10-6 2-16 2-18 0-4-2 2-4 16-8 49-16 18-4zM458 841l3-1 136 0 3 1-29 8-26 11-14 2-18-2-26-11zM14 853l27-2 11 2 3 2-1 2-9 4-44 10 0-17zM1006 853l19-2 32 3 0 17-49-12-5-4zM240 877l17-2 10 1 1 3-1 2-7 4-259 88 0-16 224-76zM462 877l5-2 7 2-1 2-4 0zM584 877l7-2 5 2-7 2-4 0zM791 877l12-2 23 4 230 78 1 2 0 14-254-86-12-6-1-2zM362 881l11 2 5 4 1 2-2 2-6 1-10-1-3-2 1-6zM692 881l4 0 3 2 1 4-2 4-9 1-8-1-2-2 3-4zM335 899l7 0 3 2-4 4-28 12-90 32-222 75 0-16 258-87 56-18zM716 899l19 2 14 4 308 103 0 16-306-105-34-14-4-4zM378 937l7 0-9 6-65 26-261 90-47 0 278-94 66-20zM673 937l6 0 18 4 67 20 291 98-47 0-261-90-60-24zM374 989l9-1 1 1-3 2-13 4-7 0-2 0zM674 989l10 0 15 6-2 0-7 0-13-4zM332 1003l9-2 2 2-23 12-123 44-41 0 138-46zM715 1003l2-2 9 2 32 8 144 48-41 0-118-42-14-6z"/><path fill="#e17860" d="M334 427l249-1 249 3 153 6 44 4 3 2-26 2-57 1-888-1-35-2 3-2 44-4 85-4zM210 471l639 0 61 2 43 3 104 3 0 12 0 6-114-2-32-4-40-2-98 0-88 2-306 0-94-2-122 1-48 5-114 2 0-18 102-3 44-3zM158 515l83-2 128 4 310 0 128-4 92 2 46 7 112 4 1 15-1 6-106-2-15-2-29-8-26-2-104 0-92 6-44-2-226 0-34 2-100-6-114 0-16 2-29 8-15 2-106 2 0-21 112-4zM167 557l109 0 97 7 40-1 234 0 30 1 104-7 108 0 15 2 41 11 22 2 90 2 1 17-1 4-72 0-38-2-16-4-20-8-14-4-32-2-46 0-42 2-82 8-82-2-128 0-104 2-25 0-75-8-80-2-40 2-14 4-20 8-16 4-38 2-72 0 0-21 90-2 22-2 18-4 15-5zM164 601l53-2 58 2 90 9 40 0 20-1 214 0 14 1 44 0 86-9 50-2 60 2 10 2 28 11 14 4 22 2 90 2 1 17-1 4-108-2-12-2-12-4-10-8-12-4-10-2-32-2-74 2-94 12-28 0-14-2-126-1-120 1-28 2-35-2-71-10-62-2-46 2-20 6-10 8-24 6-108 2-1-10 1-11 90-2 22-2 14-4 22-9zM173 645l64 0 29 2 67 11 52 0 8-1 40-2 122 0 70 0 40 2 8 1 54 0 50-9 41-4 67 0 17 2 14 4 9 11 6 2 18 2 108 2 1 19-1 2-132-2-2-2-5-12-3-4-12-2-32-1-56 1-18 2-28 6-30 10-8 0-7 0-9-4-10-2-42 0-16-2-116 0-120 0-16 2-42 0-10 2-9 4-7 0-8 0-30-10-28-6-18-2-48-1-40 1-12 2-4 4-4 12-3 2-131 2-1-10 1-11 108-2 18-2 6-2 9-11 14-4zM143 693l56-2 40 2 14 2 32 8 48 17 4-3 2-10 2-2 6-2 34 1 22-2 128-1 124 1 22 2 34-1 6 2 2 2 2 10 4 3 48-17 32-8 14-2 40-2 54 1 4 3 4 14 4 3 132 3 1 18-1 3-130-3-4-2-5-14-3-4-74 0-28 2-20 4-66 22-4-2 0-6-4-8-58 0-22-2-108 0-112 0-22 2-58 0-4 8 0 6-4 2-4 0-48-18-34-8-22-2-80 0-3 4-3 10-4 6-132 3-1-11 1-10 132-3 3-3 3-10zM143 739l80 0 21 2 35 8 48 17 6 1 4-4 0-8 2-4 4-2 36 1 32-2 118 0 118 0 32 2 36-1 4 2 2 4 0 8 4 4 6-1 48-17 35-8 21-2 78-1 4 3 2 10 6 7 132 3 1 18-1 3-130-2-4-3-3-8-5-10-68 0-30 2-22 4-68 22-2 0-2-5-1-7-3-4-36 2-50-4-104 0-104 0-50 4-36-2-3 4-1 7-2 5-2 0-60-20-30-6-26-2-72 0-6 10-2 8-4 3-130 2 0-21 132-3 4-3 4-14zM169 785l34 0 34 2 31 6 37 12 40 17 27 7 7 6 3 8-11 1-22-3-26-12-50-16-28-6-26-2-76 0-3 4-5 14-4 2-130 2 0-18 130-3 5-3 3-6 0-4 4-7zM856 785l57 0 4 3 5 15 5 3 130 3 0 18-130-2-4-2-5-14-3-4-76 0-24 2-22 4-54 17-30 13-10 2-20 1-3-1 1-4 4-6 5-4 27-7 20-9 37-14 37-10zM414 795l219-1 48 3 34 0 0 2-8 4-42 14-166-2-98 2-16-2-39-14-3-4 58-1zM183 835l34-1 27 3 16 4 23 9 23 7 8 4 1 2-2 2-12-1-7-1-17-11-22-4-24 0-44 3-12-1-31-11zM829 835l44 0 40 3-25 11-15 2-46-3-24 0-22 4-18 11-6 1-12 1-3-2 2-2 8-4 23-7 23-9zM470 843l5-2 54 0 54 0 5 2-43 15-16 3-16-3zM390 849l3-2 6 0 22 4 7 4 1 4-3 2-5 1-15-1-9-4-5-4zM645 849l18-2 5 2-4 6-6 4-17 3-9-1-3-4 3-4zM16 855l19-1 5 3-7 4-32 7 0-11zM1021 855l18-1 18 3 0 11-32-7-7-4zM135 857l2-2 0 8-2 8-16 4-6 0 8-10zM921 857l0-2 4 3 10 5 4 4 6 8-6 0-16-4-2-4zM237 883l8-2 2 2-246 84 0-3 2-1zM811 883l4-1 12 3 230 79 0 3zM78 887l6 0-83 28 0-3 5-1zM974 887l5-1 73 25 5 1 0 3zM225 939l6-1 1 1-231 78 0-3zM826 939l1-1 6 1 218 74 6 1 0 3zM229 989l5 0-21 8-182 62-9 0zM824 989l5 0 207 70-9 0z"/><path fill="#d35a4a" d="M427 429l158-1 132 2 92 3 34 2 12 2-26 2-148 2-304 0-140-2-34-2 12-2 34-2zM184 473l345-2 345 2 77 5 106 4 0 9 0 3-110-1-44-4-42-1-66 0-114 3-152-1-150 1-156-3-66 1-54 5-102 0 0-12 106-4zM167 515l88-1 124 4 148-2 154 2 122-4 88 1 62 9 104 3 0 14 0 5-93-1-24-2-45-10-44-1-78 1-94 5-36-1-116 0-112 0-34 1-96-5-68-1-52 1-16 2-31 8-19 1-98 2 0-19 104-3zM173 557l96 0 112 8 31-2 231 0 44 1 102-7 96 0 16 2 32 9 22 4 102 3 0 16 0 4-107-2-18-4-19-8-16-4-28-2-52 0-42 2-80 8-45 0-33-2-138 0-119 2-77-8-40-2-44 0-38 2-16 4-19 8-18 4-107 2 0-20 102-3 22-4 31-9zM167 601l50-1 54 1 92 9 42 0 22-1 205 0 45 2 20-1 90-9 54-1 50 1 17 4 23 9 14 4 20 2 92 2 1 17-1 4-104-2-22-4-6-3-10-7-20-6-30-2-78 2-95 12-73-3-182 0-60 3-32-2-74-10-66-2-42 2-20 6-10 7-6 3-22 4-104 2 0-21 92-2 20-2 14-4 23-9zM180 645l51 0 32 2 68 11 56 0 9-1 39-2 186 0 41 2 11 1 52 0 70-11 32-2 50 0 23 2 16 4 7 10 8 3 18 2 108 3 1 16-1 4-130-2-4-3-4-11-4-4-10-2-44-1-46 1-18 2-20 4-32 10-12 2-7 0-19-6-43 0-15-2-128 0-112 0-15 2-43 0-19 6-5 0-6 0-32-10-28-6-18-2-50-1-40 1-10 2-4 4-4 11-4 3-130 2 0-20 108-3 18-2 8-3 7-10 16-4zM143 693l60-1 31 1 17 2 33 8 49 18 3-2 3-12 2-2 6-2 36 1 22-1 124-1 124 1 22 1 36-1 6 2 2 2 3 12 3 2 49-18 33-8 17-2 31-1 58 1 4 2 4 14 4 3 132 3 1 16-1 5-132-3-4-6-3-10-3-4-52-1-32 1-30 4-22 6-52 18-2 0-2-3-2-11-4-3-36 1-38-2-114 0-114 0-38 2-36-1-4 3-2 11-2 3-2 0-52-18-22-6-30-4-50-1-34 1-4 4-2 10-4 6-132 3 0-21 132-3 4-3 4-14zM147 739l67 0 39 4 30 8 50 17 2 0 4-17 4-1 36 1 32-2 118-1 118 1 32 2 36-1 4 1 4 17 2 0 49-17 31-8 39-4 67 0 6 2 2 10 6 8 132 3 0 15 0 4-130-2-4-2-5-14-3-4-50-1-34 1-28 4-24 6-52 18-2-2-3-12-3-3-36 2-50-3-102 0-106 0-50 3-36-2-3 3-3 12-2 2-52-18-24-6-32-4-48-1-32 1-3 4-5 14-4 2-130 2 0-19 132-3 4-4 4-14zM143 787l74-1 38 5 23 6 23 8 42 18 24 6 6 4 1 4-1 2-4 1-16-1-28-12-54-16-30-5-30-3-68 0-4 6-4 13-4 2-130 1 0-15 132-4 3-3 5-14zM832 787l83 0 2 2 5 14 3 3 132 4 0 15-130-1-4-2-5-13-3-6-72 0-26 3-22 3-62 18-26 12-18 1-5-1 0-2 1-4 6-4 28-7 23-11 44-16 28-6zM425 795l208 0 48 3 32-1 0 2-18 8-25 8-10 2-41-2-186 0-32 2-13-2-31-10-12-6 0-2 32 1zM209 839l19 2-5 2-24 0-4 0 0-2zM843 839l20 2 0 2-12 1-17-1-4-2zM483 843l84-1 8 1 1 2-27 10-20 4-14-2-13-4-20-8z"/><path fill="#c2383a" d="M469 473l370 2 55 2 94 8 11 2-9 2-33 1-82-4-192 3-304 0-198-3-64 3-28 1-30-3 11-2 97-8 90-3zM212 515l58 0 109 3 148-1 154 1 107-3 85 0 26 2 40 7 16 1 102 4 0 12 0 3-108-1-46-10-34-2-72 1-116 6-154-2-146 2-116-6-56-1-52 2-48 10-108 1 0-15 100-4 18-1 40-7zM200 557l57 0 122 8 58-2 178 0 72 2 116-8 70 0 24 2 40 11 14 2 106 4 0 15 0 3-98-1-24-4-34-12-28-2-76 0-106 10-66-2-196 0-62 2-106-10-66 0-36 2-36 12-22 3-100 2 0-18 106-4 14-2 40-11zM173 601l89 0 97 9 22 1 56-2 92 0 92 0 58 2 20-1 97-9 89 0 21 4 29 11 18 4 104 3 0 16 0 3-91-1-24-2-15-4-10-8-12-4-10-2-26-2-44 0-40 2-77 10-25 2-58-3-194 0-54 3-27-2-77-10-70-2-42 2-20 6-11 8-14 4-24 2-91 1 0-19 104-3 18-4 29-11zM162 647l45-2 50 2 30 4 40 7 18 1 42 0 15-2 131-2 94 1 78 3 26-1 40-7 30-4 40-2 55 2 19 4 10 12 14 3 118 4 0 15 0 4-130-3-4-3-6-13-4-2-24-2-58 0-36 3-20 4-42 11-26-5-36 0-16-2-128-1-124 1-16 2-36 0-24 5-11-1-25-8-28-6-36-3-36-1-46 3-4 2-6 13-4 3-130 3 0-19 120-4 12-3 10-12zM152 693l71 0 22 2 22 4 26 8 42 16 1 2-1 10-2 4-4 1-46-17-32-8-32-3-36-1-40 1-4 5-2 9-4 7-132 2 0-19 132-3 4-4 5-14 3-2zM835 693l78 0 4 3 4 13 4 4 132 3 0 19-132-2-4-7-2-9-4-5-58-1-36 2-24 4-22 6-48 17-2-1-2-4-1-10 1-2 60-22 29-6zM408 703l169-1 73 1 21 2 44 0 4 3 2 13 0 2-24 2-33 0-19-2-230 0-21 2-38 0-19-2 0-6 2-9 4-3 48-1zM143 741l70-1 16 1 28 4 29 8 48 18 0 8-1 4-2 2-3 0-51-18-38-8-30-2-66 1-4 5-4 13-4 3-130 1 0-17 130-3 5-3 5-15zM828 741l39-1 48 1 2 1 5 15 5 3 130 3 0 17-130-1-4-3-5-13-3-5-56-1-38 2-24 4-70 22-2-2-2-10 1-2 61-22 27-6zM417 749l218 0 46 2 34-1 4 2 2 15-1 2-7 1-28 1-62-2-196 0-48 2-29 0-11-2-2-2 2-15 2-2 36 1zM145 789l62-1 36 3 20 4 20 6 29 12 9 6-4 1-7-1-43-11-34-6-86-2-4 1-2 2-6 16-4 2-130-2 0-5 132-6 3-3 5-14zM833 789l80 0 4 2 5 14 3 3 132 6 0 5-130 2-4-2-6-16-2-2-6-1-64 1-30 2-24 5-43 11-9 1-2-1 2-2 7-4 35-14 22-6zM399 797l50-2 160 0 70 3 26 0 5 1-7 4-29 10-15 2-256 1-19-3-24-8-12-6 5-1 26 0zM495 845l58-1 10 1 0 2-15 6-19 3-25-5-9-4z"/><path fill="#b3192c" d="M464 477l145 0 101 2 36 2-15 2-52 2-302 0-50-2-15-2 36-2zM218 517l59 0 100 3 152-2 154 2 98-3 78 0 36 2 56 9 106 6 0 6-102 1-19-2-33-8-28-1-76 0-120 6-152-1-146 1-118-6-60-1-46 2-36 8-18 2-102-1 0-6 106-6 56-9zM176 559l95 0 106 7 54-2 100 0 96 0 52 2 108-7 94 0 19 2 33 9 18 4 106 4 0 11 0 3-103-1-21-4-34-11-28-2-86 1-106 9-56-2-96 0-92 0-54 2-106-9-72-1-42 2-16 4-20 7-21 4-103 1 0-14 106-4 18-4 33-9zM165 603l38-2 48 0 126 11 54-2 198 0 48 2 104-9 44-2 48 0 29 4 29 11 16 4 20 2 90 3 0 12 0 4-105-2-21-4-6-3-10-6-14-5-12-2-20-1-74 1-96 12-16 0-52-2-106 0-98 0-48 2-20 0-94-11-62-2-32 1-14 2-14 5-10 6-6 3-21 4-105 2 0-16 90-3 20-2 16-4 22-9zM173 647l72 0 36 4 48 8 20 1 26 0 40-3 108-1 119 1 41 3 34 0 22-2 38-7 34-4 73 0 18 2 15 4 6 10 8 3 24 2 102 3 0 14 0 2-130-2-4-3-5-11-3-4-36-3-50 1-28 2-24 5-44 11-30-5-24 0-50-3-100 0-100 0-50 3-24 0-28 5-68-15-26-3-42-1-30 1-18 2-3 4-5 11-4 3-130 2 0-16 102-3 24-2 8-3 6-10 15-4zM144 695l75-1 41 5 29 8 40 16 5 4 0 6-1 4-4 1-48-17-34-8-34-3-46-1-24 1-3 5-5 14-4 3-130 1 0-15 132-4 3-3 5-14zM826 695l37-1 51 1 3 2 5 14 5 3 130 4 0 15-130-1-4-3-5-14-3-5-52 0-38 1-26 4-22 6-50 17-2-1-2-8 2-4 57-22 27-6zM434 703l190 0 55 3 32-1 6 2 2 4 1 6-1 4-4 2-30 2-56-3-198 0-62 2-26-1-4-2 0-10 2-4 4-2 34 1zM144 743l73-1 40 5 29 8 42 16 3 2 1 6-1 2-4 0-48-15-36-8-28-3-50-1-22 1-3 6-5 14-4 2-130 1 0-13 132-4 3-4 5-12zM830 743l84 0 3 2 6 14 4 2 130 4 0 13-130-1-4-2-5-14-3-6-40-1-40 2-30 3-26 7-50 15-2 0-1-2 1-7 23-9 42-14zM345 751l32 1 52-3 100 0 100 0 52 3 32-1 4 1 2 3 1 8-1 4-3 2-25 2-64-3-98 0-98 0-64 3-24-2-4-2 0-12 2-3zM422 797l211 0 64 2 5 2-8 4-18 6-19 3-254 0-21-3-18-6-8-4 5-2z"/><path fill="#991027" d="M229 521l52-1 96 2 82-1 124 0 100 1 112-2 66 3-3 2-75 3-102 6-208-1-92 1-106-6-75-3-3-2zM183 561l88 0 108 6 54-1 96-1 96 1 56 1 106-6 87 0 33 4 40 11 110 7 0 4-68 1-36 0-18-3-34-11-26-2-88 1-108 10-48-2-108 0-96 0-46 2-108-10-76-1-38 2-36 11-18 3-104-1 0-4 108-7 14-2 28-9zM194 603l65 0 120 10 54-2 96 0 96 0 56 2 120-10 70 0 22 2 10 2 32 12 18 4 104 5 0 9-20 1-86-1-20-4-16-9-12-4-26-3-80 1-114 12-56-2-198 0-50 2-25-1-77-10-30-2-74 0-16 2-14 5-17 9-21 4-104 1 0-10 104-5 18-4 32-12 14-3zM170 649l78 0 21 2 52 9 20 2 84-4 210 0 78 4 24-2 38-7 35-4 71-1 22 3 14 4 6 10 8 3 22 2 104 4 0 10-130-1-4-3-5-11-3-3-18-3-28 0-40 0-28 3-24 4-34 9-10 1-28-4-30 1-50-3-96 0-96 0-50 3-30-1-28 4-10-1-36-10-24-4-32-2-50 0-30 3-3 3-5 11-4 3-130 1 0-10 104-4 26-3 4-2 6-10 2-2zM166 697l58 0 33 4 29 8 40 16 5 3 1 5-3 2-50-17-36-8-32-3-68 0-2 2-6 18-4 3-130 1 0-11 132-4 3-3 5-13 2-2zM834 697l79 1 4 2 5 13 3 3 132 4 0 11-130-1-4-3-5-16-3-4-34 0-44 1-32 3-26 7-50 17-2-1-1-3 2-4 38-16 34-10zM410 705l195-1 72 3 32-1 7 3 2 6-1 4-2 2-26 2-54-2-210 0-58 2-25-2-2-2 0-6 2-4 3-2 38 0zM422 751l205 0 56 2 28-1 6 2 1 7 0 4-3 2-28 2-52-2-208 0-60 2-25-2-2-2-1-4 2-6 2-2 36 0zM139 755l-2 12-2 5-4 2-102-1-21-2 48-4 75-3 4-2zM918 755l1-2 3 8 5 3 75 3 48 4-21 2-102 1-4-2zM428 799l202 0 57 4-1 2-11 4-16 2-258 0-18-2-11-4-1-2z"/><path fill="#7f0823" d="M233 565l37 0 107 5 52-2 198 0 58 2 116-5 23 0 7 2-52 3-100 10-56-2-166 0-74 2-22-1-82-9-53-3zM176 607l47-2 36 1 116 10 58-3 98 0 94 0 54 3 112-10 72 0 33 3 14 4 31 12 38 6-18 1-22-1-13-4-9-6-10-3-16-4-14-1-88 3-106 12-56-2-200 0-48 2-22-1-88-11-82-3-28 3-14 4-19 9-13 2-18 1-16-1 36-5 14-5 25-10zM200 651l31 0 32 2 60 11 18 1 78-5 108-1 110 1 82 5 16-1 60-11 33-2 39 0 28 2 20 4 7 12 5 3 55 5-7 2-48-1-4-2-5-11-3-3-30-3-42 1-34 2-26 4-48 10-24-3-32 2-50-3-202 0-48 3-32-2-22 3-12-1-38-9-24-4-70-3-20 1-18 2-3 3-5 11-4 2-48 1-7-2 39-3 18-3 3-2 5-11 10-3 18-3zM411 707l232 0 38 2 26-1 6 1 3 6-1 3-4 1-24 2-52-2-208 0-58 2-25-2-2-2 0-4 4-4 33 0zM134 719l2 0-1 4-4 3-56-1 5-2zM922 719l56 4 5 2-56 1-4-3zM426 753l189-1 66 3 30-1 4 2 1 5-1 3-4 1-24 2-52-2-208 0-58 2-25-2-2-2 0-4 3-4 34 0z"/><path fill="#6d0220" d="M457 617l144 0 97 4-8 2-15 1-52-2-194 0-48 1-13 0-8-2zM405 665l86-2 122 0 40 2 26 4-10 1-44-2-192 0-46 2-8-1zM410 711l91-2 116 1 64 3 24 0 3 2-27 2-60-2-196 0-50 2-24-2 2-2 24 0zM449 757l160 0 44 2-6 1-80 0-154 0-8-1z"/></g></g>
<g stroke="#000" fill="none"><path d="M1177.12 801.35v8.3" stroke-width="2.5"/><path d="M1206.5 801.35v14.6" stroke-width="3.3"/><path d="M1235.88 801.35v8.3" stroke-width="2.5"/><path d="M1265.25 801.35v14.6" stroke-width="3.3"/><path d="M1294.62 801.35v8.3" stroke-width="2.5"/><path d="M1324 801.35v14.6" stroke-width="3.3"/><path d="M1353.38 801.35v8.3" stroke-width="2.5"/><path d="M1382.75 801.35v14.6" stroke-width="3.3"/><path d="M1412.12 801.35v8.3" stroke-width="2.5"/><path d="M1441.5 801.35v14.6" stroke-width="3.3"/><path d="M1470.88 801.35v8.3" stroke-width="2.5"/><path d="M1500.25 801.35v14.6" stroke-width="3.3"/><path d="M1529.62 801.35v8.3" stroke-width="2.5"/><path d="M1559 801.35v14.6" stroke-width="3.3"/><path d="M1588.38 801.35v8.3" stroke-width="2.5"/><path d="M1617.75 801.35v14.6" stroke-width="3.3"/><path d="M1647.12 801.35v8.3" stroke-width="2.5"/><path d="M1676.5 801.35v14.6" stroke-width="3.3"/><path d="M1705.88 801.35v8.3" stroke-width="2.5"/><path d="M1177.45 797.4h-14.6" stroke-width="3.3"/><path d="M1177.45 767.98h-8.3" stroke-width="2.5"/><path d="M1177.45 738.56h-14.6" stroke-width="3.3"/><path d="M1177.45 709.14h-8.3" stroke-width="2.5"/><path d="M1177.45 679.72h-14.6" stroke-width="3.3"/><path d="M1177.45 650.3h-8.3" stroke-width="2.5"/><path d="M1177.45 620.88h-14.6" stroke-width="3.3"/><path d="M1177.45 591.46h-8.3" stroke-width="2.5"/><path d="M1177.45 562.04h-14.6" stroke-width="3.3"/><path d="M1177.45 532.62h-8.3" stroke-width="2.5"/><path d="M1177.45 503.2h-14.6" stroke-width="3.3"/><path d="M1177.45 473.78h-8.3" stroke-width="2.5"/><path d="M1177.45 444.36h-14.6" stroke-width="3.3"/><path d="M1177.45 414.94h-8.3" stroke-width="2.5"/><path d="M1177.45 385.52h-14.6" stroke-width="3.3"/><path d="M1177.45 356.1h-8.3" stroke-width="2.5"/><path d="M1177.45 326.68h-14.6" stroke-width="3.3"/><path d="M1177.45 297.26h-8.3" stroke-width="2.5"/></g>
<rect x="1177.45" y="271.6" width="528.95" height="529.75" fill="none" stroke="#000" stroke-width="3.3"/>
<g font-family="Liberation Serif, serif" font-size="50" fill="#000"><text transform="translate(1169.9 871) scale(1.354 0.69)">−</text><text x="1209.1" y="871">8</text><text transform="translate(1228.65 871) scale(1.354 0.69)">−</text><text x="1267.85" y="871">6</text><text transform="translate(1287.4 871) scale(1.354 0.69)">−</text><text x="1326.6" y="871">4</text><text transform="translate(1346.15 871) scale(1.354 0.69)">−</text><text x="1385.35" y="871">2</text><text x="1441" y="867" text-anchor="middle">0</text><text x="1499.75" y="867" text-anchor="middle">2</text><text x="1558.5" y="867" text-anchor="middle">4</text><text x="1617.25" y="867" text-anchor="middle">6</text><text x="1676" y="867" text-anchor="middle">8</text><text x="1147.45" y="815" text-anchor="end">46</text><text x="1147.45" y="756.16" text-anchor="end">48</text><text x="1147.45" y="697.32" text-anchor="end">50</text><text x="1147.45" y="638.48" text-anchor="end">52</text><text x="1147.45" y="579.64" text-anchor="end">54</text><text x="1147.45" y="520.8" text-anchor="end">56</text><text x="1147.45" y="461.96" text-anchor="end">58</text><text x="1147.45" y="403.12" text-anchor="end">60</text><text x="1147.45" y="344.28" text-anchor="end">62</text></g>
<text font-family="Liberation Serif, serif" font-size="50" x="1441.93" y="934" text-anchor="middle">x [micron]</text>
<text font-family="Liberation Serif, serif" font-size="50" transform="translate(1069.95 536.48) rotate(-90)" text-anchor="middle">y [micron]</text>
<rect x="1721.7" y="271.6" width="26" height="529.75" fill="url(#cb)"/>
<g stroke="#000" stroke-width="2.6" fill="none"><path d="M1747.7 536.48h14.6"/><path d="M1747.7 468.48h14.6"/><path d="M1747.7 438.84h14.6"/><path d="M1747.7 421.51h14.6"/><path d="M1747.7 409.21h14.6"/><path d="M1747.7 399.67h14.6"/><path d="M1747.7 391.88h14.6"/><path d="M1747.7 385.29h14.6"/><path d="M1747.7 379.58h14.6"/><path d="M1747.7 374.54h14.6"/><path d="M1747.7 370.04h14.6"/><path d="M1747.7 340.4h14.6"/><path d="M1747.7 323.07h14.6"/><path d="M1747.7 310.77h14.6"/><path d="M1747.7 301.23h14.6"/><path d="M1747.7 293.44h14.6"/><path d="M1747.7 286.85h14.6"/><path d="M1747.7 281.14h14.6"/><path d="M1747.7 276.1h14.6"/><path d="M1747.7 271.6h14.6"/><path d="M1747.7 604.48h14.6"/><path d="M1747.7 634.11h14.6"/><path d="M1747.7 651.44h14.6"/><path d="M1747.7 663.74h14.6"/><path d="M1747.7 673.28h14.6"/><path d="M1747.7 681.07h14.6"/><path d="M1747.7 687.66h14.6"/><path d="M1747.7 693.37h14.6"/><path d="M1747.7 698.41h14.6"/><path d="M1747.7 702.91h14.6"/><path d="M1747.7 732.55h14.6"/><path d="M1747.7 749.88h14.6"/><path d="M1747.7 762.18h14.6"/><path d="M1747.7 771.72h14.6"/><path d="M1747.7 779.51h14.6"/><path d="M1747.7 786.1h14.6"/><path d="M1747.7 791.81h14.6"/><path d="M1747.7 796.85h14.6"/><path d="M1747.7 801.35h14.6"/></g>
<rect x="1721.7" y="271.6" width="26" height="529.75" fill="none" stroke="#000" stroke-width="3.3"/>
<g font-family="Liberation Serif, serif" font-size="50" fill="#000"><text x="1774" y="554.68">0</text><text x="1771.3" y="486.28">10<tspan font-size="37" dy="-18.2">11</tspan></text><text transform="translate(1771.9 626.18) scale(1.354 0.69)">−</text><text x="1811" y="626.18">10<tspan font-size="37" dy="-18.2">11</tspan></text><text x="1771.3" y="387.84">10<tspan font-size="37" dy="-18.2">12</tspan></text><text transform="translate(1771.9 724.61) scale(1.354 0.69)">−</text><text x="1811" y="724.61">10<tspan font-size="37" dy="-18.2">12</tspan></text><text x="1771.3" y="289.4">10<tspan font-size="37" dy="-18.2">13</tspan></text><text transform="translate(1771.9 823.05) scale(1.354 0.69)">−</text><text x="1811" y="823.05">10<tspan font-size="37" dy="-18.2">13</tspan></text></g>
<text font-family="Liberation Serif, serif" font-size="50" transform="translate(1955.5 536.48) rotate(-90)" text-anchor="middle">Electric Field/Ey</text>
</g>
<g id="p2">
<rect x="2159.4" y="271.6" width="528.95" height="529.75" fill="#f7f7f7"/>

<g stroke="#000" fill="none"><path d="M2159.08 801.35v8.3" stroke-width="2.5"/><path d="M2188.45 801.35v14.6" stroke-width="3.3"/><path d="M2217.83 801.35v8.3" stroke-width="2.5"/><path d="M2247.2 801.35v14.6" stroke-width="3.3"/><path d="M2276.58 801.35v8.3" stroke-width="2.5"/><path d="M2305.95 801.35v14.6" stroke-width="3.3"/><path d="M2335.33 801.35v8.3" stroke-width="2.5"/><path d="M2364.7 801.35v14.6" stroke-width="3.3"/><path d="M2394.08 801.35v8.3" stroke-width="2.5"/><path d="M2423.45 801.35v14.6" stroke-width="3.3"/><path d="M2452.83 801.35v8.3" stroke-width="2.5"/><path d="M2482.2 801.35v14.6" stroke-width="3.3"/><path d="M2511.58 801.35v8.3" stroke-width="2.5"/><path d="M2540.95 801.35v14.6" stroke-width="3.3"/><path d="M2570.33 801.35v8.3" stroke-width="2.5"/><path d="M2599.7 801.35v14.6" stroke-width="3.3"/><path d="M2629.08 801.35v8.3" stroke-width="2.5"/><path d="M2658.45 801.35v14.6" stroke-width="3.3"/><path d="M2687.83 801.35v8.3" stroke-width="2.5"/><path d="M2159.4 797.4h-14.6" stroke-width="3.3"/><path d="M2159.4 767.98h-8.3" stroke-width="2.5"/><path d="M2159.4 738.56h-14.6" stroke-width="3.3"/><path d="M2159.4 709.14h-8.3" stroke-width="2.5"/><path d="M2159.4 679.72h-14.6" stroke-width="3.3"/><path d="M2159.4 650.3h-8.3" stroke-width="2.5"/><path d="M2159.4 620.88h-14.6" stroke-width="3.3"/><path d="M2159.4 591.46h-8.3" stroke-width="2.5"/><path d="M2159.4 562.04h-14.6" stroke-width="3.3"/><path d="M2159.4 532.62h-8.3" stroke-width="2.5"/><path d="M2159.4 503.2h-14.6" stroke-width="3.3"/><path d="M2159.4 473.78h-8.3" stroke-width="2.5"/><path d="M2159.4 444.36h-14.6" stroke-width="3.3"/><path d="M2159.4 414.94h-8.3" stroke-width="2.5"/><path d="M2159.4 385.52h-14.6" stroke-width="3.3"/><path d="M2159.4 356.1h-8.3" stroke-width="2.5"/><path d="M2159.4 326.68h-14.6" stroke-width="3.3"/><path d="M2159.4 297.26h-8.3" stroke-width="2.5"/></g>
<rect x="2159.4" y="271.6" width="528.95" height="529.75" fill="none" stroke="#000" stroke-width="3.3"/>
<g font-family="Liberation Serif, serif" font-size="50" fill="#000"><text transform="translate(2151.85 871) scale(1.354 0.69)">−</text><text x="2191.05" y="871">8</text><text transform="translate(2210.6 871) scale(1.354 0.69)">−</text><text x="2249.8" y="871">6</text><text transform="translate(2269.35 871) scale(1.354 0.69)">−</text><text x="2308.55" y="871">4</text><text transform="translate(2328.1 871) scale(1.354 0.69)">−</text><text x="2367.3" y="871">2</text><text x="2422.95" y="867" text-anchor="middle">0</text><text x="2481.7" y="867" text-anchor="middle">2</text><text x="2540.45" y="867" text-anchor="middle">4</text><text x="2599.2" y="867" text-anchor="middle">6</text><text x="2657.95" y="867" text-anchor="middle">8</text><text x="2129.4" y="815" text-anchor="end">46</text><text x="2129.4" y="756.16" text-anchor="end">48</text><text x="2129.4" y="697.32" text-anchor="end">50</text><text x="2129.4" y="638.48" text-anchor="end">52</text><text x="2129.4" y="579.64" text-anchor="end">54</text><text x="2129.4" y="520.8" text-anchor="end">56</text><text x="2129.4" y="461.96" text-anchor="end">58</text><text x="2129.4" y="403.12" text-anchor="end">60</text><text x="2129.4" y="344.28" text-anchor="end">62</text></g>
<text font-family="Liberation Serif, serif" font-size="50" x="2423.88" y="934" text-anchor="middle">x [micron]</text>
<text font-family="Liberation Serif, serif" font-size="50" transform="translate(2051.9 536.48) rotate(-90)" text-anchor="middle">y [micron]</text>
<rect x="2703.65" y="271.6" width="26" height="529.75" fill="url(#cb)"/>
<g stroke="#000" stroke-width="2.6" fill="none"><path d="M2729.65 536.48h14.6"/><path d="M2729.65 468.48h14.6"/><path d="M2729.65 438.84h14.6"/><path d="M2729.65 421.51h14.6"/><path d="M2729.65 409.21h14.6"/><path d="M2729.65 399.67h14.6"/><path d="M2729.65 391.88h14.6"/><path d="M2729.65 385.29h14.6"/><path d="M2729.65 379.58h14.6"/><path d="M2729.65 374.54h14.6"/><path d="M2729.65 370.04h14.6"/><path d="M2729.65 340.4h14.6"/><path d="M2729.65 323.07h14.6"/><path d="M2729.65 310.77h14.6"/><path d="M2729.65 301.23h14.6"/><path d="M2729.65 293.44h14.6"/><path d="M2729.65 286.85h14.6"/><path d="M2729.65 281.14h14.6"/><path d="M2729.65 276.1h14.6"/><path d="M2729.65 271.6h14.6"/><path d="M2729.65 604.48h14.6"/><path d="M2729.65 634.11h14.6"/><path d="M2729.65 651.44h14.6"/><path d="M2729.65 663.74h14.6"/><path d="M2729.65 673.28h14.6"/><path d="M2729.65 681.07h14.6"/><path d="M2729.65 687.66h14.6"/><path d="M2729.65 693.37h14.6"/><path d="M2729.65 698.41h14.6"/><path d="M2729.65 702.91h14.6"/><path d="M2729.65 732.55h14.6"/><path d="M2729.65 749.88h14.6"/><path d="M2729.65 762.18h14.6"/><path d="M2729.65 771.72h14.6"/><path d="M2729.65 779.51h14.6"/><path d="M2729.65 786.1h14.6"/><path d="M2729.65 791.81h14.6"/><path d="M2729.65 796.85h14.6"/><path d="M2729.65 801.35h14.6"/></g>
<rect x="2703.65" y="271.6" width="26" height="529.75" fill="none" stroke="#000" stroke-width="3.3"/>
<g font-family="Liberation Serif, serif" font-size="50" fill="#000"><text x="2755.95" y="554.68">0</text><text x="2753.25" y="486.28">10<tspan font-size="37" dy="-18.2">11</tspan></text><text transform="translate(2753.85 626.18) scale(1.354 0.69)">−</text><text x="2792.95" y="626.18">10<tspan font-size="37" dy="-18.2">11</tspan></text><text x="2753.25" y="387.84">10<tspan font-size="37" dy="-18.2">12</tspan></text><text transform="translate(2753.85 724.61) scale(1.354 0.69)">−</text><text x="2792.95" y="724.61">10<tspan font-size="37" dy="-18.2">12</tspan></text><text x="2753.25" y="289.4">10<tspan font-size="37" dy="-18.2">13</tspan></text><text transform="translate(2753.85 823.05) scale(1.354 0.69)">−</text><text x="2792.95" y="823.05">10<tspan font-size="37" dy="-18.2">13</tspan></text></g>
<text font-family="Liberation Serif, serif" font-size="50" transform="translate(2937.45 536.48) rotate(-90)" text-anchor="middle">Electric Field/Ez</text>
</g>
</svg></body></html>
